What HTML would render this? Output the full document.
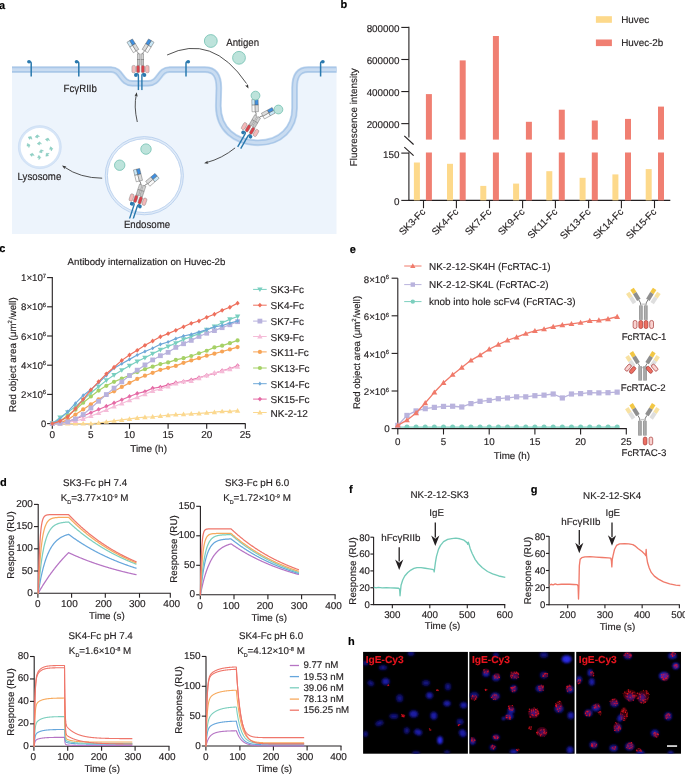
<!DOCTYPE html>
<html><head><meta charset="utf-8"><style>
html,body{margin:0;padding:0;background:#fff;}
body{width:685px;height:775px;overflow:hidden;}
svg{display:block;font-family:"Liberation Sans", sans-serif;will-change:transform;text-rendering:geometricPrecision;}
text{stroke-width:0.16px;}
</style></head><body>
<svg width="685" height="775" viewBox="0 0 685 775">
<text x="-0.90" y="8.70" font-size="11" text-anchor="start" fill="#000" stroke="#000" font-weight="bold">a</text>
<text x="340.50" y="8.30" font-size="11" text-anchor="start" fill="#000" stroke="#000" font-weight="bold">b</text>
<text x="-0.70" y="252.40" font-size="11" text-anchor="start" fill="#000" stroke="#000" font-weight="bold">c</text>
<text x="349.70" y="252.60" font-size="11" text-anchor="start" fill="#000" stroke="#000" font-weight="bold">e</text>
<text x="0.00" y="486.10" font-size="11" text-anchor="start" fill="#000" stroke="#000" font-weight="bold">d</text>
<text x="349.00" y="492.80" font-size="11" text-anchor="start" fill="#000" stroke="#000" font-weight="bold">f</text>
<text x="530.70" y="492.60" font-size="11" text-anchor="start" fill="#000" stroke="#000" font-weight="bold">g</text>
<text x="347.90" y="645.40" font-size="11" text-anchor="start" fill="#000" stroke="#000" font-weight="bold">h</text>
<path d="M12,69.6 H111 C122,69.6 120.5,83.4 132.5,83.4 H148 C160,83.4 158.5,69.6 169.5,69.6 H205 C215,69.6 218.8,76 218.8,88 L218.3,106 C218.3,129 235,142.8 258,142.8 C281,142.8 294.6,128 294.6,108 L294.6,88 C294.6,76 298.5,69.6 308,69.6 H336.5 V234.1 H12 Z" fill="#edf4fc"/>
<path d="M12,69.6 H111 C122,69.6 120.5,83.4 132.5,83.4 H148 C160,83.4 158.5,69.6 169.5,69.6 H205 C215,69.6 218.8,76 218.8,88 L218.3,106 C218.3,129 235,142.8 258,142.8 C281,142.8 294.6,128 294.6,108 L294.6,88 C294.6,76 298.5,69.6 308,69.6 H336.5" fill="none" stroke="#c9dcf1" stroke-width="6.8"/>
<path d="M12,69.6 H111 C122,69.6 120.5,83.4 132.5,83.4 H148 C160,83.4 158.5,69.6 169.5,69.6 H205 C215,69.6 218.8,76 218.8,88 L218.3,106 C218.3,129 235,142.8 258,142.8 C281,142.8 294.6,128 294.6,108 L294.6,88 C294.6,76 298.5,69.6 308,69.6 H336.5" fill="none" stroke="#a9c7e8" stroke-width="5.6"/>
<path d="M12,69.6 H111 C122,69.6 120.5,83.4 132.5,83.4 H148 C160,83.4 158.5,69.6 169.5,69.6 H205 C215,69.6 218.8,76 218.8,88 L218.3,106 C218.3,129 235,142.8 258,142.8 C281,142.8 294.6,128 294.6,108 L294.6,88 C294.6,76 298.5,69.6 308,69.6 H336.5" fill="none" stroke="#c9dcf1" stroke-width="2.9"/>
<path d="M31.2,76.5 V63.4 Q31.2,61.6 29.5,61.8" fill="none" stroke="#2a79ae" stroke-width="1.5"/>
<ellipse cx="29.0" cy="61.699999999999996" rx="1.9" ry="1.7" fill="#2a79ae"/>
<path d="M78.8,76.5 V63.4 Q78.8,61.6 77.1,61.8" fill="none" stroke="#2a79ae" stroke-width="1.5"/>
<ellipse cx="76.6" cy="61.699999999999996" rx="1.9" ry="1.7" fill="#2a79ae"/>
<path d="M186.0,76.5 V63.4 Q186.0,61.6 187.7,61.8" fill="none" stroke="#2a79ae" stroke-width="1.5"/>
<ellipse cx="188.2" cy="61.699999999999996" rx="1.9" ry="1.7" fill="#2a79ae"/>
<path d="M320.6,76.5 V63.4 Q320.6,61.6 322.3,61.8" fill="none" stroke="#2a79ae" stroke-width="1.5"/>
<ellipse cx="322.8" cy="61.699999999999996" rx="1.9" ry="1.7" fill="#2a79ae"/>
<circle cx="210.8" cy="41.0" r="6.4" fill="#bde3db" stroke="#7cc5b7" stroke-width="0.9"/>
<circle cx="239.0" cy="57.8" r="6.4" fill="#bde3db" stroke="#7cc5b7" stroke-width="0.9"/>
<defs><clipPath id="topclip"><rect x="0" y="0" width="345" height="90.2"/></clipPath><clipPath id="endoclip"><rect x="0" y="0" width="345" height="218.6"/></clipPath></defs>
<g clip-path="url(#topclip)">
<g transform="translate(140.5 65.2) rotate(0)"><g><path d="M-2.1,25 V10.4 Q-2.1,8.2 -4.2,8.6" fill="none" stroke="#2a79ae" stroke-width="1.4"/><circle cx="-4.6" cy="9.8" r="1.9" fill="#2a79ae"/><path d="M1.4,25 V10.4 Q1.4,8.2 3.5,8.6" fill="none" stroke="#2a79ae" stroke-width="1.4"/><circle cx="3.9" cy="9.8" r="1.9" fill="#2a79ae"/></g><g><path d="M-1.9,-11 Q-2.2,-13 -4.2,-14.3 M1.9,-11 Q2.2,-13 4.2,-14.3" fill="none" stroke="#333" stroke-width="0.55"/><rect x="-3.3" y="-11.3" width="2.8" height="5.6" fill="#d2d2d2" stroke="#666" stroke-width="0.4"/><rect x="-3.3" y="-5.7" width="2.8" height="5.7" fill="#c4c4c4" stroke="#666" stroke-width="0.4"/><rect x="0.5" y="-11.3" width="2.8" height="5.6" fill="#d2d2d2" stroke="#666" stroke-width="0.4"/><rect x="0.5" y="-5.7" width="2.8" height="5.7" fill="#c4c4c4" stroke="#666" stroke-width="0.4"/><g transform="translate(-7.55 -19.3) rotate(-31.5)"><rect x="-3.2" y="-6.2" width="3.2" height="5.6" fill="#cbe8f6" stroke="#555" stroke-width="0.4"/><rect x="0" y="-6.2" width="3.2" height="5.6" fill="#3f8fe0" stroke="#555" stroke-width="0.4"/><rect x="-3.2" y="-0.6" width="3.2" height="6.6" fill="#fafafa" stroke="#555" stroke-width="0.4"/><rect x="0" y="-0.6" width="3.2" height="6.6" fill="#dcdcdc" stroke="#555" stroke-width="0.4"/></g><g transform="translate(7.55 -19.3) rotate(31.5)"><rect x="0" y="-6.2" width="3.2" height="5.6" fill="#cbe8f6" stroke="#555" stroke-width="0.4"/><rect x="-3.2" y="-6.2" width="3.2" height="5.6" fill="#3f8fe0" stroke="#555" stroke-width="0.4"/><rect x="0" y="-0.6" width="3.2" height="6.6" fill="#fafafa" stroke="#555" stroke-width="0.4"/><rect x="-3.2" y="-0.6" width="3.2" height="6.6" fill="#dcdcdc" stroke="#555" stroke-width="0.4"/></g><rect x="-8.6" y="0.2" width="3.6" height="7.4" rx="1.5" fill="#f4b9b9" stroke="#777" stroke-width="0.4"/><rect x="-4.0" y="0.2" width="3.2" height="7.4" rx="1.4" fill="#d8414a" stroke="#777" stroke-width="0.4"/><rect x="0.8" y="0.2" width="3.2" height="7.4" rx="1.4" fill="#d8414a" stroke="#777" stroke-width="0.4"/><rect x="5.0" y="0.2" width="3.6" height="7.4" rx="1.5" fill="#f4b9b9" stroke="#777" stroke-width="0.4"/></g></g>
</g>
<g transform="translate(252.0 126.2) rotate(30)"><g><path d="M-2.1,25 V10.4 Q-2.1,8.2 -4.2,8.6" fill="none" stroke="#2a79ae" stroke-width="1.4"/><circle cx="-4.6" cy="9.8" r="1.9" fill="#2a79ae"/><path d="M1.4,25 V10.4 Q1.4,8.2 3.5,8.6" fill="none" stroke="#2a79ae" stroke-width="1.4"/><circle cx="3.9" cy="9.8" r="1.9" fill="#2a79ae"/></g><g><path d="M-1.9,-11 Q-2.2,-13 -4.2,-14.3 M1.9,-11 Q2.2,-13 4.2,-14.3" fill="none" stroke="#333" stroke-width="0.55"/><rect x="-3.3" y="-11.3" width="2.8" height="5.6" fill="#d2d2d2" stroke="#666" stroke-width="0.4"/><rect x="-3.3" y="-5.7" width="2.8" height="5.7" fill="#c4c4c4" stroke="#666" stroke-width="0.4"/><rect x="0.5" y="-11.3" width="2.8" height="5.6" fill="#d2d2d2" stroke="#666" stroke-width="0.4"/><rect x="0.5" y="-5.7" width="2.8" height="5.7" fill="#c4c4c4" stroke="#666" stroke-width="0.4"/><g transform="translate(-7.55 -19.3) rotate(-31.5)"><rect x="-3.2" y="-6.2" width="3.2" height="5.6" fill="#cbe8f6" stroke="#555" stroke-width="0.4"/><rect x="0" y="-6.2" width="3.2" height="5.6" fill="#3f8fe0" stroke="#555" stroke-width="0.4"/><rect x="-3.2" y="-0.6" width="3.2" height="6.6" fill="#fafafa" stroke="#555" stroke-width="0.4"/><rect x="0" y="-0.6" width="3.2" height="6.6" fill="#dcdcdc" stroke="#555" stroke-width="0.4"/></g><g transform="translate(7.55 -19.3) rotate(31.5)"><rect x="0" y="-6.2" width="3.2" height="5.6" fill="#cbe8f6" stroke="#555" stroke-width="0.4"/><rect x="-3.2" y="-6.2" width="3.2" height="5.6" fill="#3f8fe0" stroke="#555" stroke-width="0.4"/><rect x="0" y="-0.6" width="3.2" height="6.6" fill="#fafafa" stroke="#555" stroke-width="0.4"/><rect x="-3.2" y="-0.6" width="3.2" height="6.6" fill="#dcdcdc" stroke="#555" stroke-width="0.4"/></g><rect x="-8.6" y="0.2" width="3.6" height="7.4" rx="1.5" fill="#f4b9b9" stroke="#777" stroke-width="0.4"/><rect x="-4.0" y="0.2" width="3.2" height="7.4" rx="1.4" fill="#d8414a" stroke="#777" stroke-width="0.4"/><rect x="0.8" y="0.2" width="3.2" height="7.4" rx="1.4" fill="#d8414a" stroke="#777" stroke-width="0.4"/><rect x="5.0" y="0.2" width="3.6" height="7.4" rx="1.5" fill="#f4b9b9" stroke="#777" stroke-width="0.4"/></g></g>
<circle cx="255.5" cy="95.6" r="4.4" fill="#bde3db" stroke="#7cc5b7" stroke-width="0.9"/>
<circle cx="278.4" cy="109.5" r="4.4" fill="#bde3db" stroke="#7cc5b7" stroke-width="0.9"/>
<circle cx="39.8" cy="147.1" r="20.4" fill="#fff" stroke="#d6e5f7" stroke-width="2.4"/>
<circle cx="39.8" cy="147.1" r="21.5" fill="none" stroke="#c2d7f1" stroke-width="0.5"/>
<path d="M28.1,138.2 L30.4,136.3 L32.5,138.3 L30.6,138.1 L30.5,139.6Z" fill="#93d3c7" stroke="#6fbfb1" stroke-width="0.35" transform="rotate(30 30.3 137.9)"/>
<path d="M35.1,136.7 L37.4,134.8 L39.5,136.8 L37.6,136.6 L37.5,138.1Z" fill="#93d3c7" stroke="#6fbfb1" stroke-width="0.35" transform="rotate(-10 37.3 136.4)"/>
<path d="M45.4,139.9 L47.7,138.0 L49.8,140.0 L47.9,139.8 L47.8,141.3Z" fill="#93d3c7" stroke="#6fbfb1" stroke-width="0.35" transform="rotate(15 47.6 139.6)"/>
<path d="M37.2,143.7 L39.5,141.8 L41.6,143.8 L39.7,143.6 L39.6,145.1Z" fill="#93d3c7" stroke="#6fbfb1" stroke-width="0.35" transform="rotate(0 39.4 143.4)"/>
<path d="M26.3,145.7 L28.6,143.8 L30.7,145.8 L28.8,145.6 L28.7,147.1Z" fill="#93d3c7" stroke="#6fbfb1" stroke-width="0.35" transform="rotate(70 28.5 145.4)"/>
<path d="M49.0,149.1 L51.3,147.2 L53.4,149.2 L51.5,149.0 L51.4,150.5Z" fill="#93d3c7" stroke="#6fbfb1" stroke-width="0.35" transform="rotate(80 51.2 148.8)"/>
<path d="M39.1,151.5 L41.4,149.6 L43.5,151.6 L41.6,151.4 L41.5,152.9Z" fill="#93d3c7" stroke="#6fbfb1" stroke-width="0.35" transform="rotate(-20 41.3 151.2)"/>
<path d="M29.9,155.0 L32.2,153.1 L34.3,155.1 L32.4,154.9 L32.3,156.4Z" fill="#93d3c7" stroke="#6fbfb1" stroke-width="0.35" transform="rotate(10 32.1 154.7)"/>
<path d="M45.1,154.9 L47.4,153.0 L49.5,155.0 L47.6,154.8 L47.5,156.3Z" fill="#93d3c7" stroke="#6fbfb1" stroke-width="0.35" transform="rotate(-40 47.3 154.6)"/>
<path d="M37.0,157.8 L39.3,155.9 L41.4,157.9 L39.5,157.7 L39.4,159.2Z" fill="#93d3c7" stroke="#6fbfb1" stroke-width="0.35" transform="rotate(90 39.2 157.5)"/>
<circle cx="144.3" cy="175.7" r="38.0" fill="#fff" stroke="#e0ebf8" stroke-width="2.2"/>
<circle cx="144.3" cy="175.7" r="39.1" fill="none" stroke="#b3ccec" stroke-width="0.8"/>
<circle cx="144.3" cy="175.7" r="36.9" fill="none" stroke="#b3ccec" stroke-width="0.8"/>
<circle cx="146.0" cy="149.1" r="5.2" fill="#bde3db" stroke="#7cc5b7" stroke-width="0.9"/>
<circle cx="119.7" cy="165.2" r="5.2" fill="#bde3db" stroke="#7cc5b7" stroke-width="0.9"/>
<g clip-path="url(#endoclip)">
<g transform="translate(139.2 195.9) rotate(18)"><g><path d="M-2.1,25 V10.4 Q-2.1,8.2 -4.2,8.6" fill="none" stroke="#2a79ae" stroke-width="1.4"/><circle cx="-4.6" cy="9.8" r="1.9" fill="#2a79ae"/><path d="M1.4,25 V10.4 Q1.4,8.2 3.5,8.6" fill="none" stroke="#2a79ae" stroke-width="1.4"/><circle cx="3.9" cy="9.8" r="1.9" fill="#2a79ae"/></g><g><path d="M-1.9,-11 Q-2.2,-13 -4.2,-14.3 M1.9,-11 Q2.2,-13 4.2,-14.3" fill="none" stroke="#333" stroke-width="0.55"/><rect x="-3.3" y="-11.3" width="2.8" height="5.6" fill="#d2d2d2" stroke="#666" stroke-width="0.4"/><rect x="-3.3" y="-5.7" width="2.8" height="5.7" fill="#c4c4c4" stroke="#666" stroke-width="0.4"/><rect x="0.5" y="-11.3" width="2.8" height="5.6" fill="#d2d2d2" stroke="#666" stroke-width="0.4"/><rect x="0.5" y="-5.7" width="2.8" height="5.7" fill="#c4c4c4" stroke="#666" stroke-width="0.4"/><g transform="translate(-7.55 -19.3) rotate(-31.5)"><rect x="-3.2" y="-6.2" width="3.2" height="5.6" fill="#cbe8f6" stroke="#555" stroke-width="0.4"/><rect x="0" y="-6.2" width="3.2" height="5.6" fill="#3f8fe0" stroke="#555" stroke-width="0.4"/><rect x="-3.2" y="-0.6" width="3.2" height="6.6" fill="#fafafa" stroke="#555" stroke-width="0.4"/><rect x="0" y="-0.6" width="3.2" height="6.6" fill="#dcdcdc" stroke="#555" stroke-width="0.4"/></g><g transform="translate(7.55 -19.3) rotate(31.5)"><rect x="0" y="-6.2" width="3.2" height="5.6" fill="#cbe8f6" stroke="#555" stroke-width="0.4"/><rect x="-3.2" y="-6.2" width="3.2" height="5.6" fill="#3f8fe0" stroke="#555" stroke-width="0.4"/><rect x="0" y="-0.6" width="3.2" height="6.6" fill="#fafafa" stroke="#555" stroke-width="0.4"/><rect x="-3.2" y="-0.6" width="3.2" height="6.6" fill="#dcdcdc" stroke="#555" stroke-width="0.4"/></g><rect x="-8.6" y="0.2" width="3.6" height="7.4" rx="1.5" fill="#f4b9b9" stroke="#777" stroke-width="0.4"/><rect x="-4.0" y="0.2" width="3.2" height="7.4" rx="1.4" fill="#d8414a" stroke="#777" stroke-width="0.4"/><rect x="0.8" y="0.2" width="3.2" height="7.4" rx="1.4" fill="#d8414a" stroke="#777" stroke-width="0.4"/><rect x="5.0" y="0.2" width="3.6" height="7.4" rx="1.5" fill="#f4b9b9" stroke="#777" stroke-width="0.4"/></g></g>
</g>
<path d="M167.1,55 Q212,33 246.5,83.5" fill="none" stroke="#333" stroke-width="0.85"/>
<path d="M0,0 L-4.2,-1.6 L-3.3,0 L-4.2,1.6 Z" fill="#333" transform="translate(248.5 88.4) rotate(62)"/>
<path d="M137.3,122 Q133.6,106 136.4,94.3" fill="none" stroke="#333" stroke-width="0.85"/>
<path d="M0,0 L-4.2,-1.6 L-3.3,0 L-4.2,1.6 Z" fill="#333" transform="translate(136.7 92.3) rotate(-82)"/>
<path d="M235.1,147.9 Q222,158.5 206.4,162.6" fill="none" stroke="#333" stroke-width="0.85"/>
<path d="M0,0 L-4.2,-1.6 L-3.3,0 L-4.2,1.6 Z" fill="#333" transform="translate(204.1 163.3) rotate(165)"/>
<path d="M102.2,178.2 Q80,178 64.6,167.2" fill="none" stroke="#333" stroke-width="0.85"/>
<path d="M0,0 L-4.2,-1.6 L-3.3,0 L-4.2,1.6 Z" fill="#333" transform="translate(62.0 165.6) rotate(-148)"/>
<text x="0" y="0" font-size="10.5" text-anchor="start" fill="#231f20" stroke="#231f20" transform="translate(63.60 92.00) scale(0.92 1)">FcγRIIb</text>
<text x="0" y="0" font-size="10.5" text-anchor="start" fill="#231f20" stroke="#231f20" transform="translate(226.30 45.60) scale(0.92 1)">Antigen</text>
<text x="0" y="0" font-size="10.5" text-anchor="start" fill="#231f20" stroke="#231f20" transform="translate(17.60 180.20) scale(0.92 1)">Lysosome</text>
<text x="0" y="0" font-size="10.5" text-anchor="start" fill="#231f20" stroke="#231f20" transform="translate(123.90 228.20) scale(0.92 1)">Endosome</text>
<line x1="408.90" y1="26.80" x2="408.90" y2="137.50" stroke="#231f20" stroke-width="1.1"/>
<line x1="408.90" y1="152.60" x2="408.90" y2="200.80" stroke="#231f20" stroke-width="1.1"/>
<line x1="404.30" y1="135.80" x2="413.60" y2="144.50" stroke="#231f20" stroke-width="1.1"/>
<line x1="404.30" y1="147.10" x2="413.60" y2="155.70" stroke="#231f20" stroke-width="1.1"/>
<line x1="401.30" y1="27.42" x2="408.90" y2="27.42" stroke="#231f20" stroke-width="1.1"/>
<text x="399.50" y="31.82" font-size="9.85" text-anchor="end" fill="#231f20" stroke="#231f20">800000</text>
<line x1="401.30" y1="59.49" x2="408.90" y2="59.49" stroke="#231f20" stroke-width="1.1"/>
<text x="399.50" y="63.89" font-size="9.85" text-anchor="end" fill="#231f20" stroke="#231f20">600000</text>
<line x1="401.30" y1="91.56" x2="408.90" y2="91.56" stroke="#231f20" stroke-width="1.1"/>
<text x="399.50" y="95.96" font-size="9.85" text-anchor="end" fill="#231f20" stroke="#231f20">400000</text>
<line x1="401.30" y1="123.63" x2="408.90" y2="123.63" stroke="#231f20" stroke-width="1.1"/>
<text x="399.50" y="128.03" font-size="9.85" text-anchor="end" fill="#231f20" stroke="#231f20">200000</text>
<line x1="401.30" y1="153.10" x2="408.90" y2="153.10" stroke="#231f20" stroke-width="1.1"/>
<text x="399.50" y="157.50" font-size="9.85" text-anchor="end" fill="#231f20" stroke="#231f20">150</text>
<line x1="401.30" y1="200.40" x2="408.90" y2="200.40" stroke="#231f20" stroke-width="1.1"/>
<text x="399.50" y="204.80" font-size="9.85" text-anchor="end" fill="#231f20" stroke="#231f20">0</text>
<line x1="408.40" y1="200.40" x2="670.30" y2="200.40" stroke="#231f20" stroke-width="1.1"/>
<rect x="413.90" y="162.50" width="6.00" height="37.90" fill="#fdd98b"/>
<rect x="425.90" y="94.10" width="6.00" height="45.50" fill="#f07f72"/>
<rect x="425.90" y="152.50" width="6.00" height="47.90" fill="#f07f72"/>
<line x1="423.50" y1="200.40" x2="423.50" y2="208.20" stroke="#231f20" stroke-width="1.1"/>
<text x="426.10" y="212.60" font-size="9.85" text-anchor="end" fill="#231f20" stroke="#231f20" transform="rotate(-45 426.1 212.6)">SK3-Fc</text>
<rect x="447.00" y="163.80" width="6.00" height="36.60" fill="#fdd98b"/>
<rect x="459.70" y="60.40" width="6.00" height="79.20" fill="#f07f72"/>
<rect x="459.70" y="152.50" width="6.00" height="47.90" fill="#f07f72"/>
<line x1="456.40" y1="200.40" x2="456.40" y2="208.20" stroke="#231f20" stroke-width="1.1"/>
<text x="459.00" y="212.60" font-size="9.85" text-anchor="end" fill="#231f20" stroke="#231f20" transform="rotate(-45 459.0 212.6)">SK4-Fc</text>
<rect x="480.30" y="185.90" width="6.00" height="14.50" fill="#fdd98b"/>
<rect x="492.90" y="36.00" width="6.00" height="103.60" fill="#f07f72"/>
<rect x="492.90" y="152.50" width="6.00" height="47.90" fill="#f07f72"/>
<line x1="489.50" y1="200.40" x2="489.50" y2="208.20" stroke="#231f20" stroke-width="1.1"/>
<text x="492.10" y="212.60" font-size="9.85" text-anchor="end" fill="#231f20" stroke="#231f20" transform="rotate(-45 492.1 212.6)">SK7-Fc</text>
<rect x="513.10" y="183.60" width="6.00" height="16.80" fill="#fdd98b"/>
<rect x="525.90" y="121.80" width="6.00" height="17.80" fill="#f07f72"/>
<rect x="525.90" y="152.50" width="6.00" height="47.90" fill="#f07f72"/>
<line x1="522.60" y1="200.40" x2="522.60" y2="208.20" stroke="#231f20" stroke-width="1.1"/>
<text x="525.20" y="212.60" font-size="9.85" text-anchor="end" fill="#231f20" stroke="#231f20" transform="rotate(-45 525.2 212.6)">SK9-Fc</text>
<rect x="546.30" y="171.20" width="6.00" height="29.20" fill="#fdd98b"/>
<rect x="558.80" y="109.70" width="6.00" height="29.90" fill="#f07f72"/>
<rect x="558.80" y="152.50" width="6.00" height="47.90" fill="#f07f72"/>
<line x1="555.40" y1="200.40" x2="555.40" y2="208.20" stroke="#231f20" stroke-width="1.1"/>
<text x="558.00" y="212.60" font-size="9.85" text-anchor="end" fill="#231f20" stroke="#231f20" transform="rotate(-45 558.0 212.6)">SK11-Fc</text>
<rect x="579.60" y="177.80" width="6.00" height="22.60" fill="#fdd98b"/>
<rect x="591.80" y="120.50" width="6.00" height="19.10" fill="#f07f72"/>
<rect x="591.80" y="152.50" width="6.00" height="47.90" fill="#f07f72"/>
<line x1="588.60" y1="200.40" x2="588.60" y2="208.20" stroke="#231f20" stroke-width="1.1"/>
<text x="591.20" y="212.60" font-size="9.85" text-anchor="end" fill="#231f20" stroke="#231f20" transform="rotate(-45 591.2 212.6)">SK13-Fc</text>
<rect x="612.40" y="174.40" width="6.00" height="26.00" fill="#fdd98b"/>
<rect x="625.00" y="118.90" width="6.00" height="20.70" fill="#f07f72"/>
<rect x="625.00" y="152.50" width="6.00" height="47.90" fill="#f07f72"/>
<line x1="621.40" y1="200.40" x2="621.40" y2="208.20" stroke="#231f20" stroke-width="1.1"/>
<text x="624.00" y="212.60" font-size="9.85" text-anchor="end" fill="#231f20" stroke="#231f20" transform="rotate(-45 624.0 212.6)">SK14-Fc</text>
<rect x="645.70" y="169.10" width="6.00" height="31.30" fill="#fdd98b"/>
<rect x="658.00" y="106.60" width="6.00" height="33.00" fill="#f07f72"/>
<rect x="658.00" y="152.50" width="6.00" height="47.90" fill="#f07f72"/>
<line x1="654.50" y1="200.40" x2="654.50" y2="208.20" stroke="#231f20" stroke-width="1.1"/>
<text x="657.10" y="212.60" font-size="9.85" text-anchor="end" fill="#231f20" stroke="#231f20" transform="rotate(-45 657.1 212.6)">SK15-Fc</text>
<text x="357.50" y="117.20" font-size="9.85" text-anchor="middle" fill="#231f20" stroke="#231f20" transform="rotate(-90 357.5 117.2)">Fluorescence intensity</text>
<rect x="595.90" y="16.20" width="16.00" height="6.60" fill="#fdd98b"/>
<rect x="595.90" y="39.50" width="16.00" height="6.60" fill="#f07f72"/>
<text x="621.20" y="23.20" font-size="9.85" text-anchor="start" fill="#231f20" stroke="#231f20">Huvec</text>
<text x="621.20" y="46.30" font-size="9.85" text-anchor="start" fill="#231f20" stroke="#231f20">Huvec-2b</text>
<text x="146.50" y="265.00" font-size="9.7" text-anchor="middle" fill="#231f20" stroke="#231f20">Antibody internalization on Huvec-2b</text>
<line x1="52.30" y1="277.10" x2="52.30" y2="424.10" stroke="#231f20" stroke-width="1.1"/>
<line x1="51.80" y1="423.60" x2="245.50" y2="423.60" stroke="#231f20" stroke-width="1.1"/>
<line x1="47.10" y1="423.60" x2="52.30" y2="423.60" stroke="#231f20" stroke-width="1.1"/>
<text x="46.20" y="427.20" font-size="9.4" text-anchor="end" fill="#231f20" stroke="#231f20">0</text>
<line x1="47.10" y1="394.40" x2="52.30" y2="394.40" stroke="#231f20" stroke-width="1.1"/>
<text x="46.20" y="398.00" font-size="9.7" text-anchor="end" fill="#231f20" stroke="#231f20">2×10<tspan font-size="6.01" dy="-3.6">6</tspan></text>
<line x1="47.10" y1="365.20" x2="52.30" y2="365.20" stroke="#231f20" stroke-width="1.1"/>
<text x="46.20" y="368.80" font-size="9.7" text-anchor="end" fill="#231f20" stroke="#231f20">4×10<tspan font-size="6.01" dy="-3.6">6</tspan></text>
<line x1="47.10" y1="336.00" x2="52.30" y2="336.00" stroke="#231f20" stroke-width="1.1"/>
<text x="46.20" y="339.60" font-size="9.7" text-anchor="end" fill="#231f20" stroke="#231f20">6×10<tspan font-size="6.01" dy="-3.6">6</tspan></text>
<line x1="47.10" y1="306.80" x2="52.30" y2="306.80" stroke="#231f20" stroke-width="1.1"/>
<text x="46.20" y="310.40" font-size="9.7" text-anchor="end" fill="#231f20" stroke="#231f20">8×10<tspan font-size="6.01" dy="-3.6">6</tspan></text>
<line x1="47.10" y1="277.60" x2="52.30" y2="277.60" stroke="#231f20" stroke-width="1.1"/>
<text x="46.20" y="281.20" font-size="9.7" text-anchor="end" fill="#231f20" stroke="#231f20">1×10<tspan font-size="6.01" dy="-3.6">7</tspan></text>
<line x1="52.30" y1="423.60" x2="52.30" y2="428.80" stroke="#231f20" stroke-width="1.1"/>
<text x="52.30" y="438.30" font-size="10.0" text-anchor="middle" fill="#231f20" stroke="#231f20">0</text>
<line x1="90.90" y1="423.60" x2="90.90" y2="428.80" stroke="#231f20" stroke-width="1.1"/>
<text x="90.90" y="438.30" font-size="10.0" text-anchor="middle" fill="#231f20" stroke="#231f20">5</text>
<line x1="129.50" y1="423.60" x2="129.50" y2="428.80" stroke="#231f20" stroke-width="1.1"/>
<text x="129.50" y="438.30" font-size="10.0" text-anchor="middle" fill="#231f20" stroke="#231f20">10</text>
<line x1="168.10" y1="423.60" x2="168.10" y2="428.80" stroke="#231f20" stroke-width="1.1"/>
<text x="168.10" y="438.30" font-size="10.0" text-anchor="middle" fill="#231f20" stroke="#231f20">15</text>
<line x1="206.70" y1="423.60" x2="206.70" y2="428.80" stroke="#231f20" stroke-width="1.1"/>
<text x="206.70" y="438.30" font-size="10.0" text-anchor="middle" fill="#231f20" stroke="#231f20">20</text>
<line x1="245.30" y1="423.60" x2="245.30" y2="428.80" stroke="#231f20" stroke-width="1.1"/>
<text x="245.30" y="438.30" font-size="10.0" text-anchor="middle" fill="#231f20" stroke="#231f20">25</text>
<text x="148.60" y="452.30" font-size="10.0" text-anchor="middle" fill="#231f20" stroke="#231f20">Time (h)</text>
<text x="0" y="0" font-size="9.78" text-anchor="middle" fill="#231f20" stroke="#231f20" transform="translate(15.6 354.7) rotate(-90)">Red object area (μm<tspan font-size="6" dy="-3.4">2</tspan><tspan dy="3.4">/well)</tspan></text>
<polyline points="52.30,423.60 60.02,423.60 67.74,423.60 75.46,423.60 83.18,423.60 90.90,423.60 98.62,423.02 106.34,421.85 114.06,420.83 121.78,419.95 129.50,418.93 137.22,417.91 144.94,417.18 152.66,416.74 160.38,416.01 168.10,415.13 175.82,414.55 183.54,414.26 191.26,413.82 198.98,413.38 206.70,412.80 214.42,412.21 222.14,411.34 229.86,411.34 237.58,410.61" fill="none" stroke="#fbd88f" stroke-width="1.2" stroke-linejoin="round"/>
<path d="M52.30,420.90L55.00,425.62L49.60,425.62Z" fill="#fbd88f"/>
<path d="M60.02,420.90L62.72,425.62L57.32,425.62Z" fill="#fbd88f"/>
<path d="M67.74,420.90L70.44,425.62L65.04,425.62Z" fill="#fbd88f"/>
<path d="M75.46,420.90L78.16,425.62L72.76,425.62Z" fill="#fbd88f"/>
<path d="M83.18,420.90L85.88,425.62L80.48,425.62Z" fill="#fbd88f"/>
<path d="M90.90,420.90L93.60,425.62L88.20,425.62Z" fill="#fbd88f"/>
<path d="M98.62,420.32L101.32,425.04L95.92,425.04Z" fill="#fbd88f"/>
<path d="M106.34,419.15L109.04,423.87L103.64,423.87Z" fill="#fbd88f"/>
<path d="M114.06,418.13L116.76,422.85L111.36,422.85Z" fill="#fbd88f"/>
<path d="M121.78,417.25L124.48,421.98L119.08,421.98Z" fill="#fbd88f"/>
<path d="M129.50,416.23L132.20,420.95L126.80,420.95Z" fill="#fbd88f"/>
<path d="M137.22,415.21L139.92,419.93L134.52,419.93Z" fill="#fbd88f"/>
<path d="M144.94,414.48L147.64,419.20L142.24,419.20Z" fill="#fbd88f"/>
<path d="M152.66,414.04L155.36,418.76L149.96,418.76Z" fill="#fbd88f"/>
<path d="M160.38,413.31L163.08,418.03L157.68,418.03Z" fill="#fbd88f"/>
<path d="M168.10,412.43L170.80,417.16L165.40,417.16Z" fill="#fbd88f"/>
<path d="M175.82,411.85L178.52,416.57L173.12,416.57Z" fill="#fbd88f"/>
<path d="M183.54,411.56L186.24,416.28L180.84,416.28Z" fill="#fbd88f"/>
<path d="M191.26,411.12L193.96,415.84L188.56,415.84Z" fill="#fbd88f"/>
<path d="M198.98,410.68L201.68,415.40L196.28,415.40Z" fill="#fbd88f"/>
<path d="M206.70,410.10L209.40,414.82L204.00,414.82Z" fill="#fbd88f"/>
<path d="M214.42,409.51L217.12,414.24L211.72,414.24Z" fill="#fbd88f"/>
<path d="M222.14,408.64L224.84,413.36L219.44,413.36Z" fill="#fbd88f"/>
<path d="M229.86,408.64L232.56,413.36L227.16,413.36Z" fill="#fbd88f"/>
<path d="M237.58,407.91L240.28,412.63L234.88,412.63Z" fill="#fbd88f"/>
<polyline points="52.30,423.60 60.02,423.16 67.74,421.56 75.46,418.93 83.18,416.01 90.90,412.80 98.62,409.44 106.34,406.23 114.06,403.01 121.78,399.80 129.50,396.44 137.22,393.52 144.94,391.63 152.66,388.27 160.38,387.10 168.10,384.91 175.82,382.72 183.54,381.55 191.26,379.95 198.98,377.76 206.70,375.42 214.42,373.38 222.14,370.75 229.86,368.70 237.58,365.78" fill="none" stroke="#e56aa5" stroke-width="1.2" stroke-linejoin="round"/>
<path d="M52.30,421.19L54.40,423.60L52.30,426.02L50.20,423.60Z" fill="#e56aa5"/>
<path d="M60.02,420.75L62.12,423.16L60.02,425.58L57.92,423.16Z" fill="#e56aa5"/>
<path d="M67.74,419.14L69.84,421.56L67.74,423.97L65.64,421.56Z" fill="#e56aa5"/>
<path d="M75.46,416.51L77.56,418.93L75.46,421.34L73.36,418.93Z" fill="#e56aa5"/>
<path d="M83.18,413.59L85.28,416.01L83.18,418.42L81.08,416.01Z" fill="#e56aa5"/>
<path d="M90.90,410.38L93.00,412.80L90.90,415.21L88.80,412.80Z" fill="#e56aa5"/>
<path d="M98.62,407.02L100.72,409.44L98.62,411.85L96.52,409.44Z" fill="#e56aa5"/>
<path d="M106.34,403.81L108.44,406.23L106.34,408.64L104.24,406.23Z" fill="#e56aa5"/>
<path d="M114.06,400.60L116.16,403.01L114.06,405.43L111.96,403.01Z" fill="#e56aa5"/>
<path d="M121.78,397.39L123.88,399.80L121.78,402.22L119.68,399.80Z" fill="#e56aa5"/>
<path d="M129.50,394.03L131.60,396.44L129.50,398.86L127.40,396.44Z" fill="#e56aa5"/>
<path d="M137.22,391.11L139.32,393.52L137.22,395.94L135.12,393.52Z" fill="#e56aa5"/>
<path d="M144.94,389.21L147.04,391.63L144.94,394.04L142.84,391.63Z" fill="#e56aa5"/>
<path d="M152.66,385.85L154.76,388.27L152.66,390.68L150.56,388.27Z" fill="#e56aa5"/>
<path d="M160.38,384.69L162.48,387.10L160.38,389.52L158.28,387.10Z" fill="#e56aa5"/>
<path d="M168.10,382.50L170.20,384.91L168.10,387.33L166.00,384.91Z" fill="#e56aa5"/>
<path d="M175.82,380.31L177.92,382.72L175.82,385.14L173.72,382.72Z" fill="#e56aa5"/>
<path d="M183.54,379.14L185.64,381.55L183.54,383.97L181.44,381.55Z" fill="#e56aa5"/>
<path d="M191.26,377.53L193.36,379.95L191.26,382.36L189.16,379.95Z" fill="#e56aa5"/>
<path d="M198.98,375.34L201.08,377.76L198.98,380.17L196.88,377.76Z" fill="#e56aa5"/>
<path d="M206.70,373.00L208.80,375.42L206.70,377.84L204.60,375.42Z" fill="#e56aa5"/>
<path d="M214.42,370.96L216.52,373.38L214.42,375.79L212.32,373.38Z" fill="#e56aa5"/>
<path d="M222.14,368.33L224.24,370.75L222.14,373.16L220.04,370.75Z" fill="#e56aa5"/>
<path d="M229.86,366.29L231.96,368.70L229.86,371.12L227.76,368.70Z" fill="#e56aa5"/>
<path d="M237.58,363.37L239.68,365.78L237.58,368.20L235.48,365.78Z" fill="#e56aa5"/>
<polyline points="52.30,423.60 60.02,423.31 67.74,422.43 75.46,420.97 83.18,418.93 90.90,416.01 98.62,413.09 106.34,409.88 114.06,406.52 121.78,403.45 129.50,400.24 137.22,397.32 144.94,394.25 152.66,390.90 160.38,389.00 168.10,386.37 175.82,383.60 183.54,381.55 191.26,380.97 198.98,378.34 206.70,375.42 214.42,372.79 222.14,371.19 229.86,369.14 237.58,366.66" fill="none" stroke="#f5bcd8" stroke-width="1.2" stroke-linejoin="round"/>
<path d="M52.30,420.90L55.00,425.62L49.60,425.62Z" fill="#f5bcd8"/>
<path d="M60.02,420.61L62.72,425.33L57.32,425.33Z" fill="#f5bcd8"/>
<path d="M67.74,419.73L70.44,424.46L65.04,424.46Z" fill="#f5bcd8"/>
<path d="M75.46,418.27L78.16,423.00L72.76,423.00Z" fill="#f5bcd8"/>
<path d="M83.18,416.23L85.88,420.95L80.48,420.95Z" fill="#f5bcd8"/>
<path d="M90.90,413.31L93.60,418.03L88.20,418.03Z" fill="#f5bcd8"/>
<path d="M98.62,410.39L101.32,415.11L95.92,415.11Z" fill="#f5bcd8"/>
<path d="M106.34,407.18L109.04,411.90L103.64,411.90Z" fill="#f5bcd8"/>
<path d="M114.06,403.82L116.76,408.54L111.36,408.54Z" fill="#f5bcd8"/>
<path d="M121.78,400.75L124.48,405.48L119.08,405.48Z" fill="#f5bcd8"/>
<path d="M129.50,397.54L132.20,402.26L126.80,402.26Z" fill="#f5bcd8"/>
<path d="M137.22,394.62L139.92,399.35L134.52,399.35Z" fill="#f5bcd8"/>
<path d="M144.94,391.55L147.64,396.28L142.24,396.28Z" fill="#f5bcd8"/>
<path d="M152.66,388.20L155.36,392.92L149.96,392.92Z" fill="#f5bcd8"/>
<path d="M160.38,386.30L163.08,391.02L157.68,391.02Z" fill="#f5bcd8"/>
<path d="M168.10,383.67L170.80,388.39L165.40,388.39Z" fill="#f5bcd8"/>
<path d="M175.82,380.90L178.52,385.62L173.12,385.62Z" fill="#f5bcd8"/>
<path d="M183.54,378.85L186.24,383.58L180.84,383.58Z" fill="#f5bcd8"/>
<path d="M191.26,378.27L193.96,382.99L188.56,382.99Z" fill="#f5bcd8"/>
<path d="M198.98,375.64L201.68,380.37L196.28,380.37Z" fill="#f5bcd8"/>
<path d="M206.70,372.72L209.40,377.44L204.00,377.44Z" fill="#f5bcd8"/>
<path d="M214.42,370.09L217.12,374.82L211.72,374.82Z" fill="#f5bcd8"/>
<path d="M222.14,368.49L224.84,373.21L219.44,373.21Z" fill="#f5bcd8"/>
<path d="M229.86,366.44L232.56,371.17L227.16,371.17Z" fill="#f5bcd8"/>
<path d="M237.58,363.96L240.28,368.69L234.88,368.69Z" fill="#f5bcd8"/>
<polyline points="52.30,423.60 60.02,422.87 67.74,419.66 75.46,414.55 83.18,409.44 90.90,404.33 98.62,399.36 106.34,394.98 114.06,391.33 121.78,386.95 129.50,382.87 137.22,378.92 144.94,375.71 152.66,372.79 160.38,369.87 168.10,367.83 175.82,365.93 183.54,362.86 191.26,360.38 198.98,358.19 206.70,355.71 214.42,353.67 222.14,351.48 229.86,349.43 237.58,347.10" fill="none" stroke="#f7a456" stroke-width="1.2" stroke-linejoin="round"/>
<circle cx="52.30" cy="423.60" r="2.10" fill="#f7a456"/>
<circle cx="60.02" cy="422.87" r="2.10" fill="#f7a456"/>
<circle cx="67.74" cy="419.66" r="2.10" fill="#f7a456"/>
<circle cx="75.46" cy="414.55" r="2.10" fill="#f7a456"/>
<circle cx="83.18" cy="409.44" r="2.10" fill="#f7a456"/>
<circle cx="90.90" cy="404.33" r="2.10" fill="#f7a456"/>
<circle cx="98.62" cy="399.36" r="2.10" fill="#f7a456"/>
<circle cx="106.34" cy="394.98" r="2.10" fill="#f7a456"/>
<circle cx="114.06" cy="391.33" r="2.10" fill="#f7a456"/>
<circle cx="121.78" cy="386.95" r="2.10" fill="#f7a456"/>
<circle cx="129.50" cy="382.87" r="2.10" fill="#f7a456"/>
<circle cx="137.22" cy="378.92" r="2.10" fill="#f7a456"/>
<circle cx="144.94" cy="375.71" r="2.10" fill="#f7a456"/>
<circle cx="152.66" cy="372.79" r="2.10" fill="#f7a456"/>
<circle cx="160.38" cy="369.87" r="2.10" fill="#f7a456"/>
<circle cx="168.10" cy="367.83" r="2.10" fill="#f7a456"/>
<circle cx="175.82" cy="365.93" r="2.10" fill="#f7a456"/>
<circle cx="183.54" cy="362.86" r="2.10" fill="#f7a456"/>
<circle cx="191.26" cy="360.38" r="2.10" fill="#f7a456"/>
<circle cx="198.98" cy="358.19" r="2.10" fill="#f7a456"/>
<circle cx="206.70" cy="355.71" r="2.10" fill="#f7a456"/>
<circle cx="214.42" cy="353.67" r="2.10" fill="#f7a456"/>
<circle cx="222.14" cy="351.48" r="2.10" fill="#f7a456"/>
<circle cx="229.86" cy="349.43" r="2.10" fill="#f7a456"/>
<circle cx="237.58" cy="347.10" r="2.10" fill="#f7a456"/>
<polyline points="52.30,423.60 60.02,421.12 67.74,415.28 75.46,409.73 83.18,402.72 90.90,396.44 98.62,390.60 106.34,385.79 114.06,381.84 121.78,378.49 129.50,375.27 137.22,372.06 144.94,369.14 152.66,366.66 160.38,364.03 168.10,362.43 175.82,359.94 183.54,358.19 191.26,356.00 198.98,353.23 206.70,350.75 214.42,347.39 222.14,345.64 229.86,343.15 237.58,340.38" fill="none" stroke="#a6d166" stroke-width="1.2" stroke-linejoin="round"/>
<circle cx="52.30" cy="423.60" r="2.10" fill="#a6d166"/>
<circle cx="60.02" cy="421.12" r="2.10" fill="#a6d166"/>
<circle cx="67.74" cy="415.28" r="2.10" fill="#a6d166"/>
<circle cx="75.46" cy="409.73" r="2.10" fill="#a6d166"/>
<circle cx="83.18" cy="402.72" r="2.10" fill="#a6d166"/>
<circle cx="90.90" cy="396.44" r="2.10" fill="#a6d166"/>
<circle cx="98.62" cy="390.60" r="2.10" fill="#a6d166"/>
<circle cx="106.34" cy="385.79" r="2.10" fill="#a6d166"/>
<circle cx="114.06" cy="381.84" r="2.10" fill="#a6d166"/>
<circle cx="121.78" cy="378.49" r="2.10" fill="#a6d166"/>
<circle cx="129.50" cy="375.27" r="2.10" fill="#a6d166"/>
<circle cx="137.22" cy="372.06" r="2.10" fill="#a6d166"/>
<circle cx="144.94" cy="369.14" r="2.10" fill="#a6d166"/>
<circle cx="152.66" cy="366.66" r="2.10" fill="#a6d166"/>
<circle cx="160.38" cy="364.03" r="2.10" fill="#a6d166"/>
<circle cx="168.10" cy="362.43" r="2.10" fill="#a6d166"/>
<circle cx="175.82" cy="359.94" r="2.10" fill="#a6d166"/>
<circle cx="183.54" cy="358.19" r="2.10" fill="#a6d166"/>
<circle cx="191.26" cy="356.00" r="2.10" fill="#a6d166"/>
<circle cx="198.98" cy="353.23" r="2.10" fill="#a6d166"/>
<circle cx="206.70" cy="350.75" r="2.10" fill="#a6d166"/>
<circle cx="214.42" cy="347.39" r="2.10" fill="#a6d166"/>
<circle cx="222.14" cy="345.64" r="2.10" fill="#a6d166"/>
<circle cx="229.86" cy="343.15" r="2.10" fill="#a6d166"/>
<circle cx="237.58" cy="340.38" r="2.10" fill="#a6d166"/>
<polyline points="52.30,423.60 60.02,423.31 67.74,421.85 75.46,418.93 83.18,414.55 90.90,407.98 98.62,401.26 106.34,394.55 114.06,388.12 121.78,381.84 129.50,375.57 137.22,370.16 144.94,364.91 152.66,359.94 160.38,355.71 168.10,352.35 175.82,347.39 183.54,343.74 191.26,340.38 198.98,336.44 206.70,333.23 214.42,330.60 222.14,327.68 229.86,324.76 237.58,321.69" fill="none" stroke="#b8b2dd" stroke-width="1.2" stroke-linejoin="round"/>
<rect x="49.90" y="421.20" width="4.80" height="4.80" fill="#b8b2dd"/>
<rect x="57.62" y="420.91" width="4.80" height="4.80" fill="#b8b2dd"/>
<rect x="65.34" y="419.45" width="4.80" height="4.80" fill="#b8b2dd"/>
<rect x="73.06" y="416.53" width="4.80" height="4.80" fill="#b8b2dd"/>
<rect x="80.78" y="412.15" width="4.80" height="4.80" fill="#b8b2dd"/>
<rect x="88.50" y="405.58" width="4.80" height="4.80" fill="#b8b2dd"/>
<rect x="96.22" y="398.86" width="4.80" height="4.80" fill="#b8b2dd"/>
<rect x="103.94" y="392.15" width="4.80" height="4.80" fill="#b8b2dd"/>
<rect x="111.66" y="385.72" width="4.80" height="4.80" fill="#b8b2dd"/>
<rect x="119.38" y="379.44" width="4.80" height="4.80" fill="#b8b2dd"/>
<rect x="127.10" y="373.17" width="4.80" height="4.80" fill="#b8b2dd"/>
<rect x="134.82" y="367.76" width="4.80" height="4.80" fill="#b8b2dd"/>
<rect x="142.54" y="362.51" width="4.80" height="4.80" fill="#b8b2dd"/>
<rect x="150.26" y="357.54" width="4.80" height="4.80" fill="#b8b2dd"/>
<rect x="157.98" y="353.31" width="4.80" height="4.80" fill="#b8b2dd"/>
<rect x="165.70" y="349.95" width="4.80" height="4.80" fill="#b8b2dd"/>
<rect x="173.42" y="344.99" width="4.80" height="4.80" fill="#b8b2dd"/>
<rect x="181.14" y="341.34" width="4.80" height="4.80" fill="#b8b2dd"/>
<rect x="188.86" y="337.98" width="4.80" height="4.80" fill="#b8b2dd"/>
<rect x="196.58" y="334.04" width="4.80" height="4.80" fill="#b8b2dd"/>
<rect x="204.30" y="330.83" width="4.80" height="4.80" fill="#b8b2dd"/>
<rect x="212.02" y="328.20" width="4.80" height="4.80" fill="#b8b2dd"/>
<rect x="219.74" y="325.28" width="4.80" height="4.80" fill="#b8b2dd"/>
<rect x="227.46" y="322.36" width="4.80" height="4.80" fill="#b8b2dd"/>
<rect x="235.18" y="319.29" width="4.80" height="4.80" fill="#b8b2dd"/>
<polyline points="52.30,423.60 60.02,417.47 67.74,412.36 75.46,406.52 83.18,399.80 90.90,392.79 98.62,386.66 106.34,380.38 114.06,374.98 121.78,370.16 129.50,365.78 137.22,361.55 144.94,357.75 152.66,353.67 160.38,349.87 168.10,346.51 175.82,343.15 183.54,339.36 191.26,336.58 198.98,333.66 206.70,329.87 214.42,326.51 222.14,322.71 229.86,319.36 237.58,316.44" fill="none" stroke="#79cfc0" stroke-width="1.2" stroke-linejoin="round"/>
<path d="M52.30,426.30L55.00,421.58L49.60,421.58Z" fill="#79cfc0"/>
<path d="M60.02,420.17L62.72,415.44L57.32,415.44Z" fill="#79cfc0"/>
<path d="M67.74,415.06L70.44,410.33L65.04,410.33Z" fill="#79cfc0"/>
<path d="M75.46,409.22L78.16,404.49L72.76,404.49Z" fill="#79cfc0"/>
<path d="M83.18,402.50L85.88,397.78L80.48,397.78Z" fill="#79cfc0"/>
<path d="M90.90,395.49L93.60,390.77L88.20,390.77Z" fill="#79cfc0"/>
<path d="M98.62,389.36L101.32,384.64L95.92,384.64Z" fill="#79cfc0"/>
<path d="M106.34,383.08L109.04,378.36L103.64,378.36Z" fill="#79cfc0"/>
<path d="M114.06,377.68L116.76,372.96L111.36,372.96Z" fill="#79cfc0"/>
<path d="M121.78,372.86L124.48,368.14L119.08,368.14Z" fill="#79cfc0"/>
<path d="M129.50,368.48L132.20,363.76L126.80,363.76Z" fill="#79cfc0"/>
<path d="M137.22,364.25L139.92,359.53L134.52,359.53Z" fill="#79cfc0"/>
<path d="M144.94,360.45L147.64,355.73L142.24,355.73Z" fill="#79cfc0"/>
<path d="M152.66,356.37L155.36,351.64L149.96,351.64Z" fill="#79cfc0"/>
<path d="M160.38,352.57L163.08,347.85L157.68,347.85Z" fill="#79cfc0"/>
<path d="M168.10,349.21L170.80,344.49L165.40,344.49Z" fill="#79cfc0"/>
<path d="M175.82,345.85L178.52,341.13L173.12,341.13Z" fill="#79cfc0"/>
<path d="M183.54,342.06L186.24,337.33L180.84,337.33Z" fill="#79cfc0"/>
<path d="M191.26,339.28L193.96,334.56L188.56,334.56Z" fill="#79cfc0"/>
<path d="M198.98,336.36L201.68,331.64L196.28,331.64Z" fill="#79cfc0"/>
<path d="M206.70,332.57L209.40,327.84L204.00,327.84Z" fill="#79cfc0"/>
<path d="M214.42,329.21L217.12,324.49L211.72,324.49Z" fill="#79cfc0"/>
<path d="M222.14,325.41L224.84,320.69L219.44,320.69Z" fill="#79cfc0"/>
<path d="M229.86,322.06L232.56,317.33L227.16,317.33Z" fill="#79cfc0"/>
<path d="M237.58,319.14L240.28,314.41L234.88,314.41Z" fill="#79cfc0"/>
<polyline points="52.30,423.60 60.02,418.93 67.74,411.63 75.46,403.31 83.18,395.42 90.90,389.58 98.62,382.72 106.34,375.42 114.06,368.12 121.78,363.74 129.50,359.36 137.22,354.98 144.94,351.48 152.66,348.26 160.38,344.32 168.10,341.99 175.82,338.63 183.54,336.00 191.26,334.39 198.98,332.06 206.70,329.58 214.42,326.95 222.14,325.49 229.86,323.15 237.58,320.96" fill="none" stroke="#6ea8d8" stroke-width="1.2" stroke-linejoin="round"/>
<path d="M52.30,421.50L53.98,423.60L52.30,425.70L50.62,423.60Z" fill="#6ea8d8"/>
<path d="M60.02,416.83L61.70,418.93L60.02,421.03L58.34,418.93Z" fill="#6ea8d8"/>
<path d="M67.74,409.53L69.42,411.63L67.74,413.73L66.06,411.63Z" fill="#6ea8d8"/>
<path d="M75.46,401.21L77.14,403.31L75.46,405.41L73.78,403.31Z" fill="#6ea8d8"/>
<path d="M83.18,393.32L84.86,395.42L83.18,397.52L81.50,395.42Z" fill="#6ea8d8"/>
<path d="M90.90,387.48L92.58,389.58L90.90,391.68L89.22,389.58Z" fill="#6ea8d8"/>
<path d="M98.62,380.62L100.30,382.72L98.62,384.82L96.94,382.72Z" fill="#6ea8d8"/>
<path d="M106.34,373.32L108.02,375.42L106.34,377.52L104.66,375.42Z" fill="#6ea8d8"/>
<path d="M114.06,366.02L115.74,368.12L114.06,370.22L112.38,368.12Z" fill="#6ea8d8"/>
<path d="M121.78,361.64L123.46,363.74L121.78,365.84L120.10,363.74Z" fill="#6ea8d8"/>
<path d="M129.50,357.26L131.18,359.36L129.50,361.46L127.82,359.36Z" fill="#6ea8d8"/>
<path d="M137.22,352.88L138.90,354.98L137.22,357.08L135.54,354.98Z" fill="#6ea8d8"/>
<path d="M144.94,349.38L146.62,351.48L144.94,353.58L143.26,351.48Z" fill="#6ea8d8"/>
<path d="M152.66,346.16L154.34,348.26L152.66,350.36L150.98,348.26Z" fill="#6ea8d8"/>
<path d="M160.38,342.22L162.06,344.32L160.38,346.42L158.70,344.32Z" fill="#6ea8d8"/>
<path d="M168.10,339.89L169.78,341.99L168.10,344.09L166.42,341.99Z" fill="#6ea8d8"/>
<path d="M175.82,336.53L177.50,338.63L175.82,340.73L174.14,338.63Z" fill="#6ea8d8"/>
<path d="M183.54,333.90L185.22,336.00L183.54,338.10L181.86,336.00Z" fill="#6ea8d8"/>
<path d="M191.26,332.29L192.94,334.39L191.26,336.49L189.58,334.39Z" fill="#6ea8d8"/>
<path d="M198.98,329.96L200.66,332.06L198.98,334.16L197.30,332.06Z" fill="#6ea8d8"/>
<path d="M206.70,327.48L208.38,329.58L206.70,331.68L205.02,329.58Z" fill="#6ea8d8"/>
<path d="M214.42,324.85L216.10,326.95L214.42,329.05L212.74,326.95Z" fill="#6ea8d8"/>
<path d="M222.14,323.39L223.82,325.49L222.14,327.59L220.46,325.49Z" fill="#6ea8d8"/>
<path d="M229.86,321.05L231.54,323.15L229.86,325.25L228.18,323.15Z" fill="#6ea8d8"/>
<path d="M237.58,318.86L239.26,320.96L237.58,323.06L235.90,320.96Z" fill="#6ea8d8"/>
<polyline points="52.30,423.60 60.02,421.12 67.74,416.74 75.46,408.71 83.18,399.36 90.90,389.87 98.62,381.55 106.34,373.81 114.06,367.24 121.78,360.38 129.50,354.98 137.22,350.31 144.94,345.34 152.66,340.96 160.38,336.73 168.10,333.66 175.82,330.31 183.54,326.80 191.26,323.30 198.98,320.96 206.70,317.31 214.42,314.25 222.14,310.30 229.86,307.24 237.58,303.15" fill="none" stroke="#ee6f5c" stroke-width="1.2" stroke-linejoin="round"/>
<path d="M52.30,421.19L54.40,423.60L52.30,426.02L50.20,423.60Z" fill="#ee6f5c"/>
<path d="M60.02,418.70L62.12,421.12L60.02,423.53L57.92,421.12Z" fill="#ee6f5c"/>
<path d="M67.74,414.32L69.84,416.74L67.74,419.15L65.64,416.74Z" fill="#ee6f5c"/>
<path d="M75.46,406.29L77.56,408.71L75.46,411.12L73.36,408.71Z" fill="#ee6f5c"/>
<path d="M83.18,396.95L85.28,399.36L83.18,401.78L81.08,399.36Z" fill="#ee6f5c"/>
<path d="M90.90,387.46L93.00,389.87L90.90,392.29L88.80,389.87Z" fill="#ee6f5c"/>
<path d="M98.62,379.14L100.72,381.55L98.62,383.97L96.52,381.55Z" fill="#ee6f5c"/>
<path d="M106.34,371.40L108.44,373.81L106.34,376.23L104.24,373.81Z" fill="#ee6f5c"/>
<path d="M114.06,364.83L116.16,367.24L114.06,369.66L111.96,367.24Z" fill="#ee6f5c"/>
<path d="M121.78,357.97L123.88,360.38L121.78,362.80L119.68,360.38Z" fill="#ee6f5c"/>
<path d="M129.50,352.56L131.60,354.98L129.50,357.40L127.40,354.98Z" fill="#ee6f5c"/>
<path d="M137.22,347.89L139.32,350.31L137.22,352.72L135.12,350.31Z" fill="#ee6f5c"/>
<path d="M144.94,342.93L147.04,345.34L144.94,347.76L142.84,345.34Z" fill="#ee6f5c"/>
<path d="M152.66,338.55L154.76,340.96L152.66,343.38L150.56,340.96Z" fill="#ee6f5c"/>
<path d="M160.38,334.31L162.48,336.73L160.38,339.15L158.28,336.73Z" fill="#ee6f5c"/>
<path d="M168.10,331.25L170.20,333.66L168.10,336.08L166.00,333.66Z" fill="#ee6f5c"/>
<path d="M175.82,327.89L177.92,330.31L175.82,332.72L173.72,330.31Z" fill="#ee6f5c"/>
<path d="M183.54,324.39L185.64,326.80L183.54,329.22L181.44,326.80Z" fill="#ee6f5c"/>
<path d="M191.26,320.88L193.36,323.30L191.26,325.71L189.16,323.30Z" fill="#ee6f5c"/>
<path d="M198.98,318.55L201.08,320.96L198.98,323.38L196.88,320.96Z" fill="#ee6f5c"/>
<path d="M206.70,314.90L208.80,317.31L206.70,319.73L204.60,317.31Z" fill="#ee6f5c"/>
<path d="M214.42,311.83L216.52,314.25L214.42,316.66L212.32,314.25Z" fill="#ee6f5c"/>
<path d="M222.14,307.89L224.24,310.30L222.14,312.72L220.04,310.30Z" fill="#ee6f5c"/>
<path d="M229.86,304.82L231.96,307.24L229.86,309.65L227.76,307.24Z" fill="#ee6f5c"/>
<path d="M237.58,300.74L239.68,303.15L237.58,305.57L235.48,303.15Z" fill="#ee6f5c"/>
<line x1="253.10" y1="289.40" x2="266.70" y2="289.40" stroke="#79cfc0" stroke-width="1.0"/>
<path d="M259.90,292.10L262.60,287.38L257.20,287.38Z" fill="#79cfc0"/>
<text x="270.60" y="293.40" font-size="10.0" text-anchor="start" fill="#231f20" stroke="#231f20">SK3-Fc</text>
<line x1="253.10" y1="305.20" x2="266.70" y2="305.20" stroke="#ee6f5c" stroke-width="1.0"/>
<path d="M259.90,302.78L262.00,305.20L259.90,307.62L257.80,305.20Z" fill="#ee6f5c"/>
<text x="270.60" y="309.20" font-size="10.0" text-anchor="start" fill="#231f20" stroke="#231f20">SK4-Fc</text>
<line x1="253.10" y1="321.10" x2="266.70" y2="321.10" stroke="#b8b2dd" stroke-width="1.0"/>
<rect x="257.50" y="318.70" width="4.80" height="4.80" fill="#b8b2dd"/>
<text x="270.60" y="325.10" font-size="10.0" text-anchor="start" fill="#231f20" stroke="#231f20">SK7-Fc</text>
<line x1="253.10" y1="336.50" x2="266.70" y2="336.50" stroke="#f5bcd8" stroke-width="1.0"/>
<path d="M259.90,333.80L262.60,338.52L257.20,338.52Z" fill="#f5bcd8"/>
<text x="270.60" y="340.50" font-size="10.0" text-anchor="start" fill="#231f20" stroke="#231f20">SK9-Fc</text>
<line x1="253.10" y1="351.90" x2="266.70" y2="351.90" stroke="#f7a456" stroke-width="1.0"/>
<circle cx="259.90" cy="351.90" r="2.10" fill="#f7a456"/>
<text x="270.60" y="355.90" font-size="10.0" text-anchor="start" fill="#231f20" stroke="#231f20">SK11-Fc</text>
<line x1="253.10" y1="368.00" x2="266.70" y2="368.00" stroke="#a6d166" stroke-width="1.0"/>
<circle cx="259.90" cy="368.00" r="2.10" fill="#a6d166"/>
<text x="270.60" y="372.00" font-size="10.0" text-anchor="start" fill="#231f20" stroke="#231f20">SK13-Fc</text>
<line x1="253.10" y1="383.70" x2="266.70" y2="383.70" stroke="#6ea8d8" stroke-width="1.0"/>
<path d="M259.90,381.60L261.58,383.70L259.90,385.80L258.22,383.70Z" fill="#6ea8d8"/>
<text x="270.60" y="387.70" font-size="10.0" text-anchor="start" fill="#231f20" stroke="#231f20">SK14-Fc</text>
<line x1="253.10" y1="399.10" x2="266.70" y2="399.10" stroke="#e56aa5" stroke-width="1.0"/>
<path d="M259.90,396.69L262.00,399.10L259.90,401.52L257.80,399.10Z" fill="#e56aa5"/>
<text x="270.60" y="403.10" font-size="10.0" text-anchor="start" fill="#231f20" stroke="#231f20">SK15-Fc</text>
<line x1="253.10" y1="412.50" x2="266.70" y2="412.50" stroke="#fbd88f" stroke-width="1.0"/>
<path d="M259.90,409.80L262.60,414.52L257.20,414.52Z" fill="#fbd88f"/>
<text x="270.60" y="416.50" font-size="10.0" text-anchor="start" fill="#231f20" stroke="#231f20">NK-2-12</text>
<line x1="397.80" y1="278.20" x2="397.80" y2="429.10" stroke="#231f20" stroke-width="1.1"/>
<line x1="397.30" y1="428.60" x2="626.80" y2="428.60" stroke="#231f20" stroke-width="1.1"/>
<line x1="391.60" y1="428.60" x2="397.80" y2="428.60" stroke="#231f20" stroke-width="1.1"/>
<text x="389.80" y="432.00" font-size="9.8" text-anchor="end" fill="#231f20" stroke="#231f20">0</text>
<line x1="391.60" y1="391.00" x2="397.80" y2="391.00" stroke="#231f20" stroke-width="1.1"/>
<text x="389.00" y="395.40" font-size="9.7" text-anchor="end" fill="#231f20" stroke="#231f20">2×10<tspan font-size="6.01" dy="-3.6">6</tspan></text>
<line x1="391.60" y1="353.40" x2="397.80" y2="353.40" stroke="#231f20" stroke-width="1.1"/>
<text x="389.00" y="357.80" font-size="9.7" text-anchor="end" fill="#231f20" stroke="#231f20">4×10<tspan font-size="6.01" dy="-3.6">6</tspan></text>
<line x1="391.60" y1="315.80" x2="397.80" y2="315.80" stroke="#231f20" stroke-width="1.1"/>
<text x="389.00" y="320.20" font-size="9.7" text-anchor="end" fill="#231f20" stroke="#231f20">6×10<tspan font-size="6.01" dy="-3.6">6</tspan></text>
<line x1="391.60" y1="278.20" x2="397.80" y2="278.20" stroke="#231f20" stroke-width="1.1"/>
<text x="389.00" y="282.60" font-size="9.7" text-anchor="end" fill="#231f20" stroke="#231f20">8×10<tspan font-size="6.01" dy="-3.6">6</tspan></text>
<line x1="397.80" y1="428.60" x2="397.80" y2="434.50" stroke="#231f20" stroke-width="1.1"/>
<text x="397.80" y="444.90" font-size="9.8" text-anchor="middle" fill="#231f20" stroke="#231f20">0</text>
<line x1="443.50" y1="428.60" x2="443.50" y2="434.50" stroke="#231f20" stroke-width="1.1"/>
<text x="443.50" y="444.90" font-size="9.8" text-anchor="middle" fill="#231f20" stroke="#231f20">5</text>
<line x1="489.20" y1="428.60" x2="489.20" y2="434.50" stroke="#231f20" stroke-width="1.1"/>
<text x="489.20" y="444.90" font-size="9.8" text-anchor="middle" fill="#231f20" stroke="#231f20">10</text>
<line x1="534.90" y1="428.60" x2="534.90" y2="434.50" stroke="#231f20" stroke-width="1.1"/>
<text x="534.90" y="444.90" font-size="9.8" text-anchor="middle" fill="#231f20" stroke="#231f20">15</text>
<line x1="580.60" y1="428.60" x2="580.60" y2="434.50" stroke="#231f20" stroke-width="1.1"/>
<text x="580.60" y="444.90" font-size="9.8" text-anchor="middle" fill="#231f20" stroke="#231f20">20</text>
<line x1="626.30" y1="428.60" x2="626.30" y2="434.50" stroke="#231f20" stroke-width="1.1"/>
<text x="626.30" y="444.90" font-size="9.8" text-anchor="middle" fill="#231f20" stroke="#231f20">25</text>
<text x="511.90" y="458.60" font-size="9.8" text-anchor="middle" fill="#231f20" stroke="#231f20">Time (h)</text>
<text x="0" y="0" font-size="9.65" text-anchor="middle" fill="#231f20" stroke="#231f20" transform="translate(359.8 352.5) rotate(-90)">Red object area (μm<tspan font-size="6" dy="-3.4">2</tspan><tspan dy="3.4">/well)</tspan></text>
<defs><clipPath id="eclip"><rect x="390" y="250" width="250" height="178.1"/></clipPath></defs>
<g clip-path="url(#eclip)">
<polyline points="397.80,427.10 406.94,427.10 416.08,427.10 425.22,427.10 434.36,427.10 443.50,427.10 452.64,427.10 461.78,427.10 470.92,427.10 480.06,427.10 489.20,427.10 498.34,427.10 507.48,427.10 516.62,427.10 525.76,427.10 534.90,427.10 544.04,427.10 553.18,427.10 562.32,427.10 571.46,427.10 580.60,427.10 589.74,427.10 598.88,427.10 608.02,427.10 617.16,427.10" fill="none" stroke="#7ccfbe" stroke-width="1.3" stroke-linejoin="round"/>
<circle cx="397.80" cy="427.10" r="2.5" fill="#7ccfbe"/>
<circle cx="406.94" cy="427.10" r="2.5" fill="#7ccfbe"/>
<circle cx="416.08" cy="427.10" r="2.5" fill="#7ccfbe"/>
<circle cx="425.22" cy="427.10" r="2.5" fill="#7ccfbe"/>
<circle cx="434.36" cy="427.10" r="2.5" fill="#7ccfbe"/>
<circle cx="443.50" cy="427.10" r="2.5" fill="#7ccfbe"/>
<circle cx="452.64" cy="427.10" r="2.5" fill="#7ccfbe"/>
<circle cx="461.78" cy="427.10" r="2.5" fill="#7ccfbe"/>
<circle cx="470.92" cy="427.10" r="2.5" fill="#7ccfbe"/>
<circle cx="480.06" cy="427.10" r="2.5" fill="#7ccfbe"/>
<circle cx="489.20" cy="427.10" r="2.5" fill="#7ccfbe"/>
<circle cx="498.34" cy="427.10" r="2.5" fill="#7ccfbe"/>
<circle cx="507.48" cy="427.10" r="2.5" fill="#7ccfbe"/>
<circle cx="516.62" cy="427.10" r="2.5" fill="#7ccfbe"/>
<circle cx="525.76" cy="427.10" r="2.5" fill="#7ccfbe"/>
<circle cx="534.90" cy="427.10" r="2.5" fill="#7ccfbe"/>
<circle cx="544.04" cy="427.10" r="2.5" fill="#7ccfbe"/>
<circle cx="553.18" cy="427.10" r="2.5" fill="#7ccfbe"/>
<circle cx="562.32" cy="427.10" r="2.5" fill="#7ccfbe"/>
<circle cx="571.46" cy="427.10" r="2.5" fill="#7ccfbe"/>
<circle cx="580.60" cy="427.10" r="2.5" fill="#7ccfbe"/>
<circle cx="589.74" cy="427.10" r="2.5" fill="#7ccfbe"/>
<circle cx="598.88" cy="427.10" r="2.5" fill="#7ccfbe"/>
<circle cx="608.02" cy="427.10" r="2.5" fill="#7ccfbe"/>
<circle cx="617.16" cy="427.10" r="2.5" fill="#7ccfbe"/>
</g>
<polyline points="397.80,425.40 406.94,415.44 416.08,410.93 425.22,408.67 434.36,407.36 443.50,406.42 452.64,406.23 461.78,406.98 470.92,403.60 480.06,401.34 489.20,400.40 498.34,398.71 507.48,397.96 516.62,396.83 525.76,396.83 534.90,395.70 544.04,395.14 553.18,394.01 562.32,397.96 571.46,394.01 580.60,393.63 589.74,392.69 598.88,392.88 608.02,392.69 617.16,392.13" fill="none" stroke="#b9b3dd" stroke-width="1.3" stroke-linejoin="round"/>
<rect x="395.20" y="422.80" width="5.20" height="5.20" fill="#b9b3dd"/>
<rect x="404.34" y="412.84" width="5.20" height="5.20" fill="#b9b3dd"/>
<rect x="413.48" y="408.33" width="5.20" height="5.20" fill="#b9b3dd"/>
<rect x="422.62" y="406.07" width="5.20" height="5.20" fill="#b9b3dd"/>
<rect x="431.76" y="404.76" width="5.20" height="5.20" fill="#b9b3dd"/>
<rect x="440.90" y="403.82" width="5.20" height="5.20" fill="#b9b3dd"/>
<rect x="450.04" y="403.63" width="5.20" height="5.20" fill="#b9b3dd"/>
<rect x="459.18" y="404.38" width="5.20" height="5.20" fill="#b9b3dd"/>
<rect x="468.32" y="401.00" width="5.20" height="5.20" fill="#b9b3dd"/>
<rect x="477.46" y="398.74" width="5.20" height="5.20" fill="#b9b3dd"/>
<rect x="486.60" y="397.80" width="5.20" height="5.20" fill="#b9b3dd"/>
<rect x="495.74" y="396.11" width="5.20" height="5.20" fill="#b9b3dd"/>
<rect x="504.88" y="395.36" width="5.20" height="5.20" fill="#b9b3dd"/>
<rect x="514.02" y="394.23" width="5.20" height="5.20" fill="#b9b3dd"/>
<rect x="523.16" y="394.23" width="5.20" height="5.20" fill="#b9b3dd"/>
<rect x="532.30" y="393.10" width="5.20" height="5.20" fill="#b9b3dd"/>
<rect x="541.44" y="392.54" width="5.20" height="5.20" fill="#b9b3dd"/>
<rect x="550.58" y="391.41" width="5.20" height="5.20" fill="#b9b3dd"/>
<rect x="559.72" y="395.36" width="5.20" height="5.20" fill="#b9b3dd"/>
<rect x="568.86" y="391.41" width="5.20" height="5.20" fill="#b9b3dd"/>
<rect x="578.00" y="391.03" width="5.20" height="5.20" fill="#b9b3dd"/>
<rect x="587.14" y="390.09" width="5.20" height="5.20" fill="#b9b3dd"/>
<rect x="596.28" y="390.28" width="5.20" height="5.20" fill="#b9b3dd"/>
<rect x="605.42" y="390.09" width="5.20" height="5.20" fill="#b9b3dd"/>
<rect x="614.56" y="389.53" width="5.20" height="5.20" fill="#b9b3dd"/>
<polyline points="397.80,425.40 406.94,420.14 416.08,413.00 425.22,403.03 434.36,392.32 443.50,382.73 452.64,374.64 461.78,367.50 470.92,360.36 480.06,355.09 489.20,349.26 498.34,344.56 507.48,340.24 516.62,337.23 525.76,333.66 534.90,330.84 544.04,329.15 553.18,326.70 562.32,325.01 571.46,323.88 580.60,322.57 589.74,320.69 598.88,320.31 608.02,319.00 617.16,316.74" fill="none" stroke="#f07a6a" stroke-width="1.3" stroke-linejoin="round"/>
<path d="M397.80,422.46L400.74,427.61L394.86,427.61Z" fill="#f07a6a"/>
<path d="M406.94,417.20L409.88,422.35L404.00,422.35Z" fill="#f07a6a"/>
<path d="M416.08,410.06L419.02,415.20L413.14,415.20Z" fill="#f07a6a"/>
<path d="M425.22,400.09L428.16,405.24L422.28,405.24Z" fill="#f07a6a"/>
<path d="M434.36,389.38L437.30,394.52L431.42,394.52Z" fill="#f07a6a"/>
<path d="M443.50,379.79L446.44,384.93L440.56,384.93Z" fill="#f07a6a"/>
<path d="M452.64,371.70L455.58,376.85L449.70,376.85Z" fill="#f07a6a"/>
<path d="M461.78,364.56L464.72,369.70L458.84,369.70Z" fill="#f07a6a"/>
<path d="M470.92,357.42L473.86,362.56L467.98,362.56Z" fill="#f07a6a"/>
<path d="M480.06,352.15L483.00,357.30L477.12,357.30Z" fill="#f07a6a"/>
<path d="M489.20,346.32L492.14,351.47L486.26,351.47Z" fill="#f07a6a"/>
<path d="M498.34,341.62L501.28,346.77L495.40,346.77Z" fill="#f07a6a"/>
<path d="M507.48,337.30L510.42,342.44L504.54,342.44Z" fill="#f07a6a"/>
<path d="M516.62,334.29L519.56,339.44L513.68,339.44Z" fill="#f07a6a"/>
<path d="M525.76,330.72L528.70,335.87L522.82,335.87Z" fill="#f07a6a"/>
<path d="M534.90,327.90L537.84,333.05L531.96,333.05Z" fill="#f07a6a"/>
<path d="M544.04,326.21L546.98,331.35L541.10,331.35Z" fill="#f07a6a"/>
<path d="M553.18,323.76L556.12,328.91L550.24,328.91Z" fill="#f07a6a"/>
<path d="M562.32,322.07L565.26,327.22L559.38,327.22Z" fill="#f07a6a"/>
<path d="M571.46,320.94L574.40,326.09L568.52,326.09Z" fill="#f07a6a"/>
<path d="M580.60,319.63L583.54,324.77L577.66,324.77Z" fill="#f07a6a"/>
<path d="M589.74,317.75L592.68,322.89L586.80,322.89Z" fill="#f07a6a"/>
<path d="M598.88,317.37L601.82,322.52L595.94,322.52Z" fill="#f07a6a"/>
<path d="M608.02,316.06L610.96,321.20L605.08,321.20Z" fill="#f07a6a"/>
<path d="M617.16,313.80L620.10,318.94L614.22,318.94Z" fill="#f07a6a"/>
<line x1="404.20" y1="266.00" x2="421.50" y2="266.00" stroke="#f07a6a" stroke-width="1.0"/>
<path d="M412.80,263.36L415.44,267.98L410.16,267.98Z" fill="#f07a6a"/>
<text x="429.00" y="269.60" font-size="9.95" text-anchor="start" fill="#231f20" stroke="#231f20">NK-2-12-SK4H (FcRTAC-1)</text>
<line x1="404.20" y1="284.60" x2="421.50" y2="284.60" stroke="#b9b3dd" stroke-width="1.0"/>
<rect x="410.60" y="282.40" width="4.40" height="4.40" fill="#b9b3dd"/>
<text x="429.00" y="288.20" font-size="9.95" text-anchor="start" fill="#231f20" stroke="#231f20">NK-2-12-SK4L (FcRTAC-2)</text>
<line x1="404.20" y1="301.60" x2="421.50" y2="301.60" stroke="#7ccfbe" stroke-width="1.0"/>
<circle cx="412.80" cy="301.60" r="2.20" fill="#7ccfbe"/>
<text x="429.00" y="305.20" font-size="9.95" text-anchor="start" fill="#231f20" stroke="#231f20">knob into hole scFv4 (FcRTAC-3)</text>
<path d="M626.04,293.93L629.10,298.56L632.52,296.31L629.46,291.67Z" fill="#f8e2a2"/>
<path d="M629.10,298.56L632.84,304.23L636.26,301.97L632.52,296.31Z" fill="#dedede"/>
<path d="M630.31,289.88L633.03,294.28L636.51,292.12L633.79,287.72Z" fill="#f2c744"/>
<path d="M633.03,294.28L637.11,300.88L640.59,298.72L636.51,292.12Z" fill="#8f8f8f"/>
<path d="M638.85,300.00Q641.05,302.90 640.95,305.70" fill="none" stroke="#222" stroke-width="0.6"/>
<path d="M657.24,291.67L654.18,296.31L657.60,298.56L660.66,293.93Z" fill="#f8e2a2"/>
<path d="M654.18,296.31L650.44,301.97L653.86,304.23L657.60,298.56Z" fill="#dedede"/>
<path d="M652.91,287.72L650.19,292.12L653.67,294.28L656.39,289.88Z" fill="#f2c744"/>
<path d="M650.19,292.12L646.11,298.72L649.59,300.88L653.67,294.28Z" fill="#8f8f8f"/>
<path d="M647.85,300.00Q645.65,302.90 645.75,305.70" fill="none" stroke="#222" stroke-width="0.6"/>
<rect x="641.35" y="303.50" width="4.00" height="1.30" fill="#c9c9c9"/>
<rect x="639.00" y="305.40" width="3.80" height="14.50" fill="#9d9d9d"/>
<rect x="643.90" y="305.40" width="3.80" height="14.50" fill="#9d9d9d"/>
<rect x="640.35" y="305.40" width="1.00" height="14.50" fill="#b5b5b5"/>
<rect x="645.25" y="305.40" width="1.00" height="14.50" fill="#b5b5b5"/>
<rect x="633.15" y="320.50" width="3.80" height="8.00" rx="1.71" fill="#f9d3d1" stroke="#a53533" stroke-width="0.7" transform="rotate(0 635.05 324.50)"/>
<rect x="638.85" y="320.50" width="3.80" height="8.00" rx="1.71" fill="#ec6f62" stroke="#a53533" stroke-width="0.7" transform="rotate(0 640.75 324.50)"/>
<rect x="644.10" y="320.50" width="3.80" height="8.00" rx="1.71" fill="#ec6f62" stroke="#a53533" stroke-width="0.7" transform="rotate(0 646.00 324.50)"/>
<rect x="649.70" y="320.50" width="3.80" height="8.00" rx="1.71" fill="#f9d3d1" stroke="#a53533" stroke-width="0.7" transform="rotate(0 651.60 324.50)"/>
<path d="M625.29,357.33L628.35,361.96L631.77,359.71L628.71,355.07Z" fill="#f8e2a2"/>
<path d="M628.35,361.96L632.09,367.63L635.51,365.37L631.77,359.71Z" fill="#dedede"/>
<path d="M629.56,353.28L632.28,357.68L635.76,355.52L633.04,351.12Z" fill="#f2c744"/>
<path d="M632.28,357.68L636.36,364.28L639.84,362.12L635.76,355.52Z" fill="#8f8f8f"/>
<path d="M638.10,363.40Q640.30,366.30 640.20,369.10" fill="none" stroke="#222" stroke-width="0.6"/>
<path d="M656.49,355.07L653.43,359.71L656.85,361.96L659.91,357.33Z" fill="#f8e2a2"/>
<path d="M653.43,359.71L649.69,365.37L653.11,367.63L656.85,361.96Z" fill="#dedede"/>
<path d="M652.16,351.12L649.44,355.52L652.92,357.68L655.64,353.28Z" fill="#f2c744"/>
<path d="M649.44,355.52L645.36,362.12L648.84,364.28L652.92,357.68Z" fill="#8f8f8f"/>
<path d="M647.10,363.40Q644.90,366.30 645.00,369.10" fill="none" stroke="#222" stroke-width="0.6"/>
<rect x="640.60" y="366.90" width="4.00" height="1.30" fill="#c9c9c9"/>
<rect x="638.25" y="366.20" width="3.80" height="14.40" fill="#9d9d9d"/>
<rect x="643.15" y="366.20" width="3.80" height="14.40" fill="#9d9d9d"/>
<rect x="639.60" y="366.20" width="1.00" height="14.40" fill="#b5b5b5"/>
<rect x="644.50" y="366.20" width="1.00" height="14.40" fill="#b5b5b5"/>
<rect x="626.30" y="363.90" width="3.60" height="7.60" rx="1.62" fill="#f9d3d1" stroke="#a53533" stroke-width="0.7" transform="rotate(40 628.10 367.70)"/>
<rect x="630.80" y="366.30" width="3.60" height="7.60" rx="1.62" fill="#ec6f62" stroke="#a53533" stroke-width="0.7" transform="rotate(40 632.60 370.10)"/>
<rect x="647.60" y="366.00" width="3.60" height="7.60" rx="1.62" fill="#ec6f62" stroke="#a53533" stroke-width="0.7" transform="rotate(-40 649.40 369.80)"/>
<rect x="652.90" y="363.90" width="3.60" height="7.60" rx="1.62" fill="#f9d3d1" stroke="#a53533" stroke-width="0.7" transform="rotate(-40 654.70 367.70)"/>
<path d="M625.09,409.33L628.15,413.96L631.57,411.71L628.51,407.07Z" fill="#f8e2a2"/>
<path d="M628.15,413.96L631.89,419.63L635.31,417.37L631.57,411.71Z" fill="#dedede"/>
<path d="M629.36,405.28L632.08,409.68L635.56,407.52L632.84,403.12Z" fill="#f2c744"/>
<path d="M632.08,409.68L636.16,416.28L639.64,414.12L635.56,407.52Z" fill="#8f8f8f"/>
<path d="M637.90,415.40Q640.10,418.30 640.00,421.10" fill="none" stroke="#222" stroke-width="0.6"/>
<path d="M656.29,407.07L653.23,411.71L656.65,413.96L659.71,409.33Z" fill="#f8e2a2"/>
<path d="M653.23,411.71L649.49,417.37L652.91,419.63L656.65,413.96Z" fill="#dedede"/>
<path d="M651.96,403.12L649.24,407.52L652.72,409.68L655.44,405.28Z" fill="#f2c744"/>
<path d="M649.24,407.52L645.16,414.12L648.64,416.28L652.72,409.68Z" fill="#8f8f8f"/>
<path d="M646.90,415.40Q644.70,418.30 644.80,421.10" fill="none" stroke="#222" stroke-width="0.6"/>
<rect x="640.40" y="418.90" width="4.00" height="1.30" fill="#c9c9c9"/>
<rect x="638.05" y="420.80" width="3.80" height="14.80" fill="#9d9d9d"/>
<rect x="642.95" y="420.80" width="3.80" height="14.80" fill="#9d9d9d"/>
<rect x="639.40" y="420.80" width="1.00" height="14.80" fill="#b5b5b5"/>
<rect x="644.30" y="420.80" width="1.00" height="14.80" fill="#b5b5b5"/>
<rect x="643.30" y="437.10" width="3.60" height="7.80" rx="1.62" fill="#ec6f62" stroke="#a53533" stroke-width="0.7" transform="rotate(0 645.10 441.00)"/>
<rect x="649.10" y="437.10" width="3.60" height="7.80" rx="1.62" fill="#f9d3d1" stroke="#a53533" stroke-width="0.7" transform="rotate(0 650.90 441.00)"/>
<text x="644.10" y="339.80" font-size="9.7" text-anchor="middle" fill="#231f20" stroke="#231f20">FcRTAC-1</text>
<text x="643.20" y="391.20" font-size="9.7" text-anchor="middle" fill="#231f20" stroke="#231f20">FcRTAC-2</text>
<text x="644.00" y="456.20" font-size="9.7" text-anchor="middle" fill="#231f20" stroke="#231f20">FcRTAC-3</text>
<line x1="38.20" y1="504.10" x2="38.20" y2="593.70" stroke="#231f20" stroke-width="1.1"/>
<line x1="37.70" y1="593.20" x2="170.80" y2="593.20" stroke="#231f20" stroke-width="1.1"/>
<line x1="34.00" y1="593.20" x2="38.20" y2="593.20" stroke="#231f20" stroke-width="1.1"/>
<text x="32.90" y="595.70" font-size="10.0" text-anchor="end" fill="#231f20" stroke="#231f20">0</text>
<line x1="34.00" y1="571.00" x2="38.20" y2="571.00" stroke="#231f20" stroke-width="1.1"/>
<text x="32.90" y="573.50" font-size="10.0" text-anchor="end" fill="#231f20" stroke="#231f20">50</text>
<line x1="34.00" y1="548.80" x2="38.20" y2="548.80" stroke="#231f20" stroke-width="1.1"/>
<text x="32.90" y="551.30" font-size="10.0" text-anchor="end" fill="#231f20" stroke="#231f20">100</text>
<line x1="34.00" y1="526.60" x2="38.20" y2="526.60" stroke="#231f20" stroke-width="1.1"/>
<text x="32.90" y="529.10" font-size="10.0" text-anchor="end" fill="#231f20" stroke="#231f20">150</text>
<line x1="34.00" y1="504.40" x2="38.20" y2="504.40" stroke="#231f20" stroke-width="1.1"/>
<text x="32.90" y="506.90" font-size="10.0" text-anchor="end" fill="#231f20" stroke="#231f20">200</text>
<line x1="37.90" y1="593.20" x2="37.90" y2="597.70" stroke="#231f20" stroke-width="1.1"/>
<text x="37.70" y="607.40" font-size="10.0" text-anchor="middle" fill="#231f20" stroke="#231f20">0</text>
<line x1="71.60" y1="593.20" x2="71.60" y2="597.70" stroke="#231f20" stroke-width="1.1"/>
<text x="69.40" y="607.40" font-size="10.0" text-anchor="middle" fill="#231f20" stroke="#231f20">100</text>
<line x1="105.30" y1="593.20" x2="105.30" y2="597.70" stroke="#231f20" stroke-width="1.1"/>
<text x="103.60" y="607.40" font-size="10.0" text-anchor="middle" fill="#231f20" stroke="#231f20">200</text>
<line x1="139.50" y1="593.20" x2="139.50" y2="597.70" stroke="#231f20" stroke-width="1.1"/>
<text x="137.30" y="607.40" font-size="10.0" text-anchor="middle" fill="#231f20" stroke="#231f20">300</text>
<line x1="170.30" y1="593.20" x2="170.30" y2="597.70" stroke="#231f20" stroke-width="1.1"/>
<text x="171.70" y="607.40" font-size="10.0" text-anchor="middle" fill="#231f20" stroke="#231f20">400</text>
<text x="106.90" y="619.00" font-size="9.8" text-anchor="middle" fill="#231f20" stroke="#231f20">Time (s)</text>
<text x="14.40" y="545.10" font-size="9.8" text-anchor="middle" fill="#231f20" stroke="#231f20" transform="rotate(-90 14.4 545.1)">Response (RU)</text>
<text x="95.00" y="486.20" font-size="9.8" text-anchor="middle" fill="#231f20" stroke="#231f20">SK3-Fc pH 7.4</text>
<text x="94.60" y="501.40" font-size="9.8" text-anchor="middle" fill="#231f20" stroke="#231f20">K<tspan font-size="5.4" dy="3.0">D</tspan><tspan dy="-3.0">=</tspan>3.77×10<tspan font-size="5.6" dy="-3.6">-9</tspan><tspan dy="3.6"> M</tspan></text>
<polyline points="38.20,593.20 38.53,592.62 38.86,592.05 39.19,591.48 39.52,590.92 39.85,590.35 40.18,589.80 40.51,589.24 40.84,588.69 41.17,588.14 41.51,587.59 41.84,587.05 42.17,586.51 42.50,585.98 42.83,585.45 43.16,584.92 43.49,584.39 43.82,583.87 44.15,583.35 44.48,582.84 44.81,582.33 45.14,581.82 45.47,581.31 45.80,580.81 46.13,580.31 46.46,579.81 46.79,579.32 47.12,578.83 47.45,578.34 47.78,577.86 48.12,577.37 48.45,576.90 48.78,576.42 49.11,575.95 49.44,575.48 49.77,575.01 50.10,574.55 50.43,574.09 50.76,573.63 51.09,573.17 51.42,572.72 51.75,572.27 52.08,571.82 52.41,571.38 52.74,570.94 53.07,570.50 53.40,570.06 53.73,569.63 54.06,569.20 54.39,568.77 54.73,568.35 55.06,567.92 55.39,567.50 55.72,567.09 56.05,566.67 56.38,566.26 56.71,565.85 57.04,565.44 57.37,565.04 57.70,564.64 58.03,564.24 58.36,563.84 58.69,563.44 59.02,563.05 59.35,562.66 59.68,562.27 60.01,561.89 60.34,561.51 60.67,561.13 61.00,560.75 61.34,560.37 61.67,560.00 62.00,559.63 62.33,559.26 62.66,558.89 62.99,558.53 63.32,558.17 63.65,557.81 63.98,557.45 64.31,557.09 64.64,556.74 64.97,556.39 65.30,556.04 65.63,555.69 65.96,555.35 66.29,555.01 66.62,554.67 66.95,554.33 67.28,553.99 67.61,553.66 67.95,553.33 68.28,553.00 68.61,552.67 68.94,552.82 69.27,552.98 69.60,553.13 69.93,553.28 70.26,553.44 70.59,553.59 70.92,553.74 71.25,553.89 71.58,554.04 71.91,554.19 72.24,554.34 72.57,554.49 72.90,554.64 73.23,554.78 73.56,554.93 73.89,555.08 74.22,555.22 74.56,555.37 74.89,555.51 75.22,555.66 75.55,555.80 75.88,555.94 76.21,556.09 76.54,556.23 76.87,556.37 77.20,556.51 77.53,556.65 77.86,556.79 78.19,556.93 78.52,557.07 78.85,557.21 79.18,557.34 79.51,557.48 79.84,557.62 80.17,557.75 80.50,557.89 80.83,558.02 81.17,558.16 81.50,558.29 81.83,558.43 82.16,558.56 82.49,558.69 82.82,558.82 83.15,558.95 83.48,559.09 83.81,559.22 84.14,559.35 84.47,559.48 84.80,559.60 85.13,559.73 85.46,559.86 85.79,559.99 86.12,560.11 86.45,560.24 86.78,560.37 87.11,560.49 87.44,560.62 87.78,560.74 88.11,560.87 88.44,560.99 88.77,561.11 89.10,561.24 89.43,561.36 89.76,561.48 90.09,561.60 90.42,561.72 90.75,561.84 91.08,561.96 91.41,562.08 91.74,562.20 92.07,562.32 92.40,562.44 92.73,562.55 93.06,562.67 93.39,562.79 93.72,562.90 94.05,563.02 94.39,563.14 94.72,563.25 95.05,563.37 95.38,563.48 95.71,563.59 96.04,563.71 96.37,563.82 96.70,563.93 97.03,564.04 97.36,564.15 97.69,564.27 98.02,564.38 98.35,564.49 98.68,564.60 99.01,564.71 99.34,564.81 99.67,564.92 100.00,565.03 100.33,565.14 100.66,565.25 101.00,565.35 101.33,565.46 101.66,565.57 101.99,565.67 102.32,565.78 102.65,565.88 102.98,565.99 103.31,566.09 103.64,566.19 103.97,566.30 104.30,566.40 104.63,566.50 104.96,566.60 105.29,566.71 105.62,566.81 105.95,566.91 106.28,567.01 106.61,567.11 106.94,567.21 107.27,567.31 107.61,567.41 107.94,567.50 108.27,567.60 108.60,567.70 108.93,567.80 109.26,567.90 109.59,567.99 109.92,568.09 110.25,568.18 110.58,568.28 110.91,568.38 111.24,568.47 111.57,568.56 111.90,568.66 112.23,568.75 112.56,568.85 112.89,568.94 113.22,569.03 113.55,569.12 113.88,569.22 114.22,569.31 114.55,569.40 114.88,569.49 115.21,569.58 115.54,569.67 115.87,569.76 116.20,569.85 116.53,569.94 116.86,570.03 117.19,570.12 117.52,570.21 117.85,570.29 118.18,570.38 118.51,570.47 118.84,570.56 119.17,570.64 119.50,570.73 119.83,570.81 120.16,570.90 120.49,570.98 120.83,571.07 121.16,571.15 121.49,571.24 121.82,571.32 122.15,571.41 122.48,571.49 122.81,571.57 123.14,571.66 123.47,571.74 123.80,571.82 124.13,571.90 124.46,571.98 124.79,572.06 125.12,572.14 125.45,572.23 125.78,572.31 126.11,572.39 126.44,572.46 126.77,572.54 127.10,572.62 127.44,572.70 127.77,572.78 128.10,572.86 128.43,572.94 128.76,573.01 129.09,573.09 129.42,573.17 129.75,573.24 130.08,573.32 130.41,573.40 130.74,573.47 131.07,573.55 131.40,573.62 131.73,573.70 132.06,573.77 132.39,573.85 132.72,573.92 133.05,573.99 133.38,574.07 133.71,574.14 134.05,574.21 134.38,574.29 134.71,574.36 135.04,574.43 135.37,574.50 135.70,574.57 136.03,574.64" fill="none" stroke="#b674c4" stroke-width="1.25" stroke-linejoin="round" stroke-linecap="round"/>
<polyline points="38.20,593.20 38.53,591.09 38.86,589.06 39.19,587.09 39.52,585.20 39.85,583.36 40.18,581.59 40.51,579.89 40.84,578.24 41.17,576.64 41.51,575.11 41.84,573.62 42.17,572.19 42.50,570.80 42.83,569.46 43.16,568.17 43.49,566.93 43.82,565.72 44.15,564.56 44.48,563.44 44.81,562.35 45.14,561.31 45.47,560.30 45.80,559.32 46.13,558.38 46.46,557.47 46.79,556.59 47.12,555.74 47.45,554.92 47.78,554.13 48.12,553.37 48.45,552.63 48.78,551.92 49.11,551.23 49.44,550.57 49.77,549.93 50.10,549.31 50.43,548.71 50.76,548.13 51.09,547.58 51.42,547.04 51.75,546.52 52.08,546.02 52.41,545.53 52.74,545.06 53.07,544.61 53.40,544.18 53.73,543.75 54.06,543.35 54.39,542.95 54.73,542.58 55.06,542.21 55.39,541.86 55.72,541.51 56.05,541.18 56.38,540.87 56.71,540.56 57.04,540.26 57.37,539.98 57.70,539.70 58.03,539.43 58.36,539.17 58.69,538.92 59.02,538.68 59.35,538.45 59.68,538.23 60.01,538.01 60.34,537.80 60.67,537.60 61.00,537.40 61.34,537.22 61.67,537.03 62.00,536.86 62.33,536.69 62.66,536.52 62.99,536.37 63.32,536.21 63.65,536.07 63.98,535.92 64.31,535.79 64.64,535.65 64.97,535.53 65.30,535.40 65.63,535.28 65.96,535.17 66.29,535.06 66.62,534.95 66.95,534.84 67.28,534.74 67.61,534.65 67.95,534.55 68.28,534.46 68.61,534.38 68.94,534.62 69.27,534.87 69.60,535.11 69.93,535.35 70.26,535.60 70.59,535.84 70.92,536.08 71.25,536.32 71.58,536.55 71.91,536.79 72.24,537.03 72.57,537.26 72.90,537.49 73.23,537.73 73.56,537.96 73.89,538.19 74.22,538.42 74.56,538.65 74.89,538.88 75.22,539.10 75.55,539.33 75.88,539.56 76.21,539.78 76.54,540.00 76.87,540.23 77.20,540.45 77.53,540.67 77.86,540.89 78.19,541.11 78.52,541.32 78.85,541.54 79.18,541.76 79.51,541.97 79.84,542.19 80.17,542.40 80.50,542.61 80.83,542.82 81.17,543.03 81.50,543.24 81.83,543.45 82.16,543.66 82.49,543.87 82.82,544.07 83.15,544.28 83.48,544.48 83.81,544.69 84.14,544.89 84.47,545.09 84.80,545.29 85.13,545.49 85.46,545.69 85.79,545.89 86.12,546.09 86.45,546.29 86.78,546.48 87.11,546.68 87.44,546.87 87.78,547.07 88.11,547.26 88.44,547.45 88.77,547.64 89.10,547.83 89.43,548.02 89.76,548.21 90.09,548.40 90.42,548.59 90.75,548.77 91.08,548.96 91.41,549.15 91.74,549.33 92.07,549.51 92.40,549.70 92.73,549.88 93.06,550.06 93.39,550.24 93.72,550.42 94.05,550.60 94.39,550.78 94.72,550.95 95.05,551.13 95.38,551.31 95.71,551.48 96.04,551.65 96.37,551.83 96.70,552.00 97.03,552.17 97.36,552.35 97.69,552.52 98.02,552.69 98.35,552.86 98.68,553.02 99.01,553.19 99.34,553.36 99.67,553.53 100.00,553.69 100.33,553.86 100.66,554.02 101.00,554.19 101.33,554.35 101.66,554.51 101.99,554.67 102.32,554.83 102.65,554.99 102.98,555.15 103.31,555.31 103.64,555.47 103.97,555.63 104.30,555.79 104.63,555.94 104.96,556.10 105.29,556.25 105.62,556.41 105.95,556.56 106.28,556.72 106.61,556.87 106.94,557.02 107.27,557.17 107.61,557.32 107.94,557.47 108.27,557.62 108.60,557.77 108.93,557.92 109.26,558.07 109.59,558.21 109.92,558.36 110.25,558.50 110.58,558.65 110.91,558.79 111.24,558.94 111.57,559.08 111.90,559.22 112.23,559.37 112.56,559.51 112.89,559.65 113.22,559.79 113.55,559.93 113.88,560.07 114.22,560.21 114.55,560.34 114.88,560.48 115.21,560.62 115.54,560.75 115.87,560.89 116.20,561.03 116.53,561.16 116.86,561.29 117.19,561.43 117.52,561.56 117.85,561.69 118.18,561.82 118.51,561.96 118.84,562.09 119.17,562.22 119.50,562.35 119.83,562.47 120.16,562.60 120.49,562.73 120.83,562.86 121.16,562.99 121.49,563.11 121.82,563.24 122.15,563.36 122.48,563.49 122.81,563.61 123.14,563.74 123.47,563.86 123.80,563.98 124.13,564.10 124.46,564.22 124.79,564.35 125.12,564.47 125.45,564.59 125.78,564.71 126.11,564.83 126.44,564.94 126.77,565.06 127.10,565.18 127.44,565.30 127.77,565.41 128.10,565.53 128.43,565.65 128.76,565.76 129.09,565.88 129.42,565.99 129.75,566.10 130.08,566.22 130.41,566.33 130.74,566.44 131.07,566.55 131.40,566.67 131.73,566.78 132.06,566.89 132.39,567.00 132.72,567.11 133.05,567.22 133.38,567.32 133.71,567.43 134.05,567.54 134.38,567.65 134.71,567.75 135.04,567.86 135.37,567.97 135.70,568.07 136.03,568.18" fill="none" stroke="#66a6dc" stroke-width="1.25" stroke-linejoin="round" stroke-linecap="round"/>
<polyline points="38.20,593.20 38.53,589.04 38.86,585.12 39.19,581.42 39.52,577.95 39.85,574.67 40.18,571.59 40.51,568.68 40.84,565.95 41.17,563.37 41.51,560.95 41.84,558.66 42.17,556.51 42.50,554.48 42.83,552.58 43.16,550.78 43.49,549.09 43.82,547.49 44.15,545.99 44.48,544.58 44.81,543.25 45.14,541.99 45.47,540.81 45.80,539.70 46.13,538.65 46.46,537.67 46.79,536.74 47.12,535.86 47.45,535.04 47.78,534.26 48.12,533.53 48.45,532.84 48.78,532.20 49.11,531.59 49.44,531.01 49.77,530.47 50.10,529.96 50.43,529.48 50.76,529.03 51.09,528.60 51.42,528.20 51.75,527.82 52.08,527.47 52.41,527.13 52.74,526.82 53.07,526.52 53.40,526.24 53.73,525.98 54.06,525.73 54.39,525.50 54.73,525.27 55.06,525.07 55.39,524.87 55.72,524.69 56.05,524.52 56.38,524.35 56.71,524.20 57.04,524.05 57.37,523.92 57.70,523.79 58.03,523.67 58.36,523.56 58.69,523.45 59.02,523.35 59.35,523.25 59.68,523.16 60.01,523.08 60.34,523.00 60.67,522.92 61.00,522.85 61.34,522.79 61.67,522.73 62.00,522.67 62.33,522.61 62.66,522.56 62.99,522.51 63.32,522.46 63.65,522.42 63.98,522.38 64.31,522.34 64.64,522.30 64.97,522.27 65.30,522.24 65.63,522.21 65.96,522.18 66.29,522.15 66.62,522.13 66.95,522.10 67.28,522.08 67.61,522.06 67.95,522.04 68.28,522.02 68.61,522.00 68.94,522.31 69.27,522.62 69.60,522.93 69.93,523.24 70.26,523.54 70.59,523.85 70.92,524.15 71.25,524.45 71.58,524.75 71.91,525.05 72.24,525.35 72.57,525.65 72.90,525.94 73.23,526.24 73.56,526.53 73.89,526.82 74.22,527.11 74.56,527.40 74.89,527.69 75.22,527.97 75.55,528.26 75.88,528.54 76.21,528.83 76.54,529.11 76.87,529.39 77.20,529.67 77.53,529.94 77.86,530.22 78.19,530.50 78.52,530.77 78.85,531.04 79.18,531.31 79.51,531.58 79.84,531.85 80.17,532.12 80.50,532.39 80.83,532.65 81.17,532.92 81.50,533.18 81.83,533.44 82.16,533.71 82.49,533.97 82.82,534.22 83.15,534.48 83.48,534.74 83.81,534.99 84.14,535.25 84.47,535.50 84.80,535.75 85.13,536.01 85.46,536.26 85.79,536.50 86.12,536.75 86.45,537.00 86.78,537.24 87.11,537.49 87.44,537.73 87.78,537.97 88.11,538.22 88.44,538.46 88.77,538.70 89.10,538.93 89.43,539.17 89.76,539.41 90.09,539.64 90.42,539.88 90.75,540.11 91.08,540.34 91.41,540.57 91.74,540.80 92.07,541.03 92.40,541.26 92.73,541.49 93.06,541.71 93.39,541.94 93.72,542.16 94.05,542.38 94.39,542.61 94.72,542.83 95.05,543.05 95.38,543.27 95.71,543.49 96.04,543.70 96.37,543.92 96.70,544.13 97.03,544.35 97.36,544.56 97.69,544.77 98.02,544.99 98.35,545.20 98.68,545.41 99.01,545.62 99.34,545.82 99.67,546.03 100.00,546.24 100.33,546.44 100.66,546.65 101.00,546.85 101.33,547.05 101.66,547.25 101.99,547.46 102.32,547.66 102.65,547.85 102.98,548.05 103.31,548.25 103.64,548.45 103.97,548.64 104.30,548.84 104.63,549.03 104.96,549.22 105.29,549.42 105.62,549.61 105.95,549.80 106.28,549.99 106.61,550.18 106.94,550.36 107.27,550.55 107.61,550.74 107.94,550.92 108.27,551.11 108.60,551.29 108.93,551.48 109.26,551.66 109.59,551.84 109.92,552.02 110.25,552.20 110.58,552.38 110.91,552.56 111.24,552.73 111.57,552.91 111.90,553.09 112.23,553.26 112.56,553.44 112.89,553.61 113.22,553.78 113.55,553.96 113.88,554.13 114.22,554.30 114.55,554.47 114.88,554.64 115.21,554.81 115.54,554.97 115.87,555.14 116.20,555.31 116.53,555.47 116.86,555.64 117.19,555.80 117.52,555.97 117.85,556.13 118.18,556.29 118.51,556.45 118.84,556.61 119.17,556.77 119.50,556.93 119.83,557.09 120.16,557.25 120.49,557.41 120.83,557.56 121.16,557.72 121.49,557.87 121.82,558.03 122.15,558.18 122.48,558.33 122.81,558.49 123.14,558.64 123.47,558.79 123.80,558.94 124.13,559.09 124.46,559.24 124.79,559.39 125.12,559.53 125.45,559.68 125.78,559.83 126.11,559.97 126.44,560.12 126.77,560.26 127.10,560.41 127.44,560.55 127.77,560.69 128.10,560.84 128.43,560.98 128.76,561.12 129.09,561.26 129.42,561.40 129.75,561.54 130.08,561.68 130.41,561.81 130.74,561.95 131.07,562.09 131.40,562.22 131.73,562.36 132.06,562.49 132.39,562.63 132.72,562.76 133.05,562.89 133.38,563.03 133.71,563.16 134.05,563.29 134.38,563.42 134.71,563.55 135.04,563.68 135.37,563.81 135.70,563.94 136.03,564.07" fill="none" stroke="#7ccfbe" stroke-width="1.25" stroke-linejoin="round" stroke-linecap="round"/>
<polyline points="38.20,593.20 38.53,585.97 38.86,579.44 39.19,573.52 39.52,568.17 39.85,563.33 40.18,558.94 40.51,554.98 40.84,551.39 41.17,548.14 41.51,545.21 41.84,542.55 42.17,540.14 42.50,537.97 42.83,536.00 43.16,534.22 43.49,532.60 43.82,531.15 44.15,529.83 44.48,528.63 44.81,527.55 45.14,526.57 45.47,525.69 45.80,524.89 46.13,524.16 46.46,523.51 46.79,522.92 47.12,522.38 47.45,521.89 47.78,521.45 48.12,521.06 48.45,520.70 48.78,520.37 49.11,520.08 49.44,519.81 49.77,519.57 50.10,519.35 50.43,519.15 50.76,518.97 51.09,518.81 51.42,518.67 51.75,518.53 52.08,518.41 52.41,518.31 52.74,518.21 53.07,518.12 53.40,518.04 53.73,517.97 54.06,517.90 54.39,517.84 54.73,517.79 55.06,517.74 55.39,517.69 55.72,517.65 56.05,517.62 56.38,517.59 56.71,517.56 57.04,517.53 57.37,517.51 57.70,517.48 58.03,517.46 58.36,517.45 58.69,517.43 59.02,517.42 59.35,517.40 59.68,517.39 60.01,517.38 60.34,517.37 60.67,517.36 61.00,517.35 61.34,517.35 61.67,517.34 62.00,517.33 62.33,517.33 62.66,517.32 62.99,517.32 63.32,517.31 63.65,517.31 63.98,517.31 64.31,517.30 64.64,517.30 64.97,517.30 65.30,517.30 65.63,517.29 65.96,517.29 66.29,517.29 66.62,517.29 66.95,517.29 67.28,517.29 67.61,517.29 67.95,517.29 68.28,517.28 68.61,517.28 68.94,517.62 69.27,517.96 69.60,518.30 69.93,518.63 70.26,518.97 70.59,519.30 70.92,519.63 71.25,519.96 71.58,520.29 71.91,520.62 72.24,520.94 72.57,521.27 72.90,521.59 73.23,521.91 73.56,522.23 73.89,522.55 74.22,522.86 74.56,523.18 74.89,523.49 75.22,523.80 75.55,524.11 75.88,524.42 76.21,524.73 76.54,525.04 76.87,525.34 77.20,525.65 77.53,525.95 77.86,526.25 78.19,526.55 78.52,526.85 78.85,527.15 79.18,527.44 79.51,527.74 79.84,528.03 80.17,528.32 80.50,528.61 80.83,528.90 81.17,529.19 81.50,529.48 81.83,529.76 82.16,530.05 82.49,530.33 82.82,530.61 83.15,530.89 83.48,531.17 83.81,531.45 84.14,531.73 84.47,532.00 84.80,532.28 85.13,532.55 85.46,532.82 85.79,533.09 86.12,533.36 86.45,533.63 86.78,533.90 87.11,534.16 87.44,534.43 87.78,534.69 88.11,534.95 88.44,535.21 88.77,535.47 89.10,535.73 89.43,535.99 89.76,536.24 90.09,536.50 90.42,536.75 90.75,537.01 91.08,537.26 91.41,537.51 91.74,537.76 92.07,538.01 92.40,538.25 92.73,538.50 93.06,538.75 93.39,538.99 93.72,539.23 94.05,539.47 94.39,539.71 94.72,539.95 95.05,540.19 95.38,540.43 95.71,540.67 96.04,540.90 96.37,541.14 96.70,541.37 97.03,541.60 97.36,541.83 97.69,542.06 98.02,542.29 98.35,542.52 98.68,542.75 99.01,542.97 99.34,543.20 99.67,543.42 100.00,543.65 100.33,543.87 100.66,544.09 101.00,544.31 101.33,544.53 101.66,544.75 101.99,544.96 102.32,545.18 102.65,545.39 102.98,545.61 103.31,545.82 103.64,546.03 103.97,546.24 104.30,546.45 104.63,546.66 104.96,546.87 105.29,547.08 105.62,547.29 105.95,547.49 106.28,547.70 106.61,547.90 106.94,548.10 107.27,548.31 107.61,548.51 107.94,548.71 108.27,548.91 108.60,549.11 108.93,549.30 109.26,549.50 109.59,549.70 109.92,549.89 110.25,550.08 110.58,550.28 110.91,550.47 111.24,550.66 111.57,550.85 111.90,551.04 112.23,551.23 112.56,551.42 112.89,551.61 113.22,551.79 113.55,551.98 113.88,552.16 114.22,552.35 114.55,552.53 114.88,552.71 115.21,552.89 115.54,553.07 115.87,553.25 116.20,553.43 116.53,553.61 116.86,553.79 117.19,553.96 117.52,554.14 117.85,554.31 118.18,554.49 118.51,554.66 118.84,554.83 119.17,555.01 119.50,555.18 119.83,555.35 120.16,555.52 120.49,555.69 120.83,555.85 121.16,556.02 121.49,556.19 121.82,556.35 122.15,556.52 122.48,556.68 122.81,556.85 123.14,557.01 123.47,557.17 123.80,557.33 124.13,557.49 124.46,557.65 124.79,557.81 125.12,557.97 125.45,558.13 125.78,558.29 126.11,558.44 126.44,558.60 126.77,558.75 127.10,558.91 127.44,559.06 127.77,559.21 128.10,559.37 128.43,559.52 128.76,559.67 129.09,559.82 129.42,559.97 129.75,560.12 130.08,560.27 130.41,560.41 130.74,560.56 131.07,560.71 131.40,560.85 131.73,561.00 132.06,561.14 132.39,561.29 132.72,561.43 133.05,561.57 133.38,561.71 133.71,561.85 134.05,561.99 134.38,562.13 134.71,562.27 135.04,562.41 135.37,562.55 135.70,562.69 136.03,562.82" fill="none" stroke="#f7aa5e" stroke-width="1.25" stroke-linejoin="round" stroke-linecap="round"/>
<polyline points="38.20,593.20 38.53,578.95 38.86,567.29 39.19,557.74 39.52,549.92 39.85,543.52 40.18,538.28 40.51,533.99 40.84,530.48 41.17,527.60 41.51,525.25 41.84,523.32 42.17,521.74 42.50,520.45 42.83,519.39 43.16,518.52 43.49,517.82 43.82,517.23 44.15,516.76 44.48,516.37 44.81,516.05 45.14,515.79 45.47,515.58 45.80,515.40 46.13,515.26 46.46,515.14 46.79,515.05 47.12,514.97 47.45,514.90 47.78,514.85 48.12,514.81 48.45,514.77 48.78,514.74 49.11,514.72 49.44,514.70 49.77,514.68 50.10,514.67 50.43,514.66 50.76,514.65 51.09,514.64 51.42,514.64 51.75,514.63 52.08,514.63 52.41,514.63 52.74,514.62 53.07,514.62 53.40,514.62 53.73,514.62 54.06,514.62 54.39,514.62 54.73,514.62 55.06,514.61 55.39,514.61 55.72,514.61 56.05,514.61 56.38,514.61 56.71,514.61 57.04,514.61 57.37,514.61 57.70,514.61 58.03,514.61 58.36,514.61 58.69,514.61 59.02,514.61 59.35,514.61 59.68,514.61 60.01,514.61 60.34,514.61 60.67,514.61 61.00,514.61 61.34,514.61 61.67,514.61 62.00,514.61 62.33,514.61 62.66,514.61 62.99,514.61 63.32,514.61 63.65,514.61 63.98,514.61 64.31,514.61 64.64,514.61 64.97,514.61 65.30,514.61 65.63,514.61 65.96,514.61 66.29,514.61 66.62,514.61 66.95,514.61 67.28,514.61 67.61,514.61 67.95,514.61 68.28,514.61 68.61,514.61 68.94,514.96 69.27,515.31 69.60,515.66 69.93,516.01 70.26,516.35 70.59,516.70 70.92,517.04 71.25,517.38 71.58,517.72 71.91,518.06 72.24,518.39 72.57,518.73 72.90,519.06 73.23,519.39 73.56,519.72 73.89,520.05 74.22,520.38 74.56,520.70 74.89,521.02 75.22,521.35 75.55,521.67 75.88,521.99 76.21,522.31 76.54,522.62 76.87,522.94 77.20,523.25 77.53,523.57 77.86,523.88 78.19,524.19 78.52,524.50 78.85,524.80 79.18,525.11 79.51,525.41 79.84,525.72 80.17,526.02 80.50,526.32 80.83,526.62 81.17,526.91 81.50,527.21 81.83,527.51 82.16,527.80 82.49,528.09 82.82,528.38 83.15,528.67 83.48,528.96 83.81,529.25 84.14,529.53 84.47,529.82 84.80,530.10 85.13,530.38 85.46,530.66 85.79,530.94 86.12,531.22 86.45,531.50 86.78,531.77 87.11,532.05 87.44,532.32 87.78,532.59 88.11,532.87 88.44,533.14 88.77,533.40 89.10,533.67 89.43,533.94 89.76,534.20 90.09,534.47 90.42,534.73 90.75,534.99 91.08,535.25 91.41,535.51 91.74,535.77 92.07,536.02 92.40,536.28 92.73,536.53 93.06,536.79 93.39,537.04 93.72,537.29 94.05,537.54 94.39,537.79 94.72,538.04 95.05,538.28 95.38,538.53 95.71,538.77 96.04,539.02 96.37,539.26 96.70,539.50 97.03,539.74 97.36,539.98 97.69,540.22 98.02,540.45 98.35,540.69 98.68,540.92 99.01,541.16 99.34,541.39 99.67,541.62 100.00,541.85 100.33,542.08 100.66,542.31 101.00,542.54 101.33,542.76 101.66,542.99 101.99,543.21 102.32,543.44 102.65,543.66 102.98,543.88 103.31,544.10 103.64,544.32 103.97,544.54 104.30,544.76 104.63,544.97 104.96,545.19 105.29,545.40 105.62,545.62 105.95,545.83 106.28,546.04 106.61,546.25 106.94,546.46 107.27,546.67 107.61,546.88 107.94,547.09 108.27,547.29 108.60,547.50 108.93,547.70 109.26,547.91 109.59,548.11 109.92,548.31 110.25,548.51 110.58,548.71 110.91,548.91 111.24,549.11 111.57,549.30 111.90,549.50 112.23,549.70 112.56,549.89 112.89,550.08 113.22,550.28 113.55,550.47 113.88,550.66 114.22,550.85 114.55,551.04 114.88,551.23 115.21,551.41 115.54,551.60 115.87,551.79 116.20,551.97 116.53,552.16 116.86,552.34 117.19,552.52 117.52,552.70 117.85,552.89 118.18,553.07 118.51,553.25 118.84,553.42 119.17,553.60 119.50,553.78 119.83,553.96 120.16,554.13 120.49,554.31 120.83,554.48 121.16,554.65 121.49,554.82 121.82,555.00 122.15,555.17 122.48,555.34 122.81,555.51 123.14,555.67 123.47,555.84 123.80,556.01 124.13,556.18 124.46,556.34 124.79,556.51 125.12,556.67 125.45,556.83 125.78,557.00 126.11,557.16 126.44,557.32 126.77,557.48 127.10,557.64 127.44,557.80 127.77,557.96 128.10,558.11 128.43,558.27 128.76,558.43 129.09,558.58 129.42,558.74 129.75,558.89 130.08,559.04 130.41,559.20 130.74,559.35 131.07,559.50 131.40,559.65 131.73,559.80 132.06,559.95 132.39,560.10 132.72,560.25 133.05,560.39 133.38,560.54 133.71,560.69 134.05,560.83 134.38,560.98 134.71,561.12 135.04,561.26 135.37,561.41 135.70,561.55 136.03,561.69" fill="none" stroke="#ef766b" stroke-width="1.25" stroke-linejoin="round" stroke-linecap="round"/>
<line x1="200.40" y1="506.00" x2="200.40" y2="595.30" stroke="#231f20" stroke-width="1.1"/>
<line x1="199.90" y1="594.80" x2="335.60" y2="594.80" stroke="#231f20" stroke-width="1.1"/>
<line x1="196.20" y1="594.80" x2="200.40" y2="594.80" stroke="#231f20" stroke-width="1.1"/>
<text x="195.10" y="597.30" font-size="10.0" text-anchor="end" fill="#231f20" stroke="#231f20">0</text>
<line x1="196.20" y1="565.30" x2="200.40" y2="565.30" stroke="#231f20" stroke-width="1.1"/>
<text x="195.10" y="567.80" font-size="10.0" text-anchor="end" fill="#231f20" stroke="#231f20">50</text>
<line x1="196.20" y1="535.80" x2="200.40" y2="535.80" stroke="#231f20" stroke-width="1.1"/>
<text x="195.10" y="538.30" font-size="10.0" text-anchor="end" fill="#231f20" stroke="#231f20">100</text>
<line x1="196.20" y1="506.30" x2="200.40" y2="506.30" stroke="#231f20" stroke-width="1.1"/>
<text x="195.10" y="508.80" font-size="10.0" text-anchor="end" fill="#231f20" stroke="#231f20">150</text>
<line x1="200.30" y1="594.80" x2="200.30" y2="599.30" stroke="#231f20" stroke-width="1.1"/>
<text x="200.00" y="609.40" font-size="10.0" text-anchor="middle" fill="#231f20" stroke="#231f20">0</text>
<line x1="234.00" y1="594.80" x2="234.00" y2="599.30" stroke="#231f20" stroke-width="1.1"/>
<text x="231.20" y="609.40" font-size="10.0" text-anchor="middle" fill="#231f20" stroke="#231f20">100</text>
<line x1="267.90" y1="594.80" x2="267.90" y2="599.30" stroke="#231f20" stroke-width="1.1"/>
<text x="265.00" y="609.40" font-size="10.0" text-anchor="middle" fill="#231f20" stroke="#231f20">200</text>
<line x1="301.60" y1="594.80" x2="301.60" y2="599.30" stroke="#231f20" stroke-width="1.1"/>
<text x="299.20" y="609.40" font-size="10.0" text-anchor="middle" fill="#231f20" stroke="#231f20">300</text>
<line x1="335.10" y1="594.80" x2="335.10" y2="599.30" stroke="#231f20" stroke-width="1.1"/>
<text x="333.60" y="609.40" font-size="10.0" text-anchor="middle" fill="#231f20" stroke="#231f20">400</text>
<text x="269.20" y="621.00" font-size="9.8" text-anchor="middle" fill="#231f20" stroke="#231f20">Time (s)</text>
<text x="176.80" y="549.00" font-size="9.8" text-anchor="middle" fill="#231f20" stroke="#231f20" transform="rotate(-90 176.8 549.0)">Response (RU)</text>
<text x="257.00" y="486.20" font-size="9.8" text-anchor="middle" fill="#231f20" stroke="#231f20">SK3-Fc pH 6.0</text>
<text x="257.00" y="501.40" font-size="9.8" text-anchor="middle" fill="#231f20" stroke="#231f20">K<tspan font-size="5.4" dy="3.0">D</tspan><tspan dy="-3.0">=</tspan>1.72×10<tspan font-size="5.6" dy="-3.6">-9</tspan><tspan dy="3.6"> M</tspan></text>
<polyline points="200.40,594.80 200.74,593.08 201.07,591.42 201.41,589.81 201.75,588.25 202.09,586.74 202.42,585.28 202.76,583.86 203.10,582.49 203.43,581.17 203.77,579.89 204.11,578.64 204.44,577.44 204.78,576.28 205.12,575.15 205.46,574.06 205.79,573.01 206.13,571.98 206.47,570.99 206.80,570.04 207.14,569.11 207.48,568.21 207.81,567.34 208.15,566.50 208.49,565.69 208.83,564.90 209.16,564.14 209.50,563.40 209.84,562.69 210.17,561.99 210.51,561.32 210.85,560.68 211.18,560.05 211.52,559.44 211.86,558.85 212.19,558.28 212.53,557.73 212.87,557.20 213.21,556.68 213.54,556.18 213.88,555.70 214.22,555.23 214.55,554.78 214.89,554.34 215.23,553.91 215.56,553.50 215.90,553.10 216.24,552.72 216.58,552.35 216.91,551.98 217.25,551.63 217.59,551.30 217.92,550.97 218.26,550.65 218.60,550.34 218.94,550.05 219.27,549.76 219.61,549.48 219.95,549.21 220.28,548.95 220.62,548.70 220.96,548.45 221.29,548.22 221.63,547.99 221.97,547.77 222.31,547.55 222.64,547.34 222.98,547.14 223.32,546.95 223.65,546.76 223.99,546.58 224.33,546.40 224.66,546.23 225.00,546.06 225.34,545.90 225.68,545.75 226.01,545.60 226.35,545.45 226.69,545.31 227.02,545.18 227.36,545.04 227.70,544.92 228.03,544.79 228.37,544.67 228.71,544.56 229.05,544.44 229.38,544.34 229.72,544.23 230.06,544.13 230.39,544.03 230.73,543.94 231.07,543.84 231.40,544.08 231.74,544.31 232.08,544.54 232.42,544.77 232.75,545.00 233.09,545.23 233.43,545.45 233.76,545.68 234.10,545.91 234.44,546.13 234.77,546.35 235.11,546.57 235.45,546.79 235.79,547.01 236.12,547.23 236.46,547.45 236.80,547.67 237.13,547.88 237.47,548.10 237.81,548.31 238.14,548.53 238.48,548.74 238.82,548.95 239.16,549.16 239.49,549.37 239.83,549.58 240.17,549.78 240.50,549.99 240.84,550.19 241.18,550.40 241.51,550.60 241.85,550.80 242.19,551.01 242.53,551.21 242.86,551.41 243.20,551.60 243.54,551.80 243.87,552.00 244.21,552.20 244.55,552.39 244.88,552.58 245.22,552.78 245.56,552.97 245.90,553.16 246.23,553.35 246.57,553.54 246.91,553.73 247.24,553.92 247.58,554.11 247.92,554.29 248.25,554.48 248.59,554.66 248.93,554.85 249.27,555.03 249.60,555.21 249.94,555.39 250.28,555.57 250.61,555.75 250.95,555.93 251.29,556.11 251.62,556.29 251.96,556.46 252.30,556.64 252.64,556.81 252.97,556.99 253.31,557.16 253.65,557.33 253.98,557.51 254.32,557.68 254.66,557.85 254.99,558.02 255.33,558.18 255.67,558.35 256.00,558.52 256.34,558.68 256.68,558.85 257.02,559.01 257.35,559.18 257.69,559.34 258.03,559.50 258.36,559.67 258.70,559.83 259.04,559.99 259.38,560.15 259.71,560.30 260.05,560.46 260.39,560.62 260.72,560.78 261.06,560.93 261.40,561.09 261.73,561.24 262.07,561.40 262.41,561.55 262.75,561.70 263.08,561.85 263.42,562.00 263.76,562.15 264.09,562.30 264.43,562.45 264.77,562.60 265.10,562.75 265.44,562.89 265.78,563.04 266.12,563.19 266.45,563.33 266.79,563.47 267.13,563.62 267.46,563.76 267.80,563.90 268.14,564.04 268.47,564.19 268.81,564.33 269.15,564.46 269.49,564.60 269.82,564.74 270.16,564.88 270.50,565.02 270.83,565.15 271.17,565.29 271.51,565.42 271.84,565.56 272.18,565.69 272.52,565.83 272.86,565.96 273.19,566.09 273.53,566.22 273.87,566.35 274.20,566.48 274.54,566.61 274.88,566.74 275.21,566.87 275.55,567.00 275.89,567.13 276.23,567.25 276.56,567.38 276.90,567.50 277.24,567.63 277.57,567.75 277.91,567.88 278.25,568.00 278.58,568.12 278.92,568.25 279.26,568.37 279.60,568.49 279.93,568.61 280.27,568.73 280.61,568.85 280.94,568.97 281.28,569.09 281.62,569.20 281.95,569.32 282.29,569.44 282.63,569.55 282.97,569.67 283.30,569.78 283.64,569.90 283.98,570.01 284.31,570.13 284.65,570.24 284.99,570.35 285.32,570.46 285.66,570.57 286.00,570.69 286.34,570.80 286.67,570.91 287.01,571.02 287.35,571.12 287.68,571.23 288.02,571.34 288.36,571.45 288.69,571.56 289.03,571.66 289.37,571.77 289.71,571.87 290.04,571.98 290.38,572.08 290.72,572.19 291.05,572.29 291.39,572.39 291.73,572.50 292.06,572.60 292.40,572.70 292.74,572.80 293.08,572.90 293.41,573.00 293.75,573.10 294.09,573.20 294.42,573.30 294.76,573.40 295.10,573.50 295.43,573.59 295.77,573.69 296.11,573.79 296.44,573.88 296.78,573.98 297.12,574.08 297.46,574.17 297.79,574.26 298.13,574.36 298.47,574.45" fill="none" stroke="#b674c4" stroke-width="1.25" stroke-linejoin="round" stroke-linecap="round"/>
<polyline points="200.40,594.80 200.74,591.33 201.07,588.07 201.41,585.01 201.75,582.14 202.09,579.45 202.42,576.93 202.76,574.56 203.10,572.34 203.43,570.26 203.77,568.30 204.11,566.47 204.44,564.75 204.78,563.14 205.12,561.63 205.46,560.21 205.79,558.88 206.13,557.63 206.47,556.46 206.80,555.36 207.14,554.33 207.48,553.37 207.81,552.46 208.15,551.61 208.49,550.81 208.83,550.07 209.16,549.36 209.50,548.71 209.84,548.09 210.17,547.51 210.51,546.97 210.85,546.46 211.18,545.98 211.52,545.53 211.86,545.11 212.19,544.72 212.53,544.35 212.87,544.00 213.21,543.67 213.54,543.37 213.88,543.08 214.22,542.81 214.55,542.56 214.89,542.33 215.23,542.10 215.56,541.90 215.90,541.70 216.24,541.52 216.58,541.35 216.91,541.19 217.25,541.03 217.59,540.89 217.92,540.76 218.26,540.64 218.60,540.52 218.94,540.41 219.27,540.31 219.61,540.21 219.95,540.12 220.28,540.03 220.62,539.95 220.96,539.88 221.29,539.81 221.63,539.74 221.97,539.68 222.31,539.62 222.64,539.57 222.98,539.52 223.32,539.47 223.65,539.43 223.99,539.39 224.33,539.35 224.66,539.31 225.00,539.27 225.34,539.24 225.68,539.21 226.01,539.18 226.35,539.16 226.69,539.13 227.02,539.11 227.36,539.08 227.70,539.06 228.03,539.04 228.37,539.03 228.71,539.01 229.05,538.99 229.38,538.98 229.72,538.96 230.06,538.95 230.39,538.94 230.73,538.93 231.07,538.92 231.40,539.18 231.74,539.45 232.08,539.71 232.42,539.98 232.75,540.24 233.09,540.50 233.43,540.76 233.76,541.02 234.10,541.28 234.44,541.53 234.77,541.79 235.11,542.04 235.45,542.30 235.79,542.55 236.12,542.80 236.46,543.05 236.80,543.29 237.13,543.54 237.47,543.79 237.81,544.03 238.14,544.27 238.48,544.52 238.82,544.76 239.16,545.00 239.49,545.24 239.83,545.47 240.17,545.71 240.50,545.94 240.84,546.18 241.18,546.41 241.51,546.64 241.85,546.87 242.19,547.10 242.53,547.33 242.86,547.56 243.20,547.78 243.54,548.01 243.87,548.23 244.21,548.46 244.55,548.68 244.88,548.90 245.22,549.12 245.56,549.34 245.90,549.56 246.23,549.77 246.57,549.99 246.91,550.20 247.24,550.42 247.58,550.63 247.92,550.84 248.25,551.05 248.59,551.26 248.93,551.47 249.27,551.68 249.60,551.88 249.94,552.09 250.28,552.29 250.61,552.50 250.95,552.70 251.29,552.90 251.62,553.10 251.96,553.30 252.30,553.50 252.64,553.70 252.97,553.89 253.31,554.09 253.65,554.28 253.98,554.48 254.32,554.67 254.66,554.86 254.99,555.06 255.33,555.25 255.67,555.43 256.00,555.62 256.34,555.81 256.68,556.00 257.02,556.18 257.35,556.37 257.69,556.55 258.03,556.74 258.36,556.92 258.70,557.10 259.04,557.28 259.38,557.46 259.71,557.64 260.05,557.82 260.39,557.99 260.72,558.17 261.06,558.34 261.40,558.52 261.73,558.69 262.07,558.87 262.41,559.04 262.75,559.21 263.08,559.38 263.42,559.55 263.76,559.72 264.09,559.89 264.43,560.05 264.77,560.22 265.10,560.39 265.44,560.55 265.78,560.71 266.12,560.88 266.45,561.04 266.79,561.20 267.13,561.36 267.46,561.52 267.80,561.68 268.14,561.84 268.47,562.00 268.81,562.16 269.15,562.31 269.49,562.47 269.82,562.62 270.16,562.78 270.50,562.93 270.83,563.08 271.17,563.23 271.51,563.39 271.84,563.54 272.18,563.69 272.52,563.83 272.86,563.98 273.19,564.13 273.53,564.28 273.87,564.42 274.20,564.57 274.54,564.71 274.88,564.86 275.21,565.00 275.55,565.14 275.89,565.29 276.23,565.43 276.56,565.57 276.90,565.71 277.24,565.85 277.57,565.99 277.91,566.12 278.25,566.26 278.58,566.40 278.92,566.53 279.26,566.67 279.60,566.80 279.93,566.94 280.27,567.07 280.61,567.20 280.94,567.34 281.28,567.47 281.62,567.60 281.95,567.73 282.29,567.86 282.63,567.99 282.97,568.12 283.30,568.24 283.64,568.37 283.98,568.50 284.31,568.62 284.65,568.75 284.99,568.87 285.32,569.00 285.66,569.12 286.00,569.24 286.34,569.37 286.67,569.49 287.01,569.61 287.35,569.73 287.68,569.85 288.02,569.97 288.36,570.09 288.69,570.21 289.03,570.32 289.37,570.44 289.71,570.56 290.04,570.67 290.38,570.79 290.72,570.90 291.05,571.02 291.39,571.13 291.73,571.25 292.06,571.36 292.40,571.47 292.74,571.58 293.08,571.69 293.41,571.80 293.75,571.91 294.09,572.02 294.42,572.13 294.76,572.24 295.10,572.35 295.43,572.46 295.77,572.56 296.11,572.67 296.44,572.78 296.78,572.88 297.12,572.99 297.46,573.09 297.79,573.20 298.13,573.30 298.47,573.40" fill="none" stroke="#66a6dc" stroke-width="1.25" stroke-linejoin="round" stroke-linecap="round"/>
<polyline points="200.40,594.80 200.74,590.17 201.07,585.90 201.41,581.96 201.75,578.32 202.09,574.96 202.42,571.86 202.76,569.00 203.10,566.35 203.43,563.91 203.77,561.66 204.11,559.58 204.44,557.66 204.78,555.89 205.12,554.26 205.46,552.75 205.79,551.35 206.13,550.07 206.47,548.88 206.80,547.78 207.14,546.77 207.48,545.84 207.81,544.97 208.15,544.18 208.49,543.44 208.83,542.76 209.16,542.14 209.50,541.56 209.84,541.03 210.17,540.53 210.51,540.08 210.85,539.66 211.18,539.27 211.52,538.91 211.86,538.58 212.19,538.28 212.53,538.00 212.87,537.74 213.21,537.50 213.54,537.28 213.88,537.07 214.22,536.88 214.55,536.71 214.89,536.55 215.23,536.40 215.56,536.26 215.90,536.14 216.24,536.02 216.58,535.91 216.91,535.81 217.25,535.72 217.59,535.64 217.92,535.56 218.26,535.49 218.60,535.42 218.94,535.36 219.27,535.30 219.61,535.25 219.95,535.20 220.28,535.16 220.62,535.12 220.96,535.08 221.29,535.04 221.63,535.01 221.97,534.98 222.31,534.95 222.64,534.93 222.98,534.90 223.32,534.88 223.65,534.86 223.99,534.84 224.33,534.83 224.66,534.81 225.00,534.80 225.34,534.78 225.68,534.77 226.01,534.76 226.35,534.75 226.69,534.74 227.02,534.73 227.36,534.72 227.70,534.71 228.03,534.71 228.37,534.70 228.71,534.69 229.05,534.69 229.38,534.68 229.72,534.68 230.06,534.67 230.39,534.67 230.73,534.66 231.07,534.66 231.40,534.96 231.74,535.25 232.08,535.55 232.42,535.84 232.75,536.13 233.09,536.42 233.43,536.71 233.76,536.99 234.10,537.28 234.44,537.56 234.77,537.84 235.11,538.12 235.45,538.40 235.79,538.68 236.12,538.96 236.46,539.23 236.80,539.51 237.13,539.78 237.47,540.05 237.81,540.32 238.14,540.59 238.48,540.85 238.82,541.12 239.16,541.39 239.49,541.65 239.83,541.91 240.17,542.17 240.50,542.43 240.84,542.69 241.18,542.95 241.51,543.20 241.85,543.45 242.19,543.71 242.53,543.96 242.86,544.21 243.20,544.46 243.54,544.71 243.87,544.95 244.21,545.20 244.55,545.44 244.88,545.69 245.22,545.93 245.56,546.17 245.90,546.41 246.23,546.65 246.57,546.89 246.91,547.12 247.24,547.36 247.58,547.59 247.92,547.82 248.25,548.05 248.59,548.29 248.93,548.51 249.27,548.74 249.60,548.97 249.94,549.20 250.28,549.42 250.61,549.64 250.95,549.87 251.29,550.09 251.62,550.31 251.96,550.53 252.30,550.75 252.64,550.96 252.97,551.18 253.31,551.39 253.65,551.61 253.98,551.82 254.32,552.03 254.66,552.24 254.99,552.45 255.33,552.66 255.67,552.87 256.00,553.08 256.34,553.28 256.68,553.49 257.02,553.69 257.35,553.89 257.69,554.09 258.03,554.29 258.36,554.49 258.70,554.69 259.04,554.89 259.38,555.09 259.71,555.28 260.05,555.48 260.39,555.67 260.72,555.86 261.06,556.06 261.40,556.25 261.73,556.44 262.07,556.63 262.41,556.81 262.75,557.00 263.08,557.19 263.42,557.37 263.76,557.56 264.09,557.74 264.43,557.92 264.77,558.10 265.10,558.29 265.44,558.47 265.78,558.64 266.12,558.82 266.45,559.00 266.79,559.18 267.13,559.35 267.46,559.53 267.80,559.70 268.14,559.87 268.47,560.05 268.81,560.22 269.15,560.39 269.49,560.56 269.82,560.73 270.16,560.89 270.50,561.06 270.83,561.23 271.17,561.39 271.51,561.56 271.84,561.72 272.18,561.88 272.52,562.05 272.86,562.21 273.19,562.37 273.53,562.53 273.87,562.69 274.20,562.84 274.54,563.00 274.88,563.16 275.21,563.32 275.55,563.47 275.89,563.62 276.23,563.78 276.56,563.93 276.90,564.08 277.24,564.23 277.57,564.39 277.91,564.54 278.25,564.68 278.58,564.83 278.92,564.98 279.26,565.13 279.60,565.27 279.93,565.42 280.27,565.56 280.61,565.71 280.94,565.85 281.28,565.99 281.62,566.14 281.95,566.28 282.29,566.42 282.63,566.56 282.97,566.70 283.30,566.84 283.64,566.97 283.98,567.11 284.31,567.25 284.65,567.38 284.99,567.52 285.32,567.65 285.66,567.79 286.00,567.92 286.34,568.05 286.67,568.18 287.01,568.31 287.35,568.44 287.68,568.57 288.02,568.70 288.36,568.83 288.69,568.96 289.03,569.09 289.37,569.21 289.71,569.34 290.04,569.47 290.38,569.59 290.72,569.71 291.05,569.84 291.39,569.96 291.73,570.08 292.06,570.21 292.40,570.33 292.74,570.45 293.08,570.57 293.41,570.69 293.75,570.81 294.09,570.92 294.42,571.04 294.76,571.16 295.10,571.28 295.43,571.39 295.77,571.51 296.11,571.62 296.44,571.74 296.78,571.85 297.12,571.96 297.46,572.07 297.79,572.19 298.13,572.30 298.47,572.41" fill="none" stroke="#7ccfbe" stroke-width="1.25" stroke-linejoin="round" stroke-linecap="round"/>
<polyline points="200.40,594.80 200.74,586.25 201.07,578.90 201.41,572.56 201.75,567.12 202.09,562.42 202.42,558.39 202.76,554.91 203.10,551.92 203.43,549.35 203.77,547.13 204.11,545.22 204.44,543.58 204.78,542.17 205.12,540.95 205.46,539.91 205.79,539.01 206.13,538.23 206.47,537.56 206.80,536.99 207.14,536.49 207.48,536.07 207.81,535.70 208.15,535.39 208.49,535.12 208.83,534.88 209.16,534.68 209.50,534.51 209.84,534.36 210.17,534.23 210.51,534.12 210.85,534.03 211.18,533.94 211.52,533.87 211.86,533.81 212.19,533.76 212.53,533.72 212.87,533.68 213.21,533.65 213.54,533.62 213.88,533.59 214.22,533.57 214.55,533.55 214.89,533.54 215.23,533.52 215.56,533.51 215.90,533.50 216.24,533.49 216.58,533.49 216.91,533.48 217.25,533.47 217.59,533.47 217.92,533.47 218.26,533.46 218.60,533.46 218.94,533.46 219.27,533.45 219.61,533.45 219.95,533.45 220.28,533.45 220.62,533.45 220.96,533.45 221.29,533.45 221.63,533.44 221.97,533.44 222.31,533.44 222.64,533.44 222.98,533.44 223.32,533.44 223.65,533.44 223.99,533.44 224.33,533.44 224.66,533.44 225.00,533.44 225.34,533.44 225.68,533.44 226.01,533.44 226.35,533.44 226.69,533.44 227.02,533.44 227.36,533.44 227.70,533.44 228.03,533.44 228.37,533.44 228.71,533.44 229.05,533.44 229.38,533.44 229.72,533.44 230.06,533.44 230.39,533.44 230.73,533.44 231.07,533.44 231.40,533.73 231.74,534.02 232.08,534.31 232.42,534.60 232.75,534.89 233.09,535.17 233.43,535.46 233.76,535.74 234.10,536.02 234.44,536.30 234.77,536.58 235.11,536.86 235.45,537.14 235.79,537.41 236.12,537.69 236.46,537.96 236.80,538.23 237.13,538.50 237.47,538.77 237.81,539.03 238.14,539.30 238.48,539.56 238.82,539.83 239.16,540.09 239.49,540.35 239.83,540.61 240.17,540.87 240.50,541.13 240.84,541.38 241.18,541.64 241.51,541.89 241.85,542.14 242.19,542.39 242.53,542.64 242.86,542.89 243.20,543.14 243.54,543.39 243.87,543.63 244.21,543.88 244.55,544.12 244.88,544.36 245.22,544.60 245.56,544.84 245.90,545.08 246.23,545.32 246.57,545.55 246.91,545.79 247.24,546.02 247.58,546.25 247.92,546.48 248.25,546.71 248.59,546.94 248.93,547.17 249.27,547.40 249.60,547.63 249.94,547.85 250.28,548.07 250.61,548.30 250.95,548.52 251.29,548.74 251.62,548.96 251.96,549.18 252.30,549.40 252.64,549.61 252.97,549.83 253.31,550.04 253.65,550.26 253.98,550.47 254.32,550.68 254.66,550.89 254.99,551.10 255.33,551.31 255.67,551.51 256.00,551.72 256.34,551.93 256.68,552.13 257.02,552.33 257.35,552.54 257.69,552.74 258.03,552.94 258.36,553.14 258.70,553.34 259.04,553.53 259.38,553.73 259.71,553.93 260.05,554.12 260.39,554.32 260.72,554.51 261.06,554.70 261.40,554.89 261.73,555.08 262.07,555.27 262.41,555.46 262.75,555.65 263.08,555.84 263.42,556.02 263.76,556.21 264.09,556.39 264.43,556.57 264.77,556.76 265.10,556.94 265.44,557.12 265.78,557.30 266.12,557.48 266.45,557.65 266.79,557.83 267.13,558.01 267.46,558.18 267.80,558.36 268.14,558.53 268.47,558.70 268.81,558.88 269.15,559.05 269.49,559.22 269.82,559.39 270.16,559.56 270.50,559.72 270.83,559.89 271.17,560.06 271.51,560.22 271.84,560.39 272.18,560.55 272.52,560.72 272.86,560.88 273.19,561.04 273.53,561.20 273.87,561.36 274.20,561.52 274.54,561.68 274.88,561.84 275.21,562.00 275.55,562.15 275.89,562.31 276.23,562.46 276.56,562.62 276.90,562.77 277.24,562.92 277.57,563.07 277.91,563.23 278.25,563.38 278.58,563.53 278.92,563.68 279.26,563.82 279.60,563.97 279.93,564.12 280.27,564.26 280.61,564.41 280.94,564.56 281.28,564.70 281.62,564.84 281.95,564.99 282.29,565.13 282.63,565.27 282.97,565.41 283.30,565.55 283.64,565.69 283.98,565.83 284.31,565.97 284.65,566.10 284.99,566.24 285.32,566.38 285.66,566.51 286.00,566.65 286.34,566.78 286.67,566.92 287.01,567.05 287.35,567.18 287.68,567.31 288.02,567.44 288.36,567.57 288.69,567.70 289.03,567.83 289.37,567.96 289.71,568.09 290.04,568.22 290.38,568.34 290.72,568.47 291.05,568.60 291.39,568.72 291.73,568.85 292.06,568.97 292.40,569.09 292.74,569.21 293.08,569.34 293.41,569.46 293.75,569.58 294.09,569.70 294.42,569.82 294.76,569.94 295.10,570.06 295.43,570.17 295.77,570.29 296.11,570.41 296.44,570.53 296.78,570.64 297.12,570.76 297.46,570.87 297.79,570.98 298.13,571.10 298.47,571.21" fill="none" stroke="#f7aa5e" stroke-width="1.25" stroke-linejoin="round" stroke-linecap="round"/>
<polyline points="200.40,594.80 200.74,577.72 201.07,565.07 201.41,555.69 201.75,548.75 202.09,543.60 202.42,539.79 202.76,536.97 203.10,534.88 203.43,533.33 203.77,532.18 204.11,531.33 204.44,530.70 204.78,530.23 205.12,529.89 205.46,529.63 205.79,529.44 206.13,529.30 206.47,529.19 206.80,529.12 207.14,529.06 207.48,529.02 207.81,528.99 208.15,528.96 208.49,528.95 208.83,528.93 209.16,528.92 209.50,528.92 209.84,528.91 210.17,528.91 210.51,528.91 210.85,528.90 211.18,528.90 211.52,528.90 211.86,528.90 212.19,528.90 212.53,528.90 212.87,528.90 213.21,528.90 213.54,528.90 213.88,528.90 214.22,528.90 214.55,528.90 214.89,528.90 215.23,528.90 215.56,528.90 215.90,528.90 216.24,528.90 216.58,528.90 216.91,528.90 217.25,528.90 217.59,528.90 217.92,528.90 218.26,528.90 218.60,528.90 218.94,528.90 219.27,528.90 219.61,528.90 219.95,528.90 220.28,528.90 220.62,528.90 220.96,528.90 221.29,528.90 221.63,528.90 221.97,528.90 222.31,528.90 222.64,528.90 222.98,528.90 223.32,528.90 223.65,528.90 223.99,528.90 224.33,528.90 224.66,528.90 225.00,528.90 225.34,528.90 225.68,528.90 226.01,528.90 226.35,528.90 226.69,528.90 227.02,528.90 227.36,528.90 227.70,528.90 228.03,528.90 228.37,528.90 228.71,528.90 229.05,528.90 229.38,528.90 229.72,528.90 230.06,528.90 230.39,528.90 230.73,528.90 231.07,528.90 231.40,529.21 231.74,529.53 232.08,529.84 232.42,530.15 232.75,530.46 233.09,530.77 233.43,531.08 233.76,531.38 234.10,531.69 234.44,531.99 234.77,532.29 235.11,532.59 235.45,532.89 235.79,533.19 236.12,533.48 236.46,533.78 236.80,534.07 237.13,534.36 237.47,534.65 237.81,534.94 238.14,535.23 238.48,535.51 238.82,535.80 239.16,536.08 239.49,536.36 239.83,536.64 240.17,536.92 240.50,537.20 240.84,537.48 241.18,537.75 241.51,538.03 241.85,538.30 242.19,538.57 242.53,538.84 242.86,539.11 243.20,539.38 243.54,539.64 243.87,539.91 244.21,540.17 244.55,540.43 244.88,540.69 245.22,540.95 245.56,541.21 245.90,541.47 246.23,541.72 246.57,541.98 246.91,542.23 247.24,542.48 247.58,542.73 247.92,542.98 248.25,543.23 248.59,543.48 248.93,543.73 249.27,543.97 249.60,544.22 249.94,544.46 250.28,544.70 250.61,544.94 250.95,545.18 251.29,545.42 251.62,545.66 251.96,545.89 252.30,546.13 252.64,546.36 252.97,546.59 253.31,546.82 253.65,547.05 253.98,547.28 254.32,547.51 254.66,547.74 254.99,547.96 255.33,548.19 255.67,548.41 256.00,548.63 256.34,548.86 256.68,549.08 257.02,549.30 257.35,549.51 257.69,549.73 258.03,549.95 258.36,550.16 258.70,550.38 259.04,550.59 259.38,550.80 259.71,551.01 260.05,551.22 260.39,551.43 260.72,551.64 261.06,551.85 261.40,552.05 261.73,552.26 262.07,552.46 262.41,552.67 262.75,552.87 263.08,553.07 263.42,553.27 263.76,553.47 264.09,553.67 264.43,553.86 264.77,554.06 265.10,554.26 265.44,554.45 265.78,554.64 266.12,554.84 266.45,555.03 266.79,555.22 267.13,555.41 267.46,555.60 267.80,555.79 268.14,555.97 268.47,556.16 268.81,556.35 269.15,556.53 269.49,556.71 269.82,556.90 270.16,557.08 270.50,557.26 270.83,557.44 271.17,557.62 271.51,557.80 271.84,557.98 272.18,558.15 272.52,558.33 272.86,558.50 273.19,558.68 273.53,558.85 273.87,559.02 274.20,559.19 274.54,559.37 274.88,559.54 275.21,559.70 275.55,559.87 275.89,560.04 276.23,560.21 276.56,560.37 276.90,560.54 277.24,560.70 277.57,560.87 277.91,561.03 278.25,561.19 278.58,561.35 278.92,561.51 279.26,561.67 279.60,561.83 279.93,561.99 280.27,562.15 280.61,562.30 280.94,562.46 281.28,562.62 281.62,562.77 281.95,562.92 282.29,563.08 282.63,563.23 282.97,563.38 283.30,563.53 283.64,563.68 283.98,563.83 284.31,563.98 284.65,564.13 284.99,564.27 285.32,564.42 285.66,564.57 286.00,564.71 286.34,564.86 286.67,565.00 287.01,565.14 287.35,565.28 287.68,565.43 288.02,565.57 288.36,565.71 288.69,565.85 289.03,565.99 289.37,566.12 289.71,566.26 290.04,566.40 290.38,566.54 290.72,566.67 291.05,566.81 291.39,566.94 291.73,567.07 292.06,567.21 292.40,567.34 292.74,567.47 293.08,567.60 293.41,567.73 293.75,567.86 294.09,567.99 294.42,568.12 294.76,568.25 295.10,568.38 295.43,568.50 295.77,568.63 296.11,568.75 296.44,568.88 296.78,569.00 297.12,569.13 297.46,569.25 297.79,569.37 298.13,569.50 298.47,569.62" fill="none" stroke="#ef766b" stroke-width="1.25" stroke-linejoin="round" stroke-linecap="round"/>
<line x1="34.20" y1="656.20" x2="34.20" y2="746.80" stroke="#231f20" stroke-width="1.1"/>
<line x1="33.70" y1="746.30" x2="169.50" y2="746.30" stroke="#231f20" stroke-width="1.1"/>
<line x1="30.00" y1="746.30" x2="34.20" y2="746.30" stroke="#231f20" stroke-width="1.1"/>
<text x="28.90" y="748.80" font-size="10.0" text-anchor="end" fill="#231f20" stroke="#231f20">0</text>
<line x1="30.00" y1="723.85" x2="34.20" y2="723.85" stroke="#231f20" stroke-width="1.1"/>
<text x="28.90" y="726.35" font-size="10.0" text-anchor="end" fill="#231f20" stroke="#231f20">20</text>
<line x1="30.00" y1="701.40" x2="34.20" y2="701.40" stroke="#231f20" stroke-width="1.1"/>
<text x="28.90" y="703.90" font-size="10.0" text-anchor="end" fill="#231f20" stroke="#231f20">40</text>
<line x1="30.00" y1="678.95" x2="34.20" y2="678.95" stroke="#231f20" stroke-width="1.1"/>
<text x="28.90" y="681.45" font-size="10.0" text-anchor="end" fill="#231f20" stroke="#231f20">60</text>
<line x1="30.00" y1="656.50" x2="34.20" y2="656.50" stroke="#231f20" stroke-width="1.1"/>
<text x="28.90" y="659.00" font-size="10.0" text-anchor="end" fill="#231f20" stroke="#231f20">80</text>
<line x1="33.90" y1="746.30" x2="33.90" y2="750.80" stroke="#231f20" stroke-width="1.1"/>
<text x="33.30" y="760.00" font-size="10.0" text-anchor="middle" fill="#231f20" stroke="#231f20">0</text>
<line x1="67.70" y1="746.30" x2="67.70" y2="750.80" stroke="#231f20" stroke-width="1.1"/>
<text x="65.60" y="760.00" font-size="10.0" text-anchor="middle" fill="#231f20" stroke="#231f20">100</text>
<line x1="101.60" y1="746.30" x2="101.60" y2="750.80" stroke="#231f20" stroke-width="1.1"/>
<text x="99.00" y="760.00" font-size="10.0" text-anchor="middle" fill="#231f20" stroke="#231f20">200</text>
<line x1="135.10" y1="746.30" x2="135.10" y2="750.80" stroke="#231f20" stroke-width="1.1"/>
<text x="132.90" y="760.00" font-size="10.0" text-anchor="middle" fill="#231f20" stroke="#231f20">300</text>
<line x1="169.00" y1="746.30" x2="169.00" y2="750.80" stroke="#231f20" stroke-width="1.1"/>
<text x="167.20" y="760.00" font-size="10.0" text-anchor="middle" fill="#231f20" stroke="#231f20">400</text>
<text x="102.20" y="772.30" font-size="9.8" text-anchor="middle" fill="#231f20" stroke="#231f20">Time (s)</text>
<text x="14.40" y="702.00" font-size="9.8" text-anchor="middle" fill="#231f20" stroke="#231f20" transform="rotate(-90 14.4 702.0)">Response (RU)</text>
<text x="100.70" y="639.00" font-size="9.8" text-anchor="middle" fill="#231f20" stroke="#231f20">SK4-Fc pH 7.4</text>
<text x="100.00" y="654.20" font-size="9.8" text-anchor="middle" fill="#231f20" stroke="#231f20">K<tspan font-size="5.4" dy="3.0">D</tspan><tspan dy="-3.0">=</tspan>1.6×10<tspan font-size="5.6" dy="-3.6">-8</tspan><tspan dy="3.6"> M</tspan></text>
<polyline points="34.20,746.30 34.37,744.96 34.54,743.90 34.71,743.05 34.87,742.37 35.04,741.83 35.21,741.39 35.38,741.02 35.55,740.73 35.72,740.48 35.89,740.28 36.05,740.10 36.22,739.95 36.39,739.82 36.56,739.70 36.73,739.60 36.90,739.51 37.06,739.42 37.23,739.34 37.40,739.27 37.57,739.21 37.74,739.14 37.91,739.08 38.08,739.03 38.24,738.97 38.41,738.92 38.58,738.87 38.75,738.82 38.92,738.78 39.09,738.73 39.26,738.69 39.42,738.65 39.59,738.61 39.76,738.57 39.93,738.54 40.10,738.50 40.27,738.46 40.43,738.43 40.60,738.40 40.77,738.37 40.94,738.33 41.11,738.30 41.28,738.28 41.45,738.25 41.61,738.22 41.78,738.19 41.95,738.17 42.12,738.14 42.29,738.12 42.46,738.09 42.62,738.07 42.79,738.05 42.96,738.03 43.13,738.01 43.30,737.99 43.47,737.97 43.64,737.95 43.80,737.93 43.97,737.91 44.14,737.89 44.31,737.88 44.48,737.86 44.65,737.84 44.82,737.83 44.98,737.81 45.15,737.80 45.32,737.78 45.49,737.77 45.66,737.76 45.83,737.74 46.00,737.73 46.16,737.72 46.33,737.71 46.50,737.70 46.67,737.69 46.84,737.67 47.01,737.66 47.17,737.65 47.34,737.64 47.51,737.63 47.68,737.63 47.85,737.62 48.02,737.61 48.19,737.60 48.35,737.59 48.52,737.58 48.69,737.58 48.86,737.57 49.03,737.56 49.20,737.55 49.37,737.55 49.53,737.54 49.70,737.53 49.87,737.53 50.04,737.52 50.21,737.51 50.38,737.51 50.54,737.50 50.71,737.50 50.88,737.49 51.05,737.49 51.22,737.48 51.39,737.48 51.56,737.47 51.72,737.47 51.89,737.46 52.06,737.46 52.23,737.46 52.40,737.45 52.57,737.45 52.73,737.44 52.90,737.44 53.07,737.44 53.24,737.43 53.41,737.43 53.58,737.43 53.75,737.42 53.91,737.42 54.08,737.42 54.25,737.41 54.42,737.41 54.59,737.41 54.76,737.41 54.93,737.40 55.09,737.40 55.26,737.40 55.43,737.40 55.60,737.39 55.77,737.39 55.94,737.39 56.11,737.39 56.27,737.39 56.44,737.38 56.61,737.38 56.78,737.38 56.95,737.38 57.12,737.38 57.28,737.38 57.45,737.37 57.62,737.37 57.79,737.37 57.96,737.37 58.13,737.37 58.30,737.37 58.46,737.36 58.63,737.36 58.80,737.36 58.97,737.36 59.14,737.36 59.31,737.36 59.48,737.36 59.64,737.36 59.81,737.36 59.98,737.35 60.15,737.35 60.32,737.35 60.49,737.35 60.65,737.35 60.82,737.35 60.99,737.35 61.16,737.35 61.33,737.35 61.50,737.35 61.67,737.35 61.83,737.34 62.00,737.34 62.17,737.34 62.34,737.34 62.51,737.34 62.68,737.34 62.85,737.34 63.01,737.34 63.18,737.34 63.35,737.34 63.52,737.34 63.69,737.34 63.86,737.34 64.02,737.34 64.19,737.34 64.36,737.34 64.53,737.34 64.70,739.69 64.87,741.30 65.04,742.41 65.20,743.17 65.37,743.69 65.54,744.05 65.71,744.31 65.88,744.49 66.05,744.62 66.22,744.72 66.38,744.79 66.55,744.84 66.72,744.88 66.89,744.92 67.06,744.95 67.23,744.97 67.39,744.99 67.56,745.01 67.73,745.03 67.90,745.05 68.07,745.07 68.24,745.08 68.41,745.10 68.57,745.11 68.74,745.12 68.91,745.14 69.08,745.15 69.25,745.16 69.42,745.17 69.59,745.18 69.75,745.19 69.92,745.21 70.09,745.22 70.26,745.23 70.43,745.23 70.60,745.24 70.76,745.25 70.93,745.26 71.10,745.27 71.27,745.28 71.44,745.29 71.61,745.29 71.78,745.30 71.94,745.31 72.11,745.31 72.28,745.32 72.45,745.33 72.62,745.33 72.79,745.34 72.96,745.34 73.12,745.35 73.29,745.36 73.46,745.36 73.63,745.37 73.80,745.37 73.97,745.38 74.13,745.38 74.30,745.38 74.47,745.39 74.64,745.39 74.81,745.40 74.98,745.40 75.15,745.40 75.31,745.41 75.48,745.41 75.65,745.41 75.82,745.42 75.99,745.42 76.16,745.42 76.33,745.43 76.49,745.43 76.66,745.43 76.83,745.44 77.00,745.44 77.17,745.44 77.34,745.44 77.50,745.45 77.67,745.45 77.84,745.45 78.01,745.45 78.18,745.45 78.35,745.46 78.52,745.46 78.68,745.46 78.85,745.46 79.02,745.46 79.19,745.46 79.36,745.47 79.53,745.47 79.70,745.47 79.86,745.47 80.03,745.47 80.20,745.47 80.37,745.48 80.54,745.48 80.71,745.48 80.87,745.48 81.04,745.48 81.21,745.48 81.38,745.48 81.55,745.48 81.72,745.48 81.89,745.49 82.05,745.49 82.22,745.49 82.39,745.49 82.56,745.49 82.73,745.49 82.90,745.49 83.06,745.49 83.23,745.49 83.40,745.49 83.57,745.49 83.74,745.49 83.91,745.49 84.08,745.50 84.24,745.50 84.41,745.50 84.58,745.50 84.75,745.50 84.92,745.50 85.09,745.50 85.26,745.50 85.42,745.50 85.59,745.50 85.76,745.50 85.93,745.50 86.10,745.50 86.27,745.50 86.44,745.50 86.60,745.50 86.77,745.50 86.94,745.50 87.11,745.50 87.28,745.50 87.45,745.50 87.61,745.50 87.78,745.51 87.95,745.51 88.12,745.51 88.29,745.51 88.46,745.51 88.63,745.51 88.79,745.51 88.96,745.51 89.13,745.51 89.30,745.51 89.47,745.51 89.64,745.51 89.81,745.51 89.97,745.51 90.14,745.51 90.31,745.51 90.48,745.51 90.65,745.51 90.82,745.51 90.98,745.51 91.15,745.51 91.32,745.51 91.49,745.51 91.66,745.51 91.83,745.51 92.00,745.51 92.16,745.51 92.33,745.51 92.50,745.51 92.67,745.51 92.84,745.51 93.01,745.51 93.18,745.51 93.34,745.51 93.51,745.51 93.68,745.51 93.85,745.51 94.02,745.51 94.19,745.51 94.35,745.51 94.52,745.51 94.69,745.51 94.86,745.51 95.03,745.51 95.20,745.51 95.37,745.51 95.53,745.51 95.70,745.51 95.87,745.51 96.04,745.51 96.21,745.51 96.38,745.51 96.55,745.51 96.71,745.51 96.88,745.51 97.05,745.51 97.22,745.51 97.39,745.51 97.56,745.51 97.72,745.51 97.89,745.51 98.06,745.51 98.23,745.51 98.40,745.51 98.57,745.51 98.74,745.51 98.90,745.51 99.07,745.51 99.24,745.51 99.41,745.51 99.58,745.51 99.75,745.51 99.92,745.51 100.08,745.51 100.25,745.51 100.42,745.51 100.59,745.51 100.76,745.51 100.93,745.51 101.09,745.51 101.26,745.51 101.43,745.51 101.60,745.51 101.77,745.51 101.94,745.51 102.11,745.51 102.27,745.51 102.44,745.51 102.61,745.51 102.78,745.51 102.95,745.51 103.12,745.51 103.29,745.51 103.45,745.51 103.62,745.51 103.79,745.51 103.96,745.51 104.13,745.51 104.30,745.51 104.46,745.51 104.63,745.51 104.80,745.51 104.97,745.51 105.14,745.51 105.31,745.51 105.48,745.51 105.64,745.51 105.81,745.51 105.98,745.51 106.15,745.51 106.32,745.51 106.49,745.51 106.66,745.51 106.82,745.51 106.99,745.51 107.16,745.51 107.33,745.51 107.50,745.51 107.67,745.51 107.83,745.51 108.00,745.51 108.17,745.51 108.34,745.51 108.51,745.51 108.68,745.51 108.85,745.51 109.01,745.51 109.18,745.51 109.35,745.51 109.52,745.51 109.69,745.51 109.86,745.51 110.03,745.51 110.19,745.51 110.36,745.51 110.53,745.51 110.70,745.51 110.87,745.51 111.04,745.51 111.20,745.51 111.37,745.51 111.54,745.51 111.71,745.51 111.88,745.51 112.05,745.51 112.22,745.51 112.38,745.51 112.55,745.51 112.72,745.51 112.89,745.51 113.06,745.51 113.23,745.51 113.40,745.51 113.56,745.51 113.73,745.51 113.90,745.51 114.07,745.51 114.24,745.51 114.41,745.51 114.57,745.51 114.74,745.51 114.91,745.51 115.08,745.51 115.25,745.51 115.42,745.51 115.59,745.51 115.75,745.51 115.92,745.51 116.09,745.51 116.26,745.51 116.43,745.51 116.60,745.51 116.77,745.51 116.93,745.51 117.10,745.51 117.27,745.51 117.44,745.51 117.61,745.51 117.78,745.51 117.94,745.51 118.11,745.51 118.28,745.51 118.45,745.51 118.62,745.51 118.79,745.51 118.96,745.51 119.12,745.51 119.29,745.51 119.46,745.51 119.63,745.51 119.80,745.51 119.97,745.51 120.14,745.51 120.30,745.51 120.47,745.51 120.64,745.51 120.81,745.51 120.98,745.51 121.15,745.51 121.31,745.51 121.48,745.51 121.65,745.51 121.82,745.51 121.99,745.51 122.16,745.51 122.33,745.51 122.49,745.51 122.66,745.51 122.83,745.51 123.00,745.51 123.17,745.51 123.34,745.51 123.51,745.51 123.67,745.51 123.84,745.51 124.01,745.51 124.18,745.51 124.35,745.51 124.52,745.51 124.68,745.51 124.85,745.51 125.02,745.51 125.19,745.51 125.36,745.51 125.53,745.51 125.70,745.51 125.86,745.51 126.03,745.51 126.20,745.51 126.37,745.51 126.54,745.51 126.71,745.51 126.88,745.51 127.04,745.51 127.21,745.51 127.38,745.51 127.55,745.51 127.72,745.51 127.89,745.51 128.05,745.51 128.22,745.51 128.39,745.51 128.56,745.51 128.73,745.51 128.90,745.51 129.07,745.51 129.23,745.51 129.40,745.51 129.57,745.51 129.74,745.51 129.91,745.51 130.08,745.51 130.25,745.51 130.41,745.51 130.58,745.51 130.75,745.51 130.92,745.51 131.09,745.51 131.26,745.51 131.42,745.51 131.59,745.51 131.76,745.51 131.93,745.51" fill="none" stroke="#b674c4" stroke-width="1.1" stroke-linejoin="round" stroke-linecap="round"/>
<polyline points="34.20,746.30 34.37,743.65 34.54,741.56 34.71,739.89 34.87,738.57 35.04,737.51 35.21,736.66 35.38,735.96 35.55,735.40 35.72,734.93 35.89,734.54 36.05,734.22 36.22,733.94 36.39,733.70 36.56,733.49 36.73,733.31 36.90,733.14 37.06,732.99 37.23,732.86 37.40,732.73 37.57,732.62 37.74,732.51 37.91,732.41 38.08,732.31 38.24,732.22 38.41,732.14 38.58,732.05 38.75,731.97 38.92,731.90 39.09,731.82 39.26,731.75 39.42,731.68 39.59,731.62 39.76,731.55 39.93,731.49 40.10,731.43 40.27,731.37 40.43,731.31 40.60,731.26 40.77,731.21 40.94,731.15 41.11,731.10 41.28,731.05 41.45,731.01 41.61,730.96 41.78,730.92 41.95,730.87 42.12,730.83 42.29,730.79 42.46,730.75 42.62,730.71 42.79,730.68 42.96,730.64 43.13,730.61 43.30,730.57 43.47,730.54 43.64,730.51 43.80,730.48 43.97,730.45 44.14,730.42 44.31,730.39 44.48,730.36 44.65,730.34 44.82,730.31 44.98,730.29 45.15,730.26 45.32,730.24 45.49,730.21 45.66,730.19 45.83,730.17 46.00,730.15 46.16,730.13 46.33,730.11 46.50,730.09 46.67,730.07 46.84,730.05 47.01,730.04 47.17,730.02 47.34,730.00 47.51,729.99 47.68,729.97 47.85,729.96 48.02,729.94 48.19,729.93 48.35,729.91 48.52,729.90 48.69,729.89 48.86,729.88 49.03,729.86 49.20,729.85 49.37,729.84 49.53,729.83 49.70,729.82 49.87,729.81 50.04,729.80 50.21,729.79 50.38,729.78 50.54,729.77 50.71,729.76 50.88,729.75 51.05,729.74 51.22,729.73 51.39,729.73 51.56,729.72 51.72,729.71 51.89,729.70 52.06,729.70 52.23,729.69 52.40,729.68 52.57,729.68 52.73,729.67 52.90,729.66 53.07,729.66 53.24,729.65 53.41,729.65 53.58,729.64 53.75,729.64 53.91,729.63 54.08,729.63 54.25,729.62 54.42,729.62 54.59,729.61 54.76,729.61 54.93,729.60 55.09,729.60 55.26,729.59 55.43,729.59 55.60,729.59 55.77,729.58 55.94,729.58 56.11,729.58 56.27,729.57 56.44,729.57 56.61,729.57 56.78,729.56 56.95,729.56 57.12,729.56 57.28,729.55 57.45,729.55 57.62,729.55 57.79,729.55 57.96,729.54 58.13,729.54 58.30,729.54 58.46,729.54 58.63,729.53 58.80,729.53 58.97,729.53 59.14,729.53 59.31,729.53 59.48,729.52 59.64,729.52 59.81,729.52 59.98,729.52 60.15,729.52 60.32,729.52 60.49,729.51 60.65,729.51 60.82,729.51 60.99,729.51 61.16,729.51 61.33,729.51 61.50,729.51 61.67,729.50 61.83,729.50 62.00,729.50 62.17,729.50 62.34,729.50 62.51,729.50 62.68,729.50 62.85,729.50 63.01,729.50 63.18,729.49 63.35,729.49 63.52,729.49 63.69,729.49 63.86,729.49 64.02,729.49 64.19,729.49 64.36,729.49 64.53,729.49 64.70,733.51 64.87,736.27 65.04,738.16 65.20,739.47 65.37,740.37 65.54,741.00 65.71,741.44 65.88,741.76 66.05,741.98 66.22,742.15 66.38,742.28 66.55,742.38 66.72,742.46 66.89,742.53 67.06,742.59 67.23,742.64 67.39,742.68 67.56,742.72 67.73,742.76 67.90,742.80 68.07,742.84 68.24,742.87 68.41,742.90 68.57,742.93 68.74,742.96 68.91,742.99 69.08,743.02 69.25,743.05 69.42,743.08 69.59,743.11 69.75,743.13 69.92,743.16 70.09,743.18 70.26,743.21 70.43,743.23 70.60,743.25 70.76,743.28 70.93,743.30 71.10,743.32 71.27,743.34 71.44,743.36 71.61,743.38 71.78,743.40 71.94,743.42 72.11,743.44 72.28,743.46 72.45,743.47 72.62,743.49 72.79,743.51 72.96,743.52 73.12,743.54 73.29,743.56 73.46,743.57 73.63,743.59 73.80,743.60 73.97,743.61 74.13,743.63 74.30,743.64 74.47,743.65 74.64,743.67 74.81,743.68 74.98,743.69 75.15,743.70 75.31,743.71 75.48,743.73 75.65,743.74 75.82,743.75 75.99,743.76 76.16,743.77 76.33,743.78 76.49,743.79 76.66,743.80 76.83,743.81 77.00,743.81 77.17,743.82 77.34,743.83 77.50,743.84 77.67,743.85 77.84,743.86 78.01,743.86 78.18,743.87 78.35,743.88 78.52,743.89 78.68,743.89 78.85,743.90 79.02,743.91 79.19,743.91 79.36,743.92 79.53,743.92 79.70,743.93 79.86,743.94 80.03,743.94 80.20,743.95 80.37,743.95 80.54,743.96 80.71,743.96 80.87,743.97 81.04,743.97 81.21,743.98 81.38,743.98 81.55,743.99 81.72,743.99 81.89,744.00 82.05,744.00 82.22,744.00 82.39,744.01 82.56,744.01 82.73,744.02 82.90,744.02 83.06,744.02 83.23,744.03 83.40,744.03 83.57,744.03 83.74,744.04 83.91,744.04 84.08,744.04 84.24,744.05 84.41,744.05 84.58,744.05 84.75,744.06 84.92,744.06 85.09,744.06 85.26,744.06 85.42,744.07 85.59,744.07 85.76,744.07 85.93,744.07 86.10,744.08 86.27,744.08 86.44,744.08 86.60,744.08 86.77,744.08 86.94,744.09 87.11,744.09 87.28,744.09 87.45,744.09 87.61,744.09 87.78,744.10 87.95,744.10 88.12,744.10 88.29,744.10 88.46,744.10 88.63,744.10 88.79,744.11 88.96,744.11 89.13,744.11 89.30,744.11 89.47,744.11 89.64,744.11 89.81,744.11 89.97,744.12 90.14,744.12 90.31,744.12 90.48,744.12 90.65,744.12 90.82,744.12 90.98,744.12 91.15,744.12 91.32,744.13 91.49,744.13 91.66,744.13 91.83,744.13 92.00,744.13 92.16,744.13 92.33,744.13 92.50,744.13 92.67,744.13 92.84,744.13 93.01,744.13 93.18,744.14 93.34,744.14 93.51,744.14 93.68,744.14 93.85,744.14 94.02,744.14 94.19,744.14 94.35,744.14 94.52,744.14 94.69,744.14 94.86,744.14 95.03,744.14 95.20,744.14 95.37,744.14 95.53,744.14 95.70,744.15 95.87,744.15 96.04,744.15 96.21,744.15 96.38,744.15 96.55,744.15 96.71,744.15 96.88,744.15 97.05,744.15 97.22,744.15 97.39,744.15 97.56,744.15 97.72,744.15 97.89,744.15 98.06,744.15 98.23,744.15 98.40,744.15 98.57,744.15 98.74,744.15 98.90,744.15 99.07,744.15 99.24,744.15 99.41,744.15 99.58,744.15 99.75,744.16 99.92,744.16 100.08,744.16 100.25,744.16 100.42,744.16 100.59,744.16 100.76,744.16 100.93,744.16 101.09,744.16 101.26,744.16 101.43,744.16 101.60,744.16 101.77,744.16 101.94,744.16 102.11,744.16 102.27,744.16 102.44,744.16 102.61,744.16 102.78,744.16 102.95,744.16 103.12,744.16 103.29,744.16 103.45,744.16 103.62,744.16 103.79,744.16 103.96,744.16 104.13,744.16 104.30,744.16 104.46,744.16 104.63,744.16 104.80,744.16 104.97,744.16 105.14,744.16 105.31,744.16 105.48,744.16 105.64,744.16 105.81,744.16 105.98,744.16 106.15,744.16 106.32,744.16 106.49,744.16 106.66,744.16 106.82,744.16 106.99,744.16 107.16,744.16 107.33,744.16 107.50,744.16 107.67,744.16 107.83,744.16 108.00,744.16 108.17,744.16 108.34,744.16 108.51,744.16 108.68,744.16 108.85,744.16 109.01,744.16 109.18,744.16 109.35,744.16 109.52,744.16 109.69,744.16 109.86,744.16 110.03,744.16 110.19,744.16 110.36,744.16 110.53,744.16 110.70,744.16 110.87,744.16 111.04,744.16 111.20,744.17 111.37,744.17 111.54,744.17 111.71,744.17 111.88,744.17 112.05,744.17 112.22,744.17 112.38,744.17 112.55,744.17 112.72,744.17 112.89,744.17 113.06,744.17 113.23,744.17 113.40,744.17 113.56,744.17 113.73,744.17 113.90,744.17 114.07,744.17 114.24,744.17 114.41,744.17 114.57,744.17 114.74,744.17 114.91,744.17 115.08,744.17 115.25,744.17 115.42,744.17 115.59,744.17 115.75,744.17 115.92,744.17 116.09,744.17 116.26,744.17 116.43,744.17 116.60,744.17 116.77,744.17 116.93,744.17 117.10,744.17 117.27,744.17 117.44,744.17 117.61,744.17 117.78,744.17 117.94,744.17 118.11,744.17 118.28,744.17 118.45,744.17 118.62,744.17 118.79,744.17 118.96,744.17 119.12,744.17 119.29,744.17 119.46,744.17 119.63,744.17 119.80,744.17 119.97,744.17 120.14,744.17 120.30,744.17 120.47,744.17 120.64,744.17 120.81,744.17 120.98,744.17 121.15,744.17 121.31,744.17 121.48,744.17 121.65,744.17 121.82,744.17 121.99,744.17 122.16,744.17 122.33,744.17 122.49,744.17 122.66,744.17 122.83,744.17 123.00,744.17 123.17,744.17 123.34,744.17 123.51,744.17 123.67,744.17 123.84,744.17 124.01,744.17 124.18,744.17 124.35,744.17 124.52,744.17 124.68,744.17 124.85,744.17 125.02,744.17 125.19,744.17 125.36,744.17 125.53,744.17 125.70,744.17 125.86,744.17 126.03,744.17 126.20,744.17 126.37,744.17 126.54,744.17 126.71,744.17 126.88,744.17 127.04,744.17 127.21,744.17 127.38,744.17 127.55,744.17 127.72,744.17 127.89,744.17 128.05,744.17 128.22,744.17 128.39,744.17 128.56,744.17 128.73,744.17 128.90,744.17 129.07,744.17 129.23,744.17 129.40,744.17 129.57,744.17 129.74,744.17 129.91,744.17 130.08,744.17 130.25,744.17 130.41,744.17 130.58,744.17 130.75,744.17 130.92,744.17 131.09,744.17 131.26,744.17 131.42,744.17 131.59,744.17 131.76,744.17 131.93,744.17" fill="none" stroke="#66a6dc" stroke-width="1.1" stroke-linejoin="round" stroke-linecap="round"/>
<polyline points="34.20,746.30 34.37,741.33 34.54,737.42 34.71,734.32 34.87,731.87 35.04,729.91 35.21,728.34 35.38,727.08 35.55,726.06 35.72,725.23 35.89,724.54 36.05,723.97 36.22,723.49 36.39,723.08 36.56,722.73 36.73,722.42 36.90,722.15 37.06,721.91 37.23,721.70 37.40,721.50 37.57,721.32 37.74,721.15 37.91,720.99 38.08,720.84 38.24,720.70 38.41,720.57 38.58,720.45 38.75,720.32 38.92,720.21 39.09,720.10 39.26,719.99 39.42,719.88 39.59,719.78 39.76,719.69 39.93,719.59 40.10,719.50 40.27,719.42 40.43,719.33 40.60,719.25 40.77,719.17 40.94,719.09 41.11,719.02 41.28,718.94 41.45,718.87 41.61,718.80 41.78,718.74 41.95,718.67 42.12,718.61 42.29,718.55 42.46,718.49 42.62,718.43 42.79,718.38 42.96,718.32 43.13,718.27 43.30,718.22 43.47,718.17 43.64,718.12 43.80,718.08 43.97,718.03 44.14,717.99 44.31,717.95 44.48,717.90 44.65,717.86 44.82,717.83 44.98,717.79 45.15,717.75 45.32,717.72 45.49,717.68 45.66,717.65 45.83,717.62 46.00,717.58 46.16,717.55 46.33,717.52 46.50,717.50 46.67,717.47 46.84,717.44 47.01,717.41 47.17,717.39 47.34,717.36 47.51,717.34 47.68,717.32 47.85,717.29 48.02,717.27 48.19,717.25 48.35,717.23 48.52,717.21 48.69,717.19 48.86,717.17 49.03,717.15 49.20,717.14 49.37,717.12 49.53,717.10 49.70,717.09 49.87,717.07 50.04,717.06 50.21,717.04 50.38,717.03 50.54,717.01 50.71,717.00 50.88,716.99 51.05,716.97 51.22,716.96 51.39,716.95 51.56,716.94 51.72,716.93 51.89,716.91 52.06,716.90 52.23,716.89 52.40,716.88 52.57,716.87 52.73,716.86 52.90,716.86 53.07,716.85 53.24,716.84 53.41,716.83 53.58,716.82 53.75,716.81 53.91,716.81 54.08,716.80 54.25,716.79 54.42,716.78 54.59,716.78 54.76,716.77 54.93,716.76 55.09,716.76 55.26,716.75 55.43,716.75 55.60,716.74 55.77,716.73 55.94,716.73 56.11,716.72 56.27,716.72 56.44,716.71 56.61,716.71 56.78,716.70 56.95,716.70 57.12,716.70 57.28,716.69 57.45,716.69 57.62,716.68 57.79,716.68 57.96,716.68 58.13,716.67 58.30,716.67 58.46,716.67 58.63,716.66 58.80,716.66 58.97,716.66 59.14,716.65 59.31,716.65 59.48,716.65 59.64,716.64 59.81,716.64 59.98,716.64 60.15,716.64 60.32,716.63 60.49,716.63 60.65,716.63 60.82,716.63 60.99,716.63 61.16,716.62 61.33,716.62 61.50,716.62 61.67,716.62 61.83,716.62 62.00,716.61 62.17,716.61 62.34,716.61 62.51,716.61 62.68,716.61 62.85,716.61 63.01,716.60 63.18,716.60 63.35,716.60 63.52,716.60 63.69,716.60 63.86,716.60 64.02,716.60 64.19,716.59 64.36,716.59 64.53,716.59 64.70,724.15 64.87,729.33 65.04,732.87 65.20,735.31 65.37,736.99 65.54,738.15 65.71,738.97 65.88,739.54 66.05,739.96 66.22,740.26 66.38,740.48 66.55,740.65 66.72,740.79 66.89,740.90 67.06,740.99 67.23,741.07 67.39,741.15 67.56,741.21 67.73,741.27 67.90,741.33 68.07,741.38 68.24,741.43 68.41,741.48 68.57,741.53 68.74,741.58 68.91,741.62 69.08,741.67 69.25,741.71 69.42,741.75 69.59,741.79 69.75,741.83 69.92,741.87 70.09,741.91 70.26,741.94 70.43,741.98 70.60,742.01 70.76,742.05 70.93,742.08 71.10,742.11 71.27,742.14 71.44,742.17 71.61,742.20 71.78,742.23 71.94,742.26 72.11,742.29 72.28,742.32 72.45,742.34 72.62,742.37 72.79,742.39 72.96,742.42 73.12,742.44 73.29,742.46 73.46,742.49 73.63,742.51 73.80,742.53 73.97,742.55 74.13,742.57 74.30,742.59 74.47,742.61 74.64,742.63 74.81,742.65 74.98,742.67 75.15,742.68 75.31,742.70 75.48,742.72 75.65,742.73 75.82,742.75 75.99,742.77 76.16,742.78 76.33,742.80 76.49,742.81 76.66,742.82 76.83,742.84 77.00,742.85 77.17,742.87 77.34,742.88 77.50,742.89 77.67,742.90 77.84,742.91 78.01,742.93 78.18,742.94 78.35,742.95 78.52,742.96 78.68,742.97 78.85,742.98 79.02,742.99 79.19,743.00 79.36,743.01 79.53,743.02 79.70,743.03 79.86,743.04 80.03,743.04 80.20,743.05 80.37,743.06 80.54,743.07 80.71,743.08 80.87,743.08 81.04,743.09 81.21,743.10 81.38,743.11 81.55,743.11 81.72,743.12 81.89,743.13 82.05,743.13 82.22,743.14 82.39,743.14 82.56,743.15 82.73,743.16 82.90,743.16 83.06,743.17 83.23,743.17 83.40,743.18 83.57,743.18 83.74,743.19 83.91,743.19 84.08,743.20 84.24,743.20 84.41,743.21 84.58,743.21 84.75,743.21 84.92,743.22 85.09,743.22 85.26,743.23 85.42,743.23 85.59,743.23 85.76,743.24 85.93,743.24 86.10,743.24 86.27,743.25 86.44,743.25 86.60,743.25 86.77,743.26 86.94,743.26 87.11,743.26 87.28,743.27 87.45,743.27 87.61,743.27 87.78,743.27 87.95,743.28 88.12,743.28 88.29,743.28 88.46,743.28 88.63,743.29 88.79,743.29 88.96,743.29 89.13,743.29 89.30,743.30 89.47,743.30 89.64,743.30 89.81,743.30 89.97,743.30 90.14,743.31 90.31,743.31 90.48,743.31 90.65,743.31 90.82,743.31 90.98,743.32 91.15,743.32 91.32,743.32 91.49,743.32 91.66,743.32 91.83,743.32 92.00,743.32 92.16,743.33 92.33,743.33 92.50,743.33 92.67,743.33 92.84,743.33 93.01,743.33 93.18,743.33 93.34,743.33 93.51,743.34 93.68,743.34 93.85,743.34 94.02,743.34 94.19,743.34 94.35,743.34 94.52,743.34 94.69,743.34 94.86,743.34 95.03,743.35 95.20,743.35 95.37,743.35 95.53,743.35 95.70,743.35 95.87,743.35 96.04,743.35 96.21,743.35 96.38,743.35 96.55,743.35 96.71,743.35 96.88,743.35 97.05,743.35 97.22,743.36 97.39,743.36 97.56,743.36 97.72,743.36 97.89,743.36 98.06,743.36 98.23,743.36 98.40,743.36 98.57,743.36 98.74,743.36 98.90,743.36 99.07,743.36 99.24,743.36 99.41,743.36 99.58,743.36 99.75,743.36 99.92,743.36 100.08,743.36 100.25,743.36 100.42,743.37 100.59,743.37 100.76,743.37 100.93,743.37 101.09,743.37 101.26,743.37 101.43,743.37 101.60,743.37 101.77,743.37 101.94,743.37 102.11,743.37 102.27,743.37 102.44,743.37 102.61,743.37 102.78,743.37 102.95,743.37 103.12,743.37 103.29,743.37 103.45,743.37 103.62,743.37 103.79,743.37 103.96,743.37 104.13,743.37 104.30,743.37 104.46,743.37 104.63,743.37 104.80,743.37 104.97,743.37 105.14,743.37 105.31,743.37 105.48,743.37 105.64,743.37 105.81,743.37 105.98,743.37 106.15,743.37 106.32,743.37 106.49,743.37 106.66,743.37 106.82,743.38 106.99,743.38 107.16,743.38 107.33,743.38 107.50,743.38 107.67,743.38 107.83,743.38 108.00,743.38 108.17,743.38 108.34,743.38 108.51,743.38 108.68,743.38 108.85,743.38 109.01,743.38 109.18,743.38 109.35,743.38 109.52,743.38 109.69,743.38 109.86,743.38 110.03,743.38 110.19,743.38 110.36,743.38 110.53,743.38 110.70,743.38 110.87,743.38 111.04,743.38 111.20,743.38 111.37,743.38 111.54,743.38 111.71,743.38 111.88,743.38 112.05,743.38 112.22,743.38 112.38,743.38 112.55,743.38 112.72,743.38 112.89,743.38 113.06,743.38 113.23,743.38 113.40,743.38 113.56,743.38 113.73,743.38 113.90,743.38 114.07,743.38 114.24,743.38 114.41,743.38 114.57,743.38 114.74,743.38 114.91,743.38 115.08,743.38 115.25,743.38 115.42,743.38 115.59,743.38 115.75,743.38 115.92,743.38 116.09,743.38 116.26,743.38 116.43,743.38 116.60,743.38 116.77,743.38 116.93,743.38 117.10,743.38 117.27,743.38 117.44,743.38 117.61,743.38 117.78,743.38 117.94,743.38 118.11,743.38 118.28,743.38 118.45,743.38 118.62,743.38 118.79,743.38 118.96,743.38 119.12,743.38 119.29,743.38 119.46,743.38 119.63,743.38 119.80,743.38 119.97,743.38 120.14,743.38 120.30,743.38 120.47,743.38 120.64,743.38 120.81,743.38 120.98,743.38 121.15,743.38 121.31,743.38 121.48,743.38 121.65,743.38 121.82,743.38 121.99,743.38 122.16,743.38 122.33,743.38 122.49,743.38 122.66,743.38 122.83,743.38 123.00,743.38 123.17,743.38 123.34,743.38 123.51,743.38 123.67,743.38 123.84,743.38 124.01,743.38 124.18,743.38 124.35,743.38 124.52,743.38 124.68,743.38 124.85,743.38 125.02,743.38 125.19,743.38 125.36,743.38 125.53,743.38 125.70,743.38 125.86,743.38 126.03,743.38 126.20,743.38 126.37,743.38 126.54,743.38 126.71,743.38 126.88,743.38 127.04,743.38 127.21,743.38 127.38,743.38 127.55,743.38 127.72,743.38 127.89,743.38 128.05,743.38 128.22,743.38 128.39,743.38 128.56,743.38 128.73,743.38 128.90,743.38 129.07,743.38 129.23,743.38 129.40,743.38 129.57,743.38 129.74,743.38 129.91,743.38 130.08,743.38 130.25,743.38 130.41,743.38 130.58,743.38 130.75,743.38 130.92,743.38 131.09,743.38 131.26,743.38 131.42,743.38 131.59,743.38 131.76,743.38 131.93,743.38" fill="none" stroke="#7ccfbe" stroke-width="1.1" stroke-linejoin="round" stroke-linecap="round"/>
<polyline points="34.20,746.30 34.37,737.13 34.54,729.94 34.71,724.30 34.87,719.87 35.04,716.37 35.21,713.61 35.38,711.42 35.55,709.68 35.72,708.29 35.89,707.17 36.05,706.26 36.22,705.53 36.39,704.92 36.56,704.42 36.73,703.99 36.90,703.63 37.06,703.33 37.23,703.06 37.40,702.83 37.57,702.62 37.74,702.43 37.91,702.26 38.08,702.10 38.24,701.96 38.41,701.82 38.58,701.70 38.75,701.58 38.92,701.46 39.09,701.35 39.26,701.25 39.42,701.15 39.59,701.05 39.76,700.96 39.93,700.87 40.10,700.79 40.27,700.71 40.43,700.63 40.60,700.55 40.77,700.47 40.94,700.40 41.11,700.33 41.28,700.26 41.45,700.20 41.61,700.13 41.78,700.07 41.95,700.01 42.12,699.95 42.29,699.89 42.46,699.84 42.62,699.79 42.79,699.73 42.96,699.68 43.13,699.63 43.30,699.59 43.47,699.54 43.64,699.50 43.80,699.45 43.97,699.41 44.14,699.37 44.31,699.33 44.48,699.29 44.65,699.26 44.82,699.22 44.98,699.18 45.15,699.15 45.32,699.12 45.49,699.09 45.66,699.05 45.83,699.02 46.00,698.99 46.16,698.97 46.33,698.94 46.50,698.91 46.67,698.89 46.84,698.86 47.01,698.84 47.17,698.81 47.34,698.79 47.51,698.77 47.68,698.75 47.85,698.72 48.02,698.70 48.19,698.68 48.35,698.66 48.52,698.65 48.69,698.63 48.86,698.61 49.03,698.59 49.20,698.58 49.37,698.56 49.53,698.54 49.70,698.53 49.87,698.52 50.04,698.50 50.21,698.49 50.38,698.47 50.54,698.46 50.71,698.45 50.88,698.44 51.05,698.42 51.22,698.41 51.39,698.40 51.56,698.39 51.72,698.38 51.89,698.37 52.06,698.36 52.23,698.35 52.40,698.34 52.57,698.33 52.73,698.32 52.90,698.31 53.07,698.31 53.24,698.30 53.41,698.29 53.58,698.28 53.75,698.27 53.91,698.27 54.08,698.26 54.25,698.25 54.42,698.25 54.59,698.24 54.76,698.23 54.93,698.23 55.09,698.22 55.26,698.22 55.43,698.21 55.60,698.21 55.77,698.20 55.94,698.20 56.11,698.19 56.27,698.19 56.44,698.18 56.61,698.18 56.78,698.17 56.95,698.17 57.12,698.17 57.28,698.16 57.45,698.16 57.62,698.15 57.79,698.15 57.96,698.15 58.13,698.14 58.30,698.14 58.46,698.14 58.63,698.13 58.80,698.13 58.97,698.13 59.14,698.13 59.31,698.12 59.48,698.12 59.64,698.12 59.81,698.11 59.98,698.11 60.15,698.11 60.32,698.11 60.49,698.11 60.65,698.10 60.82,698.10 60.99,698.10 61.16,698.10 61.33,698.10 61.50,698.09 61.67,698.09 61.83,698.09 62.00,698.09 62.17,698.09 62.34,698.08 62.51,698.08 62.68,698.08 62.85,698.08 63.01,698.08 63.18,698.08 63.35,698.08 63.52,698.07 63.69,698.07 63.86,698.07 64.02,698.07 64.19,698.07 64.36,698.07 64.53,698.07 64.70,710.95 64.87,719.75 65.04,725.76 65.20,729.88 65.37,732.72 65.54,734.67 65.71,736.02 65.88,736.97 66.05,737.64 66.22,738.12 66.38,738.47 66.55,738.73 66.72,738.93 66.89,739.08 67.06,739.21 67.23,739.32 67.39,739.41 67.56,739.49 67.73,739.56 67.90,739.63 68.07,739.70 68.24,739.76 68.41,739.82 68.57,739.87 68.74,739.93 68.91,739.98 69.08,740.03 69.25,740.08 69.42,740.13 69.59,740.18 69.75,740.22 69.92,740.27 70.09,740.31 70.26,740.36 70.43,740.40 70.60,740.44 70.76,740.48 70.93,740.52 71.10,740.55 71.27,740.59 71.44,740.62 71.61,740.66 71.78,740.69 71.94,740.73 72.11,740.76 72.28,740.79 72.45,740.82 72.62,740.85 72.79,740.88 72.96,740.91 73.12,740.94 73.29,740.96 73.46,740.99 73.63,741.02 73.80,741.04 73.97,741.07 74.13,741.09 74.30,741.11 74.47,741.14 74.64,741.16 74.81,741.18 74.98,741.20 75.15,741.22 75.31,741.24 75.48,741.26 75.65,741.28 75.82,741.30 75.99,741.32 76.16,741.33 76.33,741.35 76.49,741.37 76.66,741.39 76.83,741.40 77.00,741.42 77.17,741.43 77.34,741.45 77.50,741.46 77.67,741.48 77.84,741.49 78.01,741.50 78.18,741.52 78.35,741.53 78.52,741.54 78.68,741.55 78.85,741.57 79.02,741.58 79.19,741.59 79.36,741.60 79.53,741.61 79.70,741.62 79.86,741.63 80.03,741.64 80.20,741.65 80.37,741.66 80.54,741.67 80.71,741.68 80.87,741.69 81.04,741.70 81.21,741.70 81.38,741.71 81.55,741.72 81.72,741.73 81.89,741.74 82.05,741.74 82.22,741.75 82.39,741.76 82.56,741.76 82.73,741.77 82.90,741.78 83.06,741.78 83.23,741.79 83.40,741.80 83.57,741.80 83.74,741.81 83.91,741.81 84.08,741.82 84.24,741.82 84.41,741.83 84.58,741.83 84.75,741.84 84.92,741.84 85.09,741.85 85.26,741.85 85.42,741.86 85.59,741.86 85.76,741.87 85.93,741.87 86.10,741.87 86.27,741.88 86.44,741.88 86.60,741.89 86.77,741.89 86.94,741.89 87.11,741.90 87.28,741.90 87.45,741.90 87.61,741.91 87.78,741.91 87.95,741.91 88.12,741.92 88.29,741.92 88.46,741.92 88.63,741.92 88.79,741.93 88.96,741.93 89.13,741.93 89.30,741.93 89.47,741.94 89.64,741.94 89.81,741.94 89.97,741.94 90.14,741.95 90.31,741.95 90.48,741.95 90.65,741.95 90.82,741.95 90.98,741.96 91.15,741.96 91.32,741.96 91.49,741.96 91.66,741.96 91.83,741.97 92.00,741.97 92.16,741.97 92.33,741.97 92.50,741.97 92.67,741.97 92.84,741.98 93.01,741.98 93.18,741.98 93.34,741.98 93.51,741.98 93.68,741.98 93.85,741.98 94.02,741.99 94.19,741.99 94.35,741.99 94.52,741.99 94.69,741.99 94.86,741.99 95.03,741.99 95.20,741.99 95.37,741.99 95.53,742.00 95.70,742.00 95.87,742.00 96.04,742.00 96.21,742.00 96.38,742.00 96.55,742.00 96.71,742.00 96.88,742.00 97.05,742.00 97.22,742.00 97.39,742.00 97.56,742.01 97.72,742.01 97.89,742.01 98.06,742.01 98.23,742.01 98.40,742.01 98.57,742.01 98.74,742.01 98.90,742.01 99.07,742.01 99.24,742.01 99.41,742.01 99.58,742.01 99.75,742.01 99.92,742.01 100.08,742.01 100.25,742.01 100.42,742.02 100.59,742.02 100.76,742.02 100.93,742.02 101.09,742.02 101.26,742.02 101.43,742.02 101.60,742.02 101.77,742.02 101.94,742.02 102.11,742.02 102.27,742.02 102.44,742.02 102.61,742.02 102.78,742.02 102.95,742.02 103.12,742.02 103.29,742.02 103.45,742.02 103.62,742.02 103.79,742.02 103.96,742.02 104.13,742.02 104.30,742.02 104.46,742.02 104.63,742.02 104.80,742.02 104.97,742.02 105.14,742.03 105.31,742.03 105.48,742.03 105.64,742.03 105.81,742.03 105.98,742.03 106.15,742.03 106.32,742.03 106.49,742.03 106.66,742.03 106.82,742.03 106.99,742.03 107.16,742.03 107.33,742.03 107.50,742.03 107.67,742.03 107.83,742.03 108.00,742.03 108.17,742.03 108.34,742.03 108.51,742.03 108.68,742.03 108.85,742.03 109.01,742.03 109.18,742.03 109.35,742.03 109.52,742.03 109.69,742.03 109.86,742.03 110.03,742.03 110.19,742.03 110.36,742.03 110.53,742.03 110.70,742.03 110.87,742.03 111.04,742.03 111.20,742.03 111.37,742.03 111.54,742.03 111.71,742.03 111.88,742.03 112.05,742.03 112.22,742.03 112.38,742.03 112.55,742.03 112.72,742.03 112.89,742.03 113.06,742.03 113.23,742.03 113.40,742.03 113.56,742.03 113.73,742.03 113.90,742.03 114.07,742.03 114.24,742.03 114.41,742.03 114.57,742.03 114.74,742.03 114.91,742.03 115.08,742.03 115.25,742.03 115.42,742.03 115.59,742.03 115.75,742.03 115.92,742.03 116.09,742.03 116.26,742.03 116.43,742.03 116.60,742.03 116.77,742.03 116.93,742.03 117.10,742.03 117.27,742.03 117.44,742.03 117.61,742.03 117.78,742.03 117.94,742.03 118.11,742.03 118.28,742.03 118.45,742.03 118.62,742.03 118.79,742.03 118.96,742.03 119.12,742.03 119.29,742.03 119.46,742.03 119.63,742.03 119.80,742.03 119.97,742.03 120.14,742.03 120.30,742.03 120.47,742.03 120.64,742.03 120.81,742.03 120.98,742.03 121.15,742.03 121.31,742.03 121.48,742.03 121.65,742.03 121.82,742.03 121.99,742.03 122.16,742.03 122.33,742.03 122.49,742.03 122.66,742.03 122.83,742.03 123.00,742.03 123.17,742.03 123.34,742.03 123.51,742.03 123.67,742.03 123.84,742.03 124.01,742.03 124.18,742.03 124.35,742.03 124.52,742.03 124.68,742.03 124.85,742.03 125.02,742.03 125.19,742.03 125.36,742.03 125.53,742.03 125.70,742.03 125.86,742.03 126.03,742.03 126.20,742.03 126.37,742.03 126.54,742.03 126.71,742.03 126.88,742.03 127.04,742.03 127.21,742.03 127.38,742.03 127.55,742.03 127.72,742.03 127.89,742.03 128.05,742.03 128.22,742.03 128.39,742.03 128.56,742.03 128.73,742.03 128.90,742.03 129.07,742.03 129.23,742.03 129.40,742.03 129.57,742.03 129.74,742.03 129.91,742.03 130.08,742.03 130.25,742.03 130.41,742.03 130.58,742.03 130.75,742.03 130.92,742.03 131.09,742.03 131.26,742.03 131.42,742.03 131.59,742.03 131.76,742.03 131.93,742.03" fill="none" stroke="#f7aa5e" stroke-width="1.1" stroke-linejoin="round" stroke-linecap="round"/>
<polyline points="34.20,746.30 34.37,731.28 34.54,719.47 34.71,710.17 34.87,702.82 35.04,697.00 35.21,692.37 35.38,688.67 35.55,685.70 35.72,683.31 35.89,681.36 36.05,679.76 36.22,678.45 36.39,677.35 36.56,676.42 36.73,675.64 36.90,674.96 37.06,674.37 37.23,673.85 37.40,673.39 37.57,672.98 37.74,672.61 37.91,672.26 38.08,671.95 38.24,671.66 38.41,671.39 38.58,671.13 38.75,670.89 38.92,670.67 39.09,670.45 39.26,670.25 39.42,670.06 39.59,669.87 39.76,669.70 39.93,669.53 40.10,669.37 40.27,669.21 40.43,669.06 40.60,668.92 40.77,668.79 40.94,668.66 41.11,668.53 41.28,668.41 41.45,668.30 41.61,668.18 41.78,668.08 41.95,667.98 42.12,667.88 42.29,667.78 42.46,667.69 42.62,667.61 42.79,667.52 42.96,667.44 43.13,667.37 43.30,667.29 43.47,667.22 43.64,667.15 43.80,667.09 43.97,667.02 44.14,666.96 44.31,666.91 44.48,666.85 44.65,666.80 44.82,666.74 44.98,666.69 45.15,666.65 45.32,666.60 45.49,666.56 45.66,666.52 45.83,666.47 46.00,666.44 46.16,666.40 46.33,666.36 46.50,666.33 46.67,666.29 46.84,666.26 47.01,666.23 47.17,666.20 47.34,666.17 47.51,666.15 47.68,666.12 47.85,666.10 48.02,666.07 48.19,666.05 48.35,666.03 48.52,666.00 48.69,665.98 48.86,665.96 49.03,665.95 49.20,665.93 49.37,665.91 49.53,665.89 49.70,665.88 49.87,665.86 50.04,665.85 50.21,665.83 50.38,665.82 50.54,665.80 50.71,665.79 50.88,665.78 51.05,665.77 51.22,665.76 51.39,665.75 51.56,665.74 51.72,665.73 51.89,665.72 52.06,665.71 52.23,665.70 52.40,665.69 52.57,665.68 52.73,665.67 52.90,665.67 53.07,665.66 53.24,665.65 53.41,665.64 53.58,665.64 53.75,665.63 53.91,665.63 54.08,665.62 54.25,665.61 54.42,665.61 54.59,665.60 54.76,665.60 54.93,665.59 55.09,665.59 55.26,665.59 55.43,665.58 55.60,665.58 55.77,665.57 55.94,665.57 56.11,665.57 56.27,665.56 56.44,665.56 56.61,665.56 56.78,665.55 56.95,665.55 57.12,665.55 57.28,665.55 57.45,665.54 57.62,665.54 57.79,665.54 57.96,665.54 58.13,665.53 58.30,665.53 58.46,665.53 58.63,665.53 58.80,665.53 58.97,665.52 59.14,665.52 59.31,665.52 59.48,665.52 59.64,665.52 59.81,665.52 59.98,665.51 60.15,665.51 60.32,665.51 60.49,665.51 60.65,665.51 60.82,665.51 60.99,665.51 61.16,665.51 61.33,665.51 61.50,665.50 61.67,665.50 61.83,665.50 62.00,665.50 62.17,665.50 62.34,665.50 62.51,665.50 62.68,665.50 62.85,665.50 63.01,665.50 63.18,665.50 63.35,665.50 63.52,665.49 63.69,665.49 63.86,665.49 64.02,665.49 64.19,665.49 64.36,665.49 64.53,665.49 64.70,684.35 64.87,697.26 65.04,706.12 65.20,712.22 65.37,716.43 65.54,719.37 65.71,721.43 65.88,722.90 66.05,723.96 66.22,724.75 66.38,725.34 66.55,725.81 66.72,726.18 66.89,726.49 67.06,726.76 67.23,727.00 67.39,727.22 67.56,727.43 67.73,727.62 67.90,727.80 68.07,727.98 68.24,728.15 68.41,728.31 68.57,728.48 68.74,728.64 68.91,728.79 69.08,728.95 69.25,729.10 69.42,729.25 69.59,729.39 69.75,729.54 69.92,729.68 70.09,729.82 70.26,729.96 70.43,730.09 70.60,730.22 70.76,730.36 70.93,730.48 71.10,730.61 71.27,730.74 71.44,730.86 71.61,730.98 71.78,731.10 71.94,731.22 72.11,731.33 72.28,731.45 72.45,731.56 72.62,731.67 72.79,731.78 72.96,731.88 73.12,731.99 73.29,732.09 73.46,732.19 73.63,732.29 73.80,732.39 73.97,732.49 74.13,732.59 74.30,732.68 74.47,732.77 74.64,732.86 74.81,732.95 74.98,733.04 75.15,733.13 75.31,733.22 75.48,733.30 75.65,733.38 75.82,733.47 75.99,733.55 76.16,733.63 76.33,733.70 76.49,733.78 76.66,733.86 76.83,733.93 77.00,734.00 77.17,734.08 77.34,734.15 77.50,734.22 77.67,734.29 77.84,734.36 78.01,734.42 78.18,734.49 78.35,734.55 78.52,734.62 78.68,734.68 78.85,734.74 79.02,734.80 79.19,734.86 79.36,734.92 79.53,734.98 79.70,735.04 79.86,735.09 80.03,735.15 80.20,735.20 80.37,735.26 80.54,735.31 80.71,735.36 80.87,735.41 81.04,735.46 81.21,735.51 81.38,735.56 81.55,735.61 81.72,735.66 81.89,735.70 82.05,735.75 82.22,735.79 82.39,735.84 82.56,735.88 82.73,735.93 82.90,735.97 83.06,736.01 83.23,736.05 83.40,736.09 83.57,736.13 83.74,736.17 83.91,736.21 84.08,736.25 84.24,736.29 84.41,736.32 84.58,736.36 84.75,736.39 84.92,736.43 85.09,736.46 85.26,736.50 85.42,736.53 85.59,736.57 85.76,736.60 85.93,736.63 86.10,736.66 86.27,736.69 86.44,736.72 86.60,736.75 86.77,736.78 86.94,736.81 87.11,736.84 87.28,736.87 87.45,736.90 87.61,736.92 87.78,736.95 87.95,736.98 88.12,737.00 88.29,737.03 88.46,737.06 88.63,737.08 88.79,737.11 88.96,737.13 89.13,737.15 89.30,737.18 89.47,737.20 89.64,737.22 89.81,737.25 89.97,737.27 90.14,737.29 90.31,737.31 90.48,737.33 90.65,737.35 90.82,737.37 90.98,737.39 91.15,737.41 91.32,737.43 91.49,737.45 91.66,737.47 91.83,737.49 92.00,737.51 92.16,737.52 92.33,737.54 92.50,737.56 92.67,737.58 92.84,737.59 93.01,737.61 93.18,737.63 93.34,737.64 93.51,737.66 93.68,737.67 93.85,737.69 94.02,737.70 94.19,737.72 94.35,737.73 94.52,737.75 94.69,737.76 94.86,737.78 95.03,737.79 95.20,737.80 95.37,737.82 95.53,737.83 95.70,737.84 95.87,737.86 96.04,737.87 96.21,737.88 96.38,737.89 96.55,737.91 96.71,737.92 96.88,737.93 97.05,737.94 97.22,737.95 97.39,737.96 97.56,737.97 97.72,737.98 97.89,738.00 98.06,738.01 98.23,738.02 98.40,738.03 98.57,738.04 98.74,738.05 98.90,738.06 99.07,738.06 99.24,738.07 99.41,738.08 99.58,738.09 99.75,738.10 99.92,738.11 100.08,738.12 100.25,738.13 100.42,738.14 100.59,738.14 100.76,738.15 100.93,738.16 101.09,738.17 101.26,738.18 101.43,738.18 101.60,738.19 101.77,738.20 101.94,738.21 102.11,738.21 102.27,738.22 102.44,738.23 102.61,738.23 102.78,738.24 102.95,738.25 103.12,738.25 103.29,738.26 103.45,738.27 103.62,738.27 103.79,738.28 103.96,738.28 104.13,738.29 104.30,738.30 104.46,738.30 104.63,738.31 104.80,738.31 104.97,738.32 105.14,738.32 105.31,738.33 105.48,738.33 105.64,738.34 105.81,738.34 105.98,738.35 106.15,738.35 106.32,738.36 106.49,738.36 106.66,738.37 106.82,738.37 106.99,738.38 107.16,738.38 107.33,738.39 107.50,738.39 107.67,738.40 107.83,738.40 108.00,738.40 108.17,738.41 108.34,738.41 108.51,738.42 108.68,738.42 108.85,738.42 109.01,738.43 109.18,738.43 109.35,738.43 109.52,738.44 109.69,738.44 109.86,738.45 110.03,738.45 110.19,738.45 110.36,738.46 110.53,738.46 110.70,738.46 110.87,738.47 111.04,738.47 111.20,738.47 111.37,738.47 111.54,738.48 111.71,738.48 111.88,738.48 112.05,738.49 112.22,738.49 112.38,738.49 112.55,738.49 112.72,738.50 112.89,738.50 113.06,738.50 113.23,738.50 113.40,738.51 113.56,738.51 113.73,738.51 113.90,738.51 114.07,738.52 114.24,738.52 114.41,738.52 114.57,738.52 114.74,738.53 114.91,738.53 115.08,738.53 115.25,738.53 115.42,738.53 115.59,738.54 115.75,738.54 115.92,738.54 116.09,738.54 116.26,738.54 116.43,738.55 116.60,738.55 116.77,738.55 116.93,738.55 117.10,738.55 117.27,738.56 117.44,738.56 117.61,738.56 117.78,738.56 117.94,738.56 118.11,738.56 118.28,738.57 118.45,738.57 118.62,738.57 118.79,738.57 118.96,738.57 119.12,738.57 119.29,738.57 119.46,738.58 119.63,738.58 119.80,738.58 119.97,738.58 120.14,738.58 120.30,738.58 120.47,738.58 120.64,738.59 120.81,738.59 120.98,738.59 121.15,738.59 121.31,738.59 121.48,738.59 121.65,738.59 121.82,738.59 121.99,738.60 122.16,738.60 122.33,738.60 122.49,738.60 122.66,738.60 122.83,738.60 123.00,738.60 123.17,738.60 123.34,738.60 123.51,738.60 123.67,738.61 123.84,738.61 124.01,738.61 124.18,738.61 124.35,738.61 124.52,738.61 124.68,738.61 124.85,738.61 125.02,738.61 125.19,738.61 125.36,738.61 125.53,738.62 125.70,738.62 125.86,738.62 126.03,738.62 126.20,738.62 126.37,738.62 126.54,738.62 126.71,738.62 126.88,738.62 127.04,738.62 127.21,738.62 127.38,738.62 127.55,738.62 127.72,738.62 127.89,738.63 128.05,738.63 128.22,738.63 128.39,738.63 128.56,738.63 128.73,738.63 128.90,738.63 129.07,738.63 129.23,738.63 129.40,738.63 129.57,738.63 129.74,738.63 129.91,738.63 130.08,738.63 130.25,738.63 130.41,738.63 130.58,738.63 130.75,738.64 130.92,738.64 131.09,738.64 131.26,738.64 131.42,738.64 131.59,738.64 131.76,738.64 131.93,738.64" fill="none" stroke="#ef766b" stroke-width="1.1" stroke-linejoin="round" stroke-linecap="round"/>
<polyline points="34.20,746.30 34.37,731.57 34.54,720.00 34.71,710.89 34.87,703.70 35.04,698.00 35.21,693.48 35.38,689.87 35.55,686.98 35.72,684.65 35.89,682.76 36.05,681.21 36.22,679.94 36.39,678.88 36.56,677.99 36.73,677.24 36.90,676.59 37.06,676.03 37.23,675.54 37.40,675.10 37.57,674.71 37.74,674.36 37.91,674.04 38.08,673.74 38.24,673.47 38.41,673.22 38.58,672.98 38.75,672.76 38.92,672.54 39.09,672.34 39.26,672.16 39.42,671.98 39.59,671.80 39.76,671.64 39.93,671.48 40.10,671.33 40.27,671.19 40.43,671.05 40.60,670.92 40.77,670.80 40.94,670.67 41.11,670.56 41.28,670.45 41.45,670.34 41.61,670.24 41.78,670.14 41.95,670.04 42.12,669.95 42.29,669.86 42.46,669.78 42.62,669.70 42.79,669.62 42.96,669.55 43.13,669.48 43.30,669.41 43.47,669.34 43.64,669.28 43.80,669.22 43.97,669.16 44.14,669.10 44.31,669.05 44.48,669.00 44.65,668.95 44.82,668.90 44.98,668.85 45.15,668.81 45.32,668.77 45.49,668.73 45.66,668.69 45.83,668.65 46.00,668.61 46.16,668.58 46.33,668.54 46.50,668.51 46.67,668.48 46.84,668.45 47.01,668.42 47.17,668.40 47.34,668.37 47.51,668.34 47.68,668.32 47.85,668.30 48.02,668.27 48.19,668.25 48.35,668.23 48.52,668.21 48.69,668.19 48.86,668.17 49.03,668.16 49.20,668.14 49.37,668.12 49.53,668.11 49.70,668.09 49.87,668.08 50.04,668.06 50.21,668.05 50.38,668.04 50.54,668.03 50.71,668.01 50.88,668.00 51.05,667.99 51.22,667.98 51.39,667.97 51.56,667.96 51.72,667.95 51.89,667.94 52.06,667.94 52.23,667.93 52.40,667.92 52.57,667.91 52.73,667.90 52.90,667.90 53.07,667.89 53.24,667.88 53.41,667.88 53.58,667.87 53.75,667.87 53.91,667.86 54.08,667.86 54.25,667.85 54.42,667.85 54.59,667.84 54.76,667.84 54.93,667.83 55.09,667.83 55.26,667.82 55.43,667.82 55.60,667.82 55.77,667.81 55.94,667.81 56.11,667.81 56.27,667.80 56.44,667.80 56.61,667.80 56.78,667.79 56.95,667.79 57.12,667.79 57.28,667.79 57.45,667.78 57.62,667.78 57.79,667.78 57.96,667.78 58.13,667.77 58.30,667.77 58.46,667.77 58.63,667.77 58.80,667.77 58.97,667.77 59.14,667.76 59.31,667.76 59.48,667.76 59.64,667.76 59.81,667.76 59.98,667.76 60.15,667.76 60.32,667.75 60.49,667.75 60.65,667.75 60.82,667.75 60.99,667.75 61.16,667.75 61.33,667.75 61.50,667.75 61.67,667.75 61.83,667.75 62.00,667.74 62.17,667.74 62.34,667.74 62.51,667.74 62.68,667.74 62.85,667.74 63.01,667.74 63.18,667.74 63.35,667.74 63.52,667.74 63.69,667.74 63.86,667.74 64.02,667.74 64.19,667.74 64.36,667.74 64.53,667.74 64.70,689.00 64.87,703.52 65.04,713.44 65.20,720.23 65.37,724.89 65.54,728.09 65.71,730.31 65.88,731.86 66.05,732.95 66.22,733.73 66.38,734.29 66.55,734.70 66.72,735.02 66.89,735.27 67.06,735.47 67.23,735.64 67.39,735.79 67.56,735.92 67.73,736.04 67.90,736.16 68.07,736.26 68.24,736.37 68.41,736.47 68.57,736.56 68.74,736.66 68.91,736.75 69.08,736.84 69.25,736.93 69.42,737.02 69.59,737.11 69.75,737.20 69.92,737.28 70.09,737.37 70.26,737.45 70.43,737.53 70.60,737.61 70.76,737.69 70.93,737.77 71.10,737.85 71.27,737.93 71.44,738.00 71.61,738.08 71.78,738.15 71.94,738.23 72.11,738.30 72.28,738.37 72.45,738.44 72.62,738.51 72.79,738.58 72.96,738.65 73.12,738.71 73.29,738.78 73.46,738.85 73.63,738.91 73.80,738.98 73.97,739.04 74.13,739.10 74.30,739.16 74.47,739.22 74.64,739.28 74.81,739.34 74.98,739.40 75.15,739.46 75.31,739.52 75.48,739.57 75.65,739.63 75.82,739.68 75.99,739.74 76.16,739.79 76.33,739.84 76.49,739.90 76.66,739.95 76.83,740.00 77.00,740.05 77.17,740.10 77.34,740.15 77.50,740.20 77.67,740.24 77.84,740.29 78.01,740.34 78.18,740.38 78.35,740.43 78.52,740.48 78.68,740.52 78.85,740.56 79.02,740.61 79.19,740.65 79.36,740.69 79.53,740.73 79.70,740.78 79.86,740.82 80.03,740.86 80.20,740.90 80.37,740.94 80.54,740.97 80.71,741.01 80.87,741.05 81.04,741.09 81.21,741.12 81.38,741.16 81.55,741.20 81.72,741.23 81.89,741.27 82.05,741.30 82.22,741.34 82.39,741.37 82.56,741.40 82.73,741.44 82.90,741.47 83.06,741.50 83.23,741.53 83.40,741.56 83.57,741.59 83.74,741.63 83.91,741.66 84.08,741.69 84.24,741.71 84.41,741.74 84.58,741.77 84.75,741.80 84.92,741.83 85.09,741.86 85.26,741.88 85.42,741.91 85.59,741.94 85.76,741.96 85.93,741.99 86.10,742.02 86.27,742.04 86.44,742.07 86.60,742.09 86.77,742.11 86.94,742.14 87.11,742.16 87.28,742.19 87.45,742.21 87.61,742.23 87.78,742.26 87.95,742.28 88.12,742.30 88.29,742.32 88.46,742.34 88.63,742.36 88.79,742.39 88.96,742.41 89.13,742.43 89.30,742.45 89.47,742.47 89.64,742.49 89.81,742.51 89.97,742.52 90.14,742.54 90.31,742.56 90.48,742.58 90.65,742.60 90.82,742.62 90.98,742.64 91.15,742.65 91.32,742.67 91.49,742.69 91.66,742.70 91.83,742.72 92.00,742.74 92.16,742.75 92.33,742.77 92.50,742.79 92.67,742.80 92.84,742.82 93.01,742.83 93.18,742.85 93.34,742.86 93.51,742.88 93.68,742.89 93.85,742.91 94.02,742.92 94.19,742.94 94.35,742.95 94.52,742.96 94.69,742.98 94.86,742.99 95.03,743.00 95.20,743.02 95.37,743.03 95.53,743.04 95.70,743.05 95.87,743.07 96.04,743.08 96.21,743.09 96.38,743.10 96.55,743.12 96.71,743.13 96.88,743.14 97.05,743.15 97.22,743.16 97.39,743.17 97.56,743.18 97.72,743.19 97.89,743.20 98.06,743.22 98.23,743.23 98.40,743.24 98.57,743.25 98.74,743.26 98.90,743.27 99.07,743.28 99.24,743.29 99.41,743.30 99.58,743.30 99.75,743.31 99.92,743.32 100.08,743.33 100.25,743.34 100.42,743.35 100.59,743.36 100.76,743.37 100.93,743.38 101.09,743.38 101.26,743.39 101.43,743.40 101.60,743.41 101.77,743.42 101.94,743.43 102.11,743.43 102.27,743.44 102.44,743.45 102.61,743.46 102.78,743.46 102.95,743.47 103.12,743.48 103.29,743.49 103.45,743.49 103.62,743.50 103.79,743.51 103.96,743.51 104.13,743.52 104.30,743.53 104.46,743.53 104.63,743.54 104.80,743.55 104.97,743.55 105.14,743.56 105.31,743.56 105.48,743.57 105.64,743.58 105.81,743.58 105.98,743.59 106.15,743.59 106.32,743.60 106.49,743.61 106.66,743.61 106.82,743.62 106.99,743.62 107.16,743.63 107.33,743.63 107.50,743.64 107.67,743.64 107.83,743.65 108.00,743.65 108.17,743.66 108.34,743.66 108.51,743.67 108.68,743.67 108.85,743.68 109.01,743.68 109.18,743.69 109.35,743.69 109.52,743.70 109.69,743.70 109.86,743.70 110.03,743.71 110.19,743.71 110.36,743.72 110.53,743.72 110.70,743.73 110.87,743.73 111.04,743.73 111.20,743.74 111.37,743.74 111.54,743.75 111.71,743.75 111.88,743.75 112.05,743.76 112.22,743.76 112.38,743.76 112.55,743.77 112.72,743.77 112.89,743.78 113.06,743.78 113.23,743.78 113.40,743.79 113.56,743.79 113.73,743.79 113.90,743.80 114.07,743.80 114.24,743.80 114.41,743.81 114.57,743.81 114.74,743.81 114.91,743.81 115.08,743.82 115.25,743.82 115.42,743.82 115.59,743.83 115.75,743.83 115.92,743.83 116.09,743.83 116.26,743.84 116.43,743.84 116.60,743.84 116.77,743.85 116.93,743.85 117.10,743.85 117.27,743.85 117.44,743.86 117.61,743.86 117.78,743.86 117.94,743.86 118.11,743.87 118.28,743.87 118.45,743.87 118.62,743.87 118.79,743.87 118.96,743.88 119.12,743.88 119.29,743.88 119.46,743.88 119.63,743.89 119.80,743.89 119.97,743.89 120.14,743.89 120.30,743.89 120.47,743.90 120.64,743.90 120.81,743.90 120.98,743.90 121.15,743.90 121.31,743.91 121.48,743.91 121.65,743.91 121.82,743.91 121.99,743.91 122.16,743.91 122.33,743.92 122.49,743.92 122.66,743.92 122.83,743.92 123.00,743.92 123.17,743.92 123.34,743.93 123.51,743.93 123.67,743.93 123.84,743.93 124.01,743.93 124.18,743.93 124.35,743.94 124.52,743.94 124.68,743.94 124.85,743.94 125.02,743.94 125.19,743.94 125.36,743.94 125.53,743.95 125.70,743.95 125.86,743.95 126.03,743.95 126.20,743.95 126.37,743.95 126.54,743.95 126.71,743.95 126.88,743.96 127.04,743.96 127.21,743.96 127.38,743.96 127.55,743.96 127.72,743.96 127.89,743.96 128.05,743.96 128.22,743.97 128.39,743.97 128.56,743.97 128.73,743.97 128.90,743.97 129.07,743.97 129.23,743.97 129.40,743.97 129.57,743.97 129.74,743.97 129.91,743.98 130.08,743.98 130.25,743.98 130.41,743.98 130.58,743.98 130.75,743.98 130.92,743.98 131.09,743.98 131.26,743.98 131.42,743.98 131.59,743.99 131.76,743.99 131.93,743.99" fill="none" stroke="#ef766b" stroke-width="1.1" stroke-linejoin="round" stroke-linecap="round"/>
<line x1="206.00" y1="656.15" x2="206.00" y2="746.50" stroke="#231f20" stroke-width="1.1"/>
<line x1="205.50" y1="746.00" x2="341.50" y2="746.00" stroke="#231f20" stroke-width="1.1"/>
<line x1="201.80" y1="746.00" x2="206.00" y2="746.00" stroke="#231f20" stroke-width="1.1"/>
<text x="200.70" y="748.50" font-size="10.0" text-anchor="end" fill="#231f20" stroke="#231f20">0</text>
<line x1="201.80" y1="716.15" x2="206.00" y2="716.15" stroke="#231f20" stroke-width="1.1"/>
<text x="200.70" y="718.65" font-size="10.0" text-anchor="end" fill="#231f20" stroke="#231f20">50</text>
<line x1="201.80" y1="686.30" x2="206.00" y2="686.30" stroke="#231f20" stroke-width="1.1"/>
<text x="200.70" y="688.80" font-size="10.0" text-anchor="end" fill="#231f20" stroke="#231f20">100</text>
<line x1="201.80" y1="656.45" x2="206.00" y2="656.45" stroke="#231f20" stroke-width="1.1"/>
<text x="200.70" y="658.95" font-size="10.0" text-anchor="end" fill="#231f20" stroke="#231f20">150</text>
<line x1="205.90" y1="746.00" x2="205.90" y2="750.50" stroke="#231f20" stroke-width="1.1"/>
<text x="205.70" y="760.00" font-size="10.0" text-anchor="middle" fill="#231f20" stroke="#231f20">0</text>
<line x1="239.90" y1="746.00" x2="239.90" y2="750.50" stroke="#231f20" stroke-width="1.1"/>
<text x="237.50" y="760.00" font-size="10.0" text-anchor="middle" fill="#231f20" stroke="#231f20">100</text>
<line x1="273.40" y1="746.00" x2="273.40" y2="750.50" stroke="#231f20" stroke-width="1.1"/>
<text x="271.00" y="760.00" font-size="10.0" text-anchor="middle" fill="#231f20" stroke="#231f20">200</text>
<line x1="307.10" y1="746.00" x2="307.10" y2="750.50" stroke="#231f20" stroke-width="1.1"/>
<text x="305.00" y="760.00" font-size="10.0" text-anchor="middle" fill="#231f20" stroke="#231f20">300</text>
<line x1="341.00" y1="746.00" x2="341.00" y2="750.50" stroke="#231f20" stroke-width="1.1"/>
<text x="338.50" y="760.00" font-size="10.0" text-anchor="middle" fill="#231f20" stroke="#231f20">400</text>
<text x="274.30" y="772.30" font-size="9.8" text-anchor="middle" fill="#231f20" stroke="#231f20">Time (s)</text>
<text x="182.20" y="700.00" font-size="9.8" text-anchor="middle" fill="#231f20" stroke="#231f20" transform="rotate(-90 182.2 700.0)">Response (RU)</text>
<text x="271.00" y="639.00" font-size="9.8" text-anchor="middle" fill="#231f20" stroke="#231f20">SK4-Fc pH 6.0</text>
<text x="271.00" y="654.20" font-size="9.8" text-anchor="middle" fill="#231f20" stroke="#231f20">K<tspan font-size="5.4" dy="3.0">D</tspan><tspan dy="-3.0">=</tspan>4.12×10<tspan font-size="5.6" dy="-3.6">-8</tspan><tspan dy="3.6"> M</tspan></text>
<polyline points="206.00,746.00 206.17,745.28 206.34,744.61 206.51,743.97 206.67,743.37 206.84,742.81 207.01,742.27 207.18,741.77 207.35,741.30 207.52,740.85 207.69,740.42 207.85,740.02 208.02,739.64 208.19,739.29 208.36,738.95 208.53,738.62 208.70,738.32 208.86,738.03 209.03,737.75 209.20,737.49 209.37,737.24 209.54,737.00 209.71,736.78 209.88,736.56 210.04,736.36 210.21,736.16 210.38,735.97 210.55,735.80 210.72,735.63 210.89,735.46 211.06,735.31 211.22,735.16 211.39,735.01 211.56,734.88 211.73,734.75 211.90,734.62 212.07,734.50 212.23,734.38 212.40,734.27 212.57,734.16 212.74,734.06 212.91,733.96 213.08,733.87 213.25,733.77 213.41,733.68 213.58,733.60 213.75,733.52 213.92,733.44 214.09,733.36 214.26,733.28 214.43,733.21 214.59,733.14 214.76,733.07 214.93,733.01 215.10,732.95 215.27,732.89 215.44,732.83 215.60,732.77 215.77,732.71 215.94,732.66 216.11,732.61 216.28,732.56 216.45,732.51 216.62,732.46 216.78,732.41 216.95,732.37 217.12,732.33 217.29,732.28 217.46,732.24 217.63,732.20 217.79,732.17 217.96,732.13 218.13,732.09 218.30,732.06 218.47,732.02 218.64,731.99 218.81,731.96 218.97,731.92 219.14,731.89 219.31,731.86 219.48,731.83 219.65,731.80 219.82,731.78 219.99,731.75 220.15,731.72 220.32,731.70 220.49,731.67 220.66,731.65 220.83,731.63 221.00,731.60 221.16,731.58 221.33,731.56 221.50,731.54 221.67,731.52 221.84,731.50 222.01,731.48 222.18,731.46 222.34,731.44 222.51,731.42 222.68,731.40 222.85,731.39 223.02,731.37 223.19,731.35 223.36,731.34 223.52,731.32 223.69,731.31 223.86,731.29 224.03,731.28 224.20,731.26 224.37,731.25 224.53,731.24 224.70,731.22 224.87,731.21 225.04,731.20 225.21,731.19 225.38,731.18 225.55,731.16 225.71,731.15 225.88,731.14 226.05,731.13 226.22,731.12 226.39,731.11 226.56,731.10 226.73,731.09 226.89,731.08 227.06,731.07 227.23,731.07 227.40,731.06 227.57,731.05 227.74,731.04 227.91,731.03 228.07,731.02 228.24,731.02 228.41,731.01 228.58,731.00 228.75,730.99 228.92,730.99 229.08,730.98 229.25,730.97 229.42,730.97 229.59,730.96 229.76,730.96 229.93,730.95 230.10,730.94 230.26,730.94 230.43,730.93 230.60,730.93 230.77,730.92 230.94,730.92 231.11,730.91 231.28,730.91 231.44,730.90 231.61,730.90 231.78,730.89 231.95,730.89 232.12,730.89 232.29,730.88 232.45,730.88 232.62,730.87 232.79,730.87 232.96,730.87 233.13,730.86 233.30,730.86 233.47,730.85 233.63,730.85 233.80,730.85 233.97,730.84 234.14,730.84 234.31,730.84 234.48,730.84 234.65,730.83 234.81,730.83 234.98,730.83 235.15,730.82 235.32,730.82 235.49,730.82 235.66,730.82 235.82,730.81 235.99,730.81 236.16,730.81 236.33,730.81 236.50,731.27 236.67,731.72 236.84,732.16 237.00,732.58 237.17,732.99 237.34,733.38 237.51,733.77 237.68,734.14 237.85,734.50 238.01,734.85 238.18,735.19 238.35,735.52 238.52,735.84 238.69,736.15 238.86,736.45 239.03,736.74 239.19,737.02 239.36,737.29 239.53,737.56 239.70,737.81 239.87,738.06 240.04,738.30 240.21,738.53 240.37,738.76 240.54,738.98 240.71,739.19 240.88,739.40 241.05,739.60 241.22,739.79 241.38,739.98 241.55,740.16 241.72,740.34 241.89,740.51 242.06,740.67 242.23,740.83 242.40,740.99 242.56,741.14 242.73,741.28 242.90,741.42 243.07,741.56 243.24,741.69 243.41,741.82 243.58,741.95 243.74,742.07 243.91,742.19 244.08,742.30 244.25,742.41 244.42,742.52 244.59,742.62 244.75,742.72 244.92,742.82 245.09,742.91 245.26,743.00 245.43,743.09 245.60,743.18 245.77,743.26 245.93,743.34 246.10,743.42 246.27,743.50 246.44,743.57 246.61,743.64 246.78,743.71 246.95,743.78 247.11,743.84 247.28,743.90 247.45,743.96 247.62,744.02 247.79,744.08 247.96,744.14 248.12,744.19 248.29,744.24 248.46,744.29 248.63,744.34 248.80,744.39 248.97,744.43 249.14,744.48 249.30,744.52 249.47,744.56 249.64,744.60 249.81,744.64 249.98,744.68 250.15,744.72 250.32,744.75 250.48,744.79 250.65,744.82 250.82,744.85 250.99,744.89 251.16,744.92 251.33,744.95 251.50,744.98 251.66,745.00 251.83,745.03 252.00,745.06 252.17,745.08 252.34,745.11 252.51,745.13 252.67,745.15 252.84,745.18 253.01,745.20 253.18,745.22 253.35,745.24 253.52,745.26 253.69,745.28 253.85,745.30 254.02,745.31 254.19,745.33 254.36,745.35 254.53,745.36 254.70,745.38 254.87,745.40 255.03,745.41 255.20,745.43 255.37,745.44 255.54,745.45 255.71,745.47 255.88,745.48 256.04,745.49 256.21,745.50 256.38,745.51 256.55,745.53 256.72,745.54 256.89,745.55 257.06,745.56 257.22,745.57 257.39,745.58 257.56,745.59 257.73,745.60 257.90,745.60 258.07,745.61 258.24,745.62 258.40,745.63 258.57,745.64 258.74,745.64 258.91,745.65 259.08,745.66 259.25,745.67 259.41,745.67 259.58,745.68 259.75,745.68 259.92,745.69 260.09,745.70 260.26,745.70 260.43,745.71 260.59,745.71 260.76,745.72 260.93,745.72 261.10,745.73 261.27,745.73 261.44,745.74 261.61,745.74 261.77,745.75 261.94,745.75 262.11,745.75 262.28,745.76 262.45,745.76 262.62,745.77 262.78,745.77 262.95,745.77 263.12,745.78 263.29,745.78 263.46,745.78 263.63,745.79 263.80,745.79 263.96,745.79 264.13,745.79 264.30,745.80 264.47,745.80 264.64,745.80 264.81,745.80 264.98,745.81 265.14,745.81 265.31,745.81 265.48,745.81 265.65,745.82 265.82,745.82 265.99,745.82 266.15,745.82 266.32,745.82 266.49,745.82 266.66,745.83 266.83,745.83 267.00,745.83 267.17,745.83 267.33,745.83 267.50,745.83 267.67,745.84 267.84,745.84 268.01,745.84 268.18,745.84 268.35,745.84 268.51,745.84 268.68,745.84 268.85,745.84 269.02,745.85 269.19,745.85 269.36,745.85 269.52,745.85 269.69,745.85 269.86,745.85 270.03,745.85 270.20,745.85 270.37,745.85 270.54,745.85 270.70,745.85 270.87,745.86 271.04,745.86 271.21,745.86 271.38,745.86 271.55,745.86 271.72,745.86 271.88,745.86 272.05,745.86 272.22,745.86 272.39,745.86 272.56,745.86 272.73,745.86 272.89,745.86 273.06,745.86 273.23,745.86 273.40,745.87 273.57,745.87 273.74,745.87 273.91,745.87 274.07,745.87 274.24,745.87 274.41,745.87 274.58,745.87 274.75,745.87 274.92,745.87 275.09,745.87 275.25,745.87 275.42,745.87 275.59,745.87 275.76,745.87 275.93,745.87 276.10,745.87 276.26,745.87 276.43,745.87 276.60,745.87 276.77,745.87 276.94,745.87 277.11,745.87 277.28,745.87 277.44,745.87 277.61,745.87 277.78,745.87 277.95,745.87 278.12,745.87 278.29,745.87 278.45,745.87 278.62,745.87 278.79,745.87 278.96,745.88 279.13,745.88 279.30,745.88 279.47,745.88 279.63,745.88 279.80,745.88 279.97,745.88 280.14,745.88 280.31,745.88 280.48,745.88 280.65,745.88 280.81,745.88 280.98,745.88 281.15,745.88 281.32,745.88 281.49,745.88 281.66,745.88 281.82,745.88 281.99,745.88 282.16,745.88 282.33,745.88 282.50,745.88 282.67,745.88 282.84,745.88 283.00,745.88 283.17,745.88 283.34,745.88 283.51,745.88 283.68,745.88 283.85,745.88 284.02,745.88 284.18,745.88 284.35,745.88 284.52,745.88 284.69,745.88 284.86,745.88 285.03,745.88 285.19,745.88 285.36,745.88 285.53,745.88 285.70,745.88 285.87,745.88 286.04,745.88 286.21,745.88 286.37,745.88 286.54,745.88 286.71,745.88 286.88,745.88 287.05,745.88 287.22,745.88 287.39,745.88 287.55,745.88 287.72,745.88 287.89,745.88 288.06,745.88 288.23,745.88 288.40,745.88 288.56,745.88 288.73,745.88 288.90,745.88 289.07,745.88 289.24,745.88 289.41,745.88 289.58,745.88 289.74,745.88 289.91,745.88 290.08,745.88 290.25,745.88 290.42,745.88 290.59,745.88 290.76,745.88 290.92,745.88 291.09,745.88 291.26,745.88 291.43,745.88 291.60,745.88 291.77,745.88 291.94,745.88 292.10,745.88 292.27,745.88 292.44,745.88 292.61,745.88 292.78,745.88 292.95,745.88 293.11,745.88 293.28,745.88 293.45,745.88 293.62,745.88 293.79,745.88 293.96,745.88 294.13,745.88 294.29,745.88 294.46,745.88 294.63,745.88 294.80,745.88 294.97,745.88 295.14,745.88 295.31,745.88 295.47,745.88 295.64,745.88 295.81,745.88 295.98,745.88 296.15,745.88 296.32,745.88 296.48,745.88 296.65,745.88 296.82,745.88 296.99,745.88 297.16,745.88 297.33,745.88 297.50,745.88 297.66,745.88 297.83,745.88 298.00,745.88 298.17,745.88 298.34,745.88 298.51,745.88 298.68,745.88 298.84,745.88 299.01,745.88 299.18,745.88 299.35,745.88 299.52,745.88 299.69,745.88 299.85,745.88 300.02,745.88 300.19,745.88 300.36,745.88 300.53,745.88 300.70,745.88 300.87,745.88 301.03,745.88 301.20,745.88 301.37,745.88 301.54,745.88 301.71,745.88 301.88,745.88 302.05,745.88 302.21,745.88 302.38,745.88 302.55,745.88 302.72,745.88 302.89,745.88 303.06,745.88 303.22,745.88 303.39,745.88 303.56,745.88 303.73,745.88" fill="none" stroke="#b674c4" stroke-width="1.1" stroke-linejoin="round" stroke-linecap="round"/>
<polyline points="206.00,746.00 206.17,743.51 206.34,741.34 206.51,739.46 206.67,737.82 206.84,736.38 207.01,735.14 207.18,734.04 207.35,733.08 207.52,732.24 207.69,731.50 207.85,730.84 208.02,730.26 208.19,729.75 208.36,729.29 208.53,728.88 208.70,728.51 208.86,728.18 209.03,727.88 209.20,727.61 209.37,727.36 209.54,727.13 209.71,726.93 209.88,726.73 210.04,726.55 210.21,726.39 210.38,726.23 210.55,726.09 210.72,725.95 210.89,725.82 211.06,725.70 211.22,725.58 211.39,725.47 211.56,725.36 211.73,725.26 211.90,725.16 212.07,725.07 212.23,724.98 212.40,724.89 212.57,724.81 212.74,724.72 212.91,724.64 213.08,724.56 213.25,724.49 213.41,724.42 213.58,724.34 213.75,724.27 213.92,724.21 214.09,724.14 214.26,724.07 214.43,724.01 214.59,723.95 214.76,723.89 214.93,723.83 215.10,723.77 215.27,723.71 215.44,723.66 215.60,723.60 215.77,723.55 215.94,723.50 216.11,723.45 216.28,723.40 216.45,723.35 216.62,723.30 216.78,723.25 216.95,723.20 217.12,723.16 217.29,723.12 217.46,723.07 217.63,723.03 217.79,722.99 217.96,722.95 218.13,722.91 218.30,722.87 218.47,722.83 218.64,722.79 218.81,722.75 218.97,722.72 219.14,722.68 219.31,722.65 219.48,722.61 219.65,722.58 219.82,722.55 219.99,722.52 220.15,722.48 220.32,722.45 220.49,722.42 220.66,722.39 220.83,722.36 221.00,722.34 221.16,722.31 221.33,722.28 221.50,722.25 221.67,722.23 221.84,722.20 222.01,722.18 222.18,722.15 222.34,722.13 222.51,722.10 222.68,722.08 222.85,722.06 223.02,722.03 223.19,722.01 223.36,721.99 223.52,721.97 223.69,721.95 223.86,721.93 224.03,721.91 224.20,721.89 224.37,721.87 224.53,721.85 224.70,721.83 224.87,721.82 225.04,721.80 225.21,721.78 225.38,721.76 225.55,721.75 225.71,721.73 225.88,721.72 226.05,721.70 226.22,721.68 226.39,721.67 226.56,721.65 226.73,721.64 226.89,721.63 227.06,721.61 227.23,721.60 227.40,721.59 227.57,721.57 227.74,721.56 227.91,721.55 228.07,721.53 228.24,721.52 228.41,721.51 228.58,721.50 228.75,721.49 228.92,721.48 229.08,721.47 229.25,721.45 229.42,721.44 229.59,721.43 229.76,721.42 229.93,721.41 230.10,721.40 230.26,721.40 230.43,721.39 230.60,721.38 230.77,721.37 230.94,721.36 231.11,721.35 231.28,721.34 231.44,721.33 231.61,721.33 231.78,721.32 231.95,721.31 232.12,721.30 232.29,721.30 232.45,721.29 232.62,721.28 232.79,721.27 232.96,721.27 233.13,721.26 233.30,721.25 233.47,721.25 233.63,721.24 233.80,721.23 233.97,721.23 234.14,721.22 234.31,721.22 234.48,721.21 234.65,721.20 234.81,721.20 234.98,721.19 235.15,721.19 235.32,721.18 235.49,721.18 235.66,721.17 235.82,721.17 235.99,721.16 236.16,721.16 236.33,721.15 236.50,721.98 236.67,722.78 236.84,723.56 237.00,724.30 237.17,725.02 237.34,725.72 237.51,726.39 237.68,727.03 237.85,727.66 238.01,728.26 238.18,728.84 238.35,729.40 238.52,729.94 238.69,730.46 238.86,730.96 239.03,731.45 239.19,731.92 239.36,732.37 239.53,732.81 239.70,733.23 239.87,733.63 240.04,734.03 240.21,734.40 240.37,734.77 240.54,735.12 240.71,735.46 240.88,735.79 241.05,736.11 241.22,736.41 241.38,736.70 241.55,736.99 241.72,737.26 241.89,737.53 242.06,737.78 242.23,738.03 242.40,738.27 242.56,738.50 242.73,738.72 242.90,738.93 243.07,739.14 243.24,739.34 243.41,739.53 243.58,739.71 243.74,739.89 243.91,740.06 244.08,740.23 244.25,740.39 244.42,740.55 244.59,740.70 244.75,740.84 244.92,740.98 245.09,741.11 245.26,741.24 245.43,741.37 245.60,741.49 245.77,741.61 245.93,741.72 246.10,741.83 246.27,741.93 246.44,742.03 246.61,742.13 246.78,742.22 246.95,742.31 247.11,742.40 247.28,742.48 247.45,742.57 247.62,742.64 247.79,742.72 247.96,742.79 248.12,742.86 248.29,742.93 248.46,743.00 248.63,743.06 248.80,743.12 248.97,743.18 249.14,743.24 249.30,743.29 249.47,743.35 249.64,743.40 249.81,743.45 249.98,743.50 250.15,743.54 250.32,743.59 250.48,743.63 250.65,743.67 250.82,743.71 250.99,743.75 251.16,743.79 251.33,743.82 251.50,743.86 251.66,743.89 251.83,743.92 252.00,743.95 252.17,743.98 252.34,744.01 252.51,744.04 252.67,744.07 252.84,744.09 253.01,744.12 253.18,744.14 253.35,744.16 253.52,744.19 253.69,744.21 253.85,744.23 254.02,744.25 254.19,744.27 254.36,744.29 254.53,744.31 254.70,744.32 254.87,744.34 255.03,744.36 255.20,744.37 255.37,744.39 255.54,744.40 255.71,744.42 255.88,744.43 256.04,744.44 256.21,744.46 256.38,744.47 256.55,744.48 256.72,744.49 256.89,744.50 257.06,744.51 257.22,744.52 257.39,744.53 257.56,744.54 257.73,744.55 257.90,744.56 258.07,744.57 258.24,744.58 258.40,744.59 258.57,744.59 258.74,744.60 258.91,744.61 259.08,744.62 259.25,744.62 259.41,744.63 259.58,744.63 259.75,744.64 259.92,744.65 260.09,744.65 260.26,744.66 260.43,744.66 260.59,744.67 260.76,744.67 260.93,744.68 261.10,744.68 261.27,744.69 261.44,744.69 261.61,744.69 261.77,744.70 261.94,744.70 262.11,744.71 262.28,744.71 262.45,744.71 262.62,744.72 262.78,744.72 262.95,744.72 263.12,744.73 263.29,744.73 263.46,744.73 263.63,744.73 263.80,744.74 263.96,744.74 264.13,744.74 264.30,744.74 264.47,744.75 264.64,744.75 264.81,744.75 264.98,744.75 265.14,744.75 265.31,744.76 265.48,744.76 265.65,744.76 265.82,744.76 265.99,744.76 266.15,744.76 266.32,744.76 266.49,744.77 266.66,744.77 266.83,744.77 267.00,744.77 267.17,744.77 267.33,744.77 267.50,744.77 267.67,744.78 267.84,744.78 268.01,744.78 268.18,744.78 268.35,744.78 268.51,744.78 268.68,744.78 268.85,744.78 269.02,744.78 269.19,744.78 269.36,744.78 269.52,744.79 269.69,744.79 269.86,744.79 270.03,744.79 270.20,744.79 270.37,744.79 270.54,744.79 270.70,744.79 270.87,744.79 271.04,744.79 271.21,744.79 271.38,744.79 271.55,744.79 271.72,744.79 271.88,744.79 272.05,744.79 272.22,744.79 272.39,744.79 272.56,744.80 272.73,744.80 272.89,744.80 273.06,744.80 273.23,744.80 273.40,744.80 273.57,744.80 273.74,744.80 273.91,744.80 274.07,744.80 274.24,744.80 274.41,744.80 274.58,744.80 274.75,744.80 274.92,744.80 275.09,744.80 275.25,744.80 275.42,744.80 275.59,744.80 275.76,744.80 275.93,744.80 276.10,744.80 276.26,744.80 276.43,744.80 276.60,744.80 276.77,744.80 276.94,744.80 277.11,744.80 277.28,744.80 277.44,744.80 277.61,744.80 277.78,744.80 277.95,744.80 278.12,744.80 278.29,744.80 278.45,744.80 278.62,744.80 278.79,744.80 278.96,744.80 279.13,744.80 279.30,744.80 279.47,744.80 279.63,744.80 279.80,744.80 279.97,744.80 280.14,744.80 280.31,744.80 280.48,744.80 280.65,744.80 280.81,744.80 280.98,744.80 281.15,744.80 281.32,744.80 281.49,744.80 281.66,744.80 281.82,744.80 281.99,744.80 282.16,744.80 282.33,744.80 282.50,744.80 282.67,744.80 282.84,744.80 283.00,744.80 283.17,744.80 283.34,744.80 283.51,744.80 283.68,744.80 283.85,744.81 284.02,744.81 284.18,744.81 284.35,744.81 284.52,744.81 284.69,744.81 284.86,744.81 285.03,744.81 285.19,744.81 285.36,744.81 285.53,744.81 285.70,744.81 285.87,744.81 286.04,744.81 286.21,744.81 286.37,744.81 286.54,744.81 286.71,744.81 286.88,744.81 287.05,744.81 287.22,744.81 287.39,744.81 287.55,744.81 287.72,744.81 287.89,744.81 288.06,744.81 288.23,744.81 288.40,744.81 288.56,744.81 288.73,744.81 288.90,744.81 289.07,744.81 289.24,744.81 289.41,744.81 289.58,744.81 289.74,744.81 289.91,744.81 290.08,744.81 290.25,744.81 290.42,744.81 290.59,744.81 290.76,744.81 290.92,744.81 291.09,744.81 291.26,744.81 291.43,744.81 291.60,744.81 291.77,744.81 291.94,744.81 292.10,744.81 292.27,744.81 292.44,744.81 292.61,744.81 292.78,744.81 292.95,744.81 293.11,744.81 293.28,744.81 293.45,744.81 293.62,744.81 293.79,744.81 293.96,744.81 294.13,744.81 294.29,744.81 294.46,744.81 294.63,744.81 294.80,744.81 294.97,744.81 295.14,744.81 295.31,744.81 295.47,744.81 295.64,744.81 295.81,744.81 295.98,744.81 296.15,744.81 296.32,744.81 296.48,744.81 296.65,744.81 296.82,744.81 296.99,744.81 297.16,744.81 297.33,744.81 297.50,744.81 297.66,744.81 297.83,744.81 298.00,744.81 298.17,744.81 298.34,744.81 298.51,744.81 298.68,744.81 298.84,744.81 299.01,744.81 299.18,744.81 299.35,744.81 299.52,744.81 299.69,744.81 299.85,744.81 300.02,744.81 300.19,744.81 300.36,744.81 300.53,744.81 300.70,744.81 300.87,744.81 301.03,744.81 301.20,744.81 301.37,744.81 301.54,744.81 301.71,744.81 301.88,744.81 302.05,744.81 302.21,744.81 302.38,744.81 302.55,744.81 302.72,744.81 302.89,744.81 303.06,744.81 303.22,744.81 303.39,744.81 303.56,744.81 303.73,744.81" fill="none" stroke="#66a6dc" stroke-width="1.1" stroke-linejoin="round" stroke-linecap="round"/>
<polyline points="206.00,746.00 206.17,742.30 206.34,739.07 206.51,736.26 206.67,733.81 206.84,731.66 207.01,729.79 207.18,728.14 207.35,726.69 207.52,725.41 207.69,724.28 207.85,723.28 208.02,722.38 208.19,721.59 208.36,720.88 208.53,720.23 208.70,719.66 208.86,719.13 209.03,718.66 209.20,718.22 209.37,717.82 209.54,717.45 209.71,717.11 209.88,716.80 210.04,716.50 210.21,716.23 210.38,715.97 210.55,715.72 210.72,715.49 210.89,715.27 211.06,715.06 211.22,714.86 211.39,714.67 211.56,714.49 211.73,714.31 211.90,714.14 212.07,713.97 212.23,713.81 212.40,713.66 212.57,713.51 212.74,713.36 212.91,713.22 213.08,713.09 213.25,712.95 213.41,712.82 213.58,712.69 213.75,712.57 213.92,712.45 214.09,712.33 214.26,712.22 214.43,712.10 214.59,711.99 214.76,711.88 214.93,711.78 215.10,711.67 215.27,711.57 215.44,711.47 215.60,711.38 215.77,711.28 215.94,711.19 216.11,711.10 216.28,711.01 216.45,710.92 216.62,710.83 216.78,710.75 216.95,710.67 217.12,710.59 217.29,710.51 217.46,710.43 217.63,710.35 217.79,710.28 217.96,710.21 218.13,710.13 218.30,710.06 218.47,710.00 218.64,709.93 218.81,709.86 218.97,709.80 219.14,709.73 219.31,709.67 219.48,709.61 219.65,709.55 219.82,709.49 219.99,709.44 220.15,709.38 220.32,709.32 220.49,709.27 220.66,709.22 220.83,709.17 221.00,709.11 221.16,709.07 221.33,709.02 221.50,708.97 221.67,708.92 221.84,708.88 222.01,708.83 222.18,708.79 222.34,708.74 222.51,708.70 222.68,708.66 222.85,708.62 223.02,708.58 223.19,708.54 223.36,708.50 223.52,708.46 223.69,708.43 223.86,708.39 224.03,708.35 224.20,708.32 224.37,708.29 224.53,708.25 224.70,708.22 224.87,708.19 225.04,708.16 225.21,708.12 225.38,708.09 225.55,708.06 225.71,708.04 225.88,708.01 226.05,707.98 226.22,707.95 226.39,707.93 226.56,707.90 226.73,707.87 226.89,707.85 227.06,707.82 227.23,707.80 227.40,707.78 227.57,707.75 227.74,707.73 227.91,707.71 228.07,707.68 228.24,707.66 228.41,707.64 228.58,707.62 228.75,707.60 228.92,707.58 229.08,707.56 229.25,707.54 229.42,707.52 229.59,707.51 229.76,707.49 229.93,707.47 230.10,707.45 230.26,707.44 230.43,707.42 230.60,707.40 230.77,707.39 230.94,707.37 231.11,707.36 231.28,707.34 231.44,707.33 231.61,707.31 231.78,707.30 231.95,707.28 232.12,707.27 232.29,707.26 232.45,707.24 232.62,707.23 232.79,707.22 232.96,707.21 233.13,707.19 233.30,707.18 233.47,707.17 233.63,707.16 233.80,707.15 233.97,707.14 234.14,707.13 234.31,707.12 234.48,707.11 234.65,707.10 234.81,707.09 234.98,707.08 235.15,707.07 235.32,707.06 235.49,707.05 235.66,707.04 235.82,707.03 235.99,707.02 236.16,707.01 236.33,707.01 236.50,708.29 236.67,709.53 236.84,710.73 237.00,711.88 237.17,712.99 237.34,714.07 237.51,715.10 237.68,716.10 237.85,717.07 238.01,718.00 238.18,718.90 238.35,719.77 238.52,720.60 238.69,721.41 238.86,722.19 239.03,722.94 239.19,723.67 239.36,724.36 239.53,725.04 239.70,725.69 239.87,726.32 240.04,726.93 240.21,727.51 240.37,728.08 240.54,728.62 240.71,729.15 240.88,729.66 241.05,730.15 241.22,730.62 241.38,731.07 241.55,731.51 241.72,731.94 241.89,732.35 242.06,732.74 242.23,733.12 242.40,733.49 242.56,733.85 242.73,734.19 242.90,734.52 243.07,734.84 243.24,735.15 243.41,735.44 243.58,735.73 243.74,736.01 243.91,736.27 244.08,736.53 244.25,736.78 244.42,737.02 244.59,737.25 244.75,737.47 244.92,737.69 245.09,737.90 245.26,738.10 245.43,738.29 245.60,738.48 245.77,738.66 245.93,738.83 246.10,739.00 246.27,739.16 246.44,739.32 246.61,739.47 246.78,739.61 246.95,739.75 247.11,739.89 247.28,740.02 247.45,740.15 247.62,740.27 247.79,740.38 247.96,740.50 248.12,740.61 248.29,740.71 248.46,740.81 248.63,740.91 248.80,741.01 248.97,741.10 249.14,741.19 249.30,741.27 249.47,741.35 249.64,741.43 249.81,741.51 249.98,741.58 250.15,741.65 250.32,741.72 250.48,741.79 250.65,741.85 250.82,741.92 250.99,741.97 251.16,742.03 251.33,742.09 251.50,742.14 251.66,742.19 251.83,742.24 252.00,742.29 252.17,742.34 252.34,742.38 252.51,742.42 252.67,742.47 252.84,742.51 253.01,742.55 253.18,742.58 253.35,742.62 253.52,742.65 253.69,742.69 253.85,742.72 254.02,742.75 254.19,742.78 254.36,742.81 254.53,742.84 254.70,742.87 254.87,742.89 255.03,742.92 255.20,742.94 255.37,742.97 255.54,742.99 255.71,743.01 255.88,743.03 256.04,743.05 256.21,743.07 256.38,743.09 256.55,743.11 256.72,743.13 256.89,743.14 257.06,743.16 257.22,743.18 257.39,743.19 257.56,743.21 257.73,743.22 257.90,743.23 258.07,743.25 258.24,743.26 258.40,743.27 258.57,743.28 258.74,743.30 258.91,743.31 259.08,743.32 259.25,743.33 259.41,743.34 259.58,743.35 259.75,743.36 259.92,743.37 260.09,743.37 260.26,743.38 260.43,743.39 260.59,743.40 260.76,743.41 260.93,743.41 261.10,743.42 261.27,743.43 261.44,743.43 261.61,743.44 261.77,743.45 261.94,743.45 262.11,743.46 262.28,743.46 262.45,743.47 262.62,743.47 262.78,743.48 262.95,743.48 263.12,743.49 263.29,743.49 263.46,743.50 263.63,743.50 263.80,743.50 263.96,743.51 264.13,743.51 264.30,743.51 264.47,743.52 264.64,743.52 264.81,743.52 264.98,743.53 265.14,743.53 265.31,743.53 265.48,743.54 265.65,743.54 265.82,743.54 265.99,743.54 266.15,743.55 266.32,743.55 266.49,743.55 266.66,743.55 266.83,743.55 267.00,743.56 267.17,743.56 267.33,743.56 267.50,743.56 267.67,743.56 267.84,743.57 268.01,743.57 268.18,743.57 268.35,743.57 268.51,743.57 268.68,743.57 268.85,743.57 269.02,743.58 269.19,743.58 269.36,743.58 269.52,743.58 269.69,743.58 269.86,743.58 270.03,743.58 270.20,743.58 270.37,743.59 270.54,743.59 270.70,743.59 270.87,743.59 271.04,743.59 271.21,743.59 271.38,743.59 271.55,743.59 271.72,743.59 271.88,743.59 272.05,743.59 272.22,743.59 272.39,743.59 272.56,743.60 272.73,743.60 272.89,743.60 273.06,743.60 273.23,743.60 273.40,743.60 273.57,743.60 273.74,743.60 273.91,743.60 274.07,743.60 274.24,743.60 274.41,743.60 274.58,743.60 274.75,743.60 274.92,743.60 275.09,743.60 275.25,743.60 275.42,743.60 275.59,743.60 275.76,743.60 275.93,743.60 276.10,743.60 276.26,743.60 276.43,743.60 276.60,743.60 276.77,743.61 276.94,743.61 277.11,743.61 277.28,743.61 277.44,743.61 277.61,743.61 277.78,743.61 277.95,743.61 278.12,743.61 278.29,743.61 278.45,743.61 278.62,743.61 278.79,743.61 278.96,743.61 279.13,743.61 279.30,743.61 279.47,743.61 279.63,743.61 279.80,743.61 279.97,743.61 280.14,743.61 280.31,743.61 280.48,743.61 280.65,743.61 280.81,743.61 280.98,743.61 281.15,743.61 281.32,743.61 281.49,743.61 281.66,743.61 281.82,743.61 281.99,743.61 282.16,743.61 282.33,743.61 282.50,743.61 282.67,743.61 282.84,743.61 283.00,743.61 283.17,743.61 283.34,743.61 283.51,743.61 283.68,743.61 283.85,743.61 284.02,743.61 284.18,743.61 284.35,743.61 284.52,743.61 284.69,743.61 284.86,743.61 285.03,743.61 285.19,743.61 285.36,743.61 285.53,743.61 285.70,743.61 285.87,743.61 286.04,743.61 286.21,743.61 286.37,743.61 286.54,743.61 286.71,743.61 286.88,743.61 287.05,743.61 287.22,743.61 287.39,743.61 287.55,743.61 287.72,743.61 287.89,743.61 288.06,743.61 288.23,743.61 288.40,743.61 288.56,743.61 288.73,743.61 288.90,743.61 289.07,743.61 289.24,743.61 289.41,743.61 289.58,743.61 289.74,743.61 289.91,743.61 290.08,743.61 290.25,743.61 290.42,743.61 290.59,743.61 290.76,743.61 290.92,743.61 291.09,743.61 291.26,743.61 291.43,743.61 291.60,743.61 291.77,743.61 291.94,743.61 292.10,743.61 292.27,743.61 292.44,743.61 292.61,743.61 292.78,743.61 292.95,743.61 293.11,743.61 293.28,743.61 293.45,743.61 293.62,743.61 293.79,743.61 293.96,743.61 294.13,743.61 294.29,743.61 294.46,743.61 294.63,743.61 294.80,743.61 294.97,743.61 295.14,743.61 295.31,743.61 295.47,743.61 295.64,743.61 295.81,743.61 295.98,743.61 296.15,743.61 296.32,743.61 296.48,743.61 296.65,743.61 296.82,743.61 296.99,743.61 297.16,743.61 297.33,743.61 297.50,743.61 297.66,743.61 297.83,743.61 298.00,743.61 298.17,743.61 298.34,743.61 298.51,743.61 298.68,743.61 298.84,743.61 299.01,743.61 299.18,743.61 299.35,743.61 299.52,743.61 299.69,743.61 299.85,743.61 300.02,743.61 300.19,743.61 300.36,743.61 300.53,743.61 300.70,743.61 300.87,743.61 301.03,743.61 301.20,743.61 301.37,743.61 301.54,743.61 301.71,743.61 301.88,743.61 302.05,743.61 302.21,743.61 302.38,743.61 302.55,743.61 302.72,743.61 302.89,743.61 303.06,743.61 303.22,743.61 303.39,743.61 303.56,743.61 303.73,743.61" fill="none" stroke="#7ccfbe" stroke-width="1.1" stroke-linejoin="round" stroke-linecap="round"/>
<polyline points="206.00,746.00 206.17,739.54 206.34,733.95 206.51,729.11 206.67,724.93 206.84,721.30 207.01,718.15 207.18,715.41 207.35,713.03 207.52,710.96 207.69,709.16 207.85,707.58 208.02,706.21 208.19,705.00 208.36,703.94 208.53,703.00 208.70,702.18 208.86,701.45 209.03,700.80 209.20,700.23 209.37,699.71 209.54,699.25 209.71,698.84 209.88,698.46 210.04,698.12 210.21,697.81 210.38,697.53 210.55,697.27 210.72,697.03 210.89,696.81 211.06,696.60 211.22,696.41 211.39,696.23 211.56,696.06 211.73,695.90 211.90,695.75 212.07,695.61 212.23,695.47 212.40,695.34 212.57,695.21 212.74,695.09 212.91,694.97 213.08,694.86 213.25,694.75 213.41,694.65 213.58,694.55 213.75,694.45 213.92,694.35 214.09,694.26 214.26,694.17 214.43,694.08 214.59,693.99 214.76,693.91 214.93,693.83 215.10,693.75 215.27,693.67 215.44,693.59 215.60,693.52 215.77,693.45 215.94,693.37 216.11,693.30 216.28,693.24 216.45,693.17 216.62,693.10 216.78,693.04 216.95,692.98 217.12,692.91 217.29,692.85 217.46,692.79 217.63,692.74 217.79,692.68 217.96,692.62 218.13,692.57 218.30,692.52 218.47,692.46 218.64,692.41 218.81,692.36 218.97,692.31 219.14,692.27 219.31,692.22 219.48,692.17 219.65,692.13 219.82,692.08 219.99,692.04 220.15,692.00 220.32,691.95 220.49,691.91 220.66,691.87 220.83,691.83 221.00,691.79 221.16,691.76 221.33,691.72 221.50,691.68 221.67,691.65 221.84,691.61 222.01,691.58 222.18,691.54 222.34,691.51 222.51,691.48 222.68,691.45 222.85,691.42 223.02,691.39 223.19,691.36 223.36,691.33 223.52,691.30 223.69,691.27 223.86,691.24 224.03,691.22 224.20,691.19 224.37,691.16 224.53,691.14 224.70,691.11 224.87,691.09 225.04,691.07 225.21,691.04 225.38,691.02 225.55,691.00 225.71,690.97 225.88,690.95 226.05,690.93 226.22,690.91 226.39,690.89 226.56,690.87 226.73,690.85 226.89,690.83 227.06,690.81 227.23,690.79 227.40,690.78 227.57,690.76 227.74,690.74 227.91,690.72 228.07,690.71 228.24,690.69 228.41,690.68 228.58,690.66 228.75,690.64 228.92,690.63 229.08,690.61 229.25,690.60 229.42,690.59 229.59,690.57 229.76,690.56 229.93,690.54 230.10,690.53 230.26,690.52 230.43,690.51 230.60,690.49 230.77,690.48 230.94,690.47 231.11,690.46 231.28,690.45 231.44,690.44 231.61,690.42 231.78,690.41 231.95,690.40 232.12,690.39 232.29,690.38 232.45,690.37 232.62,690.36 232.79,690.35 232.96,690.34 233.13,690.34 233.30,690.33 233.47,690.32 233.63,690.31 233.80,690.30 233.97,690.29 234.14,690.28 234.31,690.28 234.48,690.27 234.65,690.26 234.81,690.25 234.98,690.25 235.15,690.24 235.32,690.23 235.49,690.22 235.66,690.22 235.82,690.21 235.99,690.20 236.16,690.20 236.33,690.19 236.50,691.99 236.67,693.73 236.84,695.41 237.00,697.03 237.17,698.59 237.34,700.10 237.51,701.56 237.68,702.97 237.85,704.34 238.01,705.65 238.18,706.92 238.35,708.15 238.52,709.34 238.69,710.48 238.86,711.59 239.03,712.66 239.19,713.69 239.36,714.69 239.53,715.65 239.70,716.58 239.87,717.48 240.04,718.34 240.21,719.18 240.37,719.99 240.54,720.77 240.71,721.53 240.88,722.26 241.05,722.96 241.22,723.64 241.38,724.30 241.55,724.93 241.72,725.55 241.89,726.14 242.06,726.71 242.23,727.26 242.40,727.80 242.56,728.31 242.73,728.81 242.90,729.29 243.07,729.75 243.24,730.20 243.41,730.64 243.58,731.05 243.74,731.46 243.91,731.85 244.08,732.23 244.25,732.59 244.42,732.94 244.59,733.28 244.75,733.61 244.92,733.93 245.09,734.23 245.26,734.53 245.43,734.81 245.60,735.09 245.77,735.36 245.93,735.61 246.10,735.86 246.27,736.10 246.44,736.33 246.61,736.56 246.78,736.77 246.95,736.98 247.11,737.18 247.28,737.38 247.45,737.57 247.62,737.75 247.79,737.92 247.96,738.09 248.12,738.26 248.29,738.42 248.46,738.57 248.63,738.72 248.80,738.86 248.97,739.00 249.14,739.13 249.30,739.26 249.47,739.38 249.64,739.50 249.81,739.62 249.98,739.73 250.15,739.84 250.32,739.94 250.48,740.04 250.65,740.14 250.82,740.23 250.99,740.33 251.16,740.41 251.33,740.50 251.50,740.58 251.66,740.66 251.83,740.74 252.00,740.81 252.17,740.88 252.34,740.95 252.51,741.02 252.67,741.08 252.84,741.14 253.01,741.20 253.18,741.26 253.35,741.32 253.52,741.37 253.69,741.42 253.85,741.47 254.02,741.52 254.19,741.57 254.36,741.61 254.53,741.66 254.70,741.70 254.87,741.74 255.03,741.78 255.20,741.82 255.37,741.85 255.54,741.89 255.71,741.92 255.88,741.96 256.04,741.99 256.21,742.02 256.38,742.05 256.55,742.08 256.72,742.11 256.89,742.13 257.06,742.16 257.22,742.18 257.39,742.21 257.56,742.23 257.73,742.25 257.90,742.28 258.07,742.30 258.24,742.32 258.40,742.34 258.57,742.36 258.74,742.38 258.91,742.39 259.08,742.41 259.25,742.43 259.41,742.44 259.58,742.46 259.75,742.47 259.92,742.49 260.09,742.50 260.26,742.51 260.43,742.53 260.59,742.54 260.76,742.55 260.93,742.56 261.10,742.58 261.27,742.59 261.44,742.60 261.61,742.61 261.77,742.62 261.94,742.63 262.11,742.64 262.28,742.64 262.45,742.65 262.62,742.66 262.78,742.67 262.95,742.68 263.12,742.68 263.29,742.69 263.46,742.70 263.63,742.71 263.80,742.71 263.96,742.72 264.13,742.72 264.30,742.73 264.47,742.74 264.64,742.74 264.81,742.75 264.98,742.75 265.14,742.76 265.31,742.76 265.48,742.77 265.65,742.77 265.82,742.77 265.99,742.78 266.15,742.78 266.32,742.79 266.49,742.79 266.66,742.79 266.83,742.80 267.00,742.80 267.17,742.80 267.33,742.81 267.50,742.81 267.67,742.81 267.84,742.82 268.01,742.82 268.18,742.82 268.35,742.82 268.51,742.83 268.68,742.83 268.85,742.83 269.02,742.83 269.19,742.84 269.36,742.84 269.52,742.84 269.69,742.84 269.86,742.84 270.03,742.84 270.20,742.85 270.37,742.85 270.54,742.85 270.70,742.85 270.87,742.85 271.04,742.85 271.21,742.86 271.38,742.86 271.55,742.86 271.72,742.86 271.88,742.86 272.05,742.86 272.22,742.86 272.39,742.86 272.56,742.87 272.73,742.87 272.89,742.87 273.06,742.87 273.23,742.87 273.40,742.87 273.57,742.87 273.74,742.87 273.91,742.87 274.07,742.87 274.24,742.87 274.41,742.88 274.58,742.88 274.75,742.88 274.92,742.88 275.09,742.88 275.25,742.88 275.42,742.88 275.59,742.88 275.76,742.88 275.93,742.88 276.10,742.88 276.26,742.88 276.43,742.88 276.60,742.88 276.77,742.88 276.94,742.88 277.11,742.88 277.28,742.88 277.44,742.88 277.61,742.88 277.78,742.89 277.95,742.89 278.12,742.89 278.29,742.89 278.45,742.89 278.62,742.89 278.79,742.89 278.96,742.89 279.13,742.89 279.30,742.89 279.47,742.89 279.63,742.89 279.80,742.89 279.97,742.89 280.14,742.89 280.31,742.89 280.48,742.89 280.65,742.89 280.81,742.89 280.98,742.89 281.15,742.89 281.32,742.89 281.49,742.89 281.66,742.89 281.82,742.89 281.99,742.89 282.16,742.89 282.33,742.89 282.50,742.89 282.67,742.89 282.84,742.89 283.00,742.89 283.17,742.89 283.34,742.89 283.51,742.89 283.68,742.89 283.85,742.89 284.02,742.89 284.18,742.89 284.35,742.89 284.52,742.89 284.69,742.89 284.86,742.89 285.03,742.89 285.19,742.89 285.36,742.89 285.53,742.89 285.70,742.89 285.87,742.89 286.04,742.89 286.21,742.89 286.37,742.89 286.54,742.89 286.71,742.89 286.88,742.89 287.05,742.89 287.22,742.89 287.39,742.89 287.55,742.89 287.72,742.89 287.89,742.89 288.06,742.89 288.23,742.89 288.40,742.89 288.56,742.89 288.73,742.89 288.90,742.89 289.07,742.89 289.24,742.89 289.41,742.89 289.58,742.89 289.74,742.89 289.91,742.89 290.08,742.89 290.25,742.89 290.42,742.89 290.59,742.89 290.76,742.89 290.92,742.89 291.09,742.89 291.26,742.89 291.43,742.89 291.60,742.90 291.77,742.90 291.94,742.90 292.10,742.90 292.27,742.90 292.44,742.90 292.61,742.90 292.78,742.90 292.95,742.90 293.11,742.90 293.28,742.90 293.45,742.90 293.62,742.90 293.79,742.90 293.96,742.90 294.13,742.90 294.29,742.90 294.46,742.90 294.63,742.90 294.80,742.90 294.97,742.90 295.14,742.90 295.31,742.90 295.47,742.90 295.64,742.90 295.81,742.90 295.98,742.90 296.15,742.90 296.32,742.90 296.48,742.90 296.65,742.90 296.82,742.90 296.99,742.90 297.16,742.90 297.33,742.90 297.50,742.90 297.66,742.90 297.83,742.90 298.00,742.90 298.17,742.90 298.34,742.90 298.51,742.90 298.68,742.90 298.84,742.90 299.01,742.90 299.18,742.90 299.35,742.90 299.52,742.90 299.69,742.90 299.85,742.90 300.02,742.90 300.19,742.90 300.36,742.90 300.53,742.90 300.70,742.90 300.87,742.90 301.03,742.90 301.20,742.90 301.37,742.90 301.54,742.90 301.71,742.90 301.88,742.90 302.05,742.90 302.21,742.90 302.38,742.90 302.55,742.90 302.72,742.90 302.89,742.90 303.06,742.90 303.22,742.90 303.39,742.90 303.56,742.90 303.73,742.90" fill="none" stroke="#f7aa5e" stroke-width="1.1" stroke-linejoin="round" stroke-linecap="round"/>
<polyline points="206.00,746.00 206.17,735.02 206.34,725.76 206.51,717.96 206.67,711.38 206.84,705.82 207.01,701.12 207.18,697.14 207.35,693.77 207.52,690.91 207.69,688.48 207.85,686.41 208.02,684.65 208.19,683.14 208.36,681.84 208.53,680.73 208.70,679.77 208.86,678.94 209.03,678.21 209.20,677.58 209.37,677.02 209.54,676.53 209.71,676.10 209.88,675.71 210.04,675.36 210.21,675.04 210.38,674.76 210.55,674.50 210.72,674.26 210.89,674.04 211.06,673.83 211.22,673.64 211.39,673.46 211.56,673.29 211.73,673.12 211.90,672.97 212.07,672.82 212.23,672.68 212.40,672.55 212.57,672.42 212.74,672.29 212.91,672.17 213.08,672.05 213.25,671.94 213.41,671.83 213.58,671.72 213.75,671.62 213.92,671.51 214.09,671.41 214.26,671.32 214.43,671.22 214.59,671.13 214.76,671.04 214.93,670.95 215.10,670.86 215.27,670.78 215.44,670.69 215.60,670.61 215.77,670.53 215.94,670.45 216.11,670.38 216.28,670.30 216.45,670.23 216.62,670.16 216.78,670.09 216.95,670.02 217.12,669.95 217.29,669.88 217.46,669.82 217.63,669.75 217.79,669.69 217.96,669.63 218.13,669.57 218.30,669.51 218.47,669.45 218.64,669.40 218.81,669.34 218.97,669.29 219.14,669.23 219.31,669.18 219.48,669.13 219.65,669.08 219.82,669.03 219.99,668.98 220.15,668.94 220.32,668.89 220.49,668.84 220.66,668.80 220.83,668.76 221.00,668.71 221.16,668.67 221.33,668.63 221.50,668.59 221.67,668.55 221.84,668.51 222.01,668.47 222.18,668.44 222.34,668.40 222.51,668.36 222.68,668.33 222.85,668.30 223.02,668.26 223.19,668.23 223.36,668.20 223.52,668.17 223.69,668.13 223.86,668.10 224.03,668.07 224.20,668.04 224.37,668.02 224.53,667.99 224.70,667.96 224.87,667.93 225.04,667.91 225.21,667.88 225.38,667.86 225.55,667.83 225.71,667.81 225.88,667.78 226.05,667.76 226.22,667.74 226.39,667.71 226.56,667.69 226.73,667.67 226.89,667.65 227.06,667.63 227.23,667.61 227.40,667.59 227.57,667.57 227.74,667.55 227.91,667.53 228.07,667.51 228.24,667.49 228.41,667.48 228.58,667.46 228.75,667.44 228.92,667.42 229.08,667.41 229.25,667.39 229.42,667.38 229.59,667.36 229.76,667.35 229.93,667.33 230.10,667.32 230.26,667.30 230.43,667.29 230.60,667.28 230.77,667.26 230.94,667.25 231.11,667.24 231.28,667.22 231.44,667.21 231.61,667.20 231.78,667.19 231.95,667.18 232.12,667.16 232.29,667.15 232.45,667.14 232.62,667.13 232.79,667.12 232.96,667.11 233.13,667.10 233.30,667.09 233.47,667.08 233.63,667.07 233.80,667.06 233.97,667.05 234.14,667.04 234.31,667.03 234.48,667.03 234.65,667.02 234.81,667.01 234.98,667.00 235.15,666.99 235.32,666.99 235.49,666.98 235.66,666.97 235.82,666.96 235.99,666.96 236.16,666.95 236.33,666.94 236.50,670.03 236.67,672.98 236.84,675.80 237.00,678.50 237.17,681.09 237.34,683.55 237.51,685.92 237.68,688.17 237.85,690.33 238.01,692.40 238.18,694.38 238.35,696.26 238.52,698.07 238.69,699.80 238.86,701.45 239.03,703.03 239.19,704.54 239.36,705.99 239.53,707.37 239.70,708.69 239.87,709.96 240.04,711.16 240.21,712.32 240.37,713.43 240.54,714.48 240.71,715.49 240.88,716.46 241.05,717.39 241.22,718.27 241.38,719.12 241.55,719.93 241.72,720.70 241.89,721.44 242.06,722.15 242.23,722.82 242.40,723.47 242.56,724.09 242.73,724.68 242.90,725.25 243.07,725.79 243.24,726.30 243.41,726.80 243.58,727.27 243.74,727.73 243.91,728.16 244.08,728.57 244.25,728.97 244.42,729.35 244.59,729.71 244.75,730.06 244.92,730.39 245.09,730.70 245.26,731.01 245.43,731.30 245.60,731.57 245.77,731.84 245.93,732.09 246.10,732.33 246.27,732.57 246.44,732.79 246.61,733.00 246.78,733.20 246.95,733.40 247.11,733.58 247.28,733.76 247.45,733.93 247.62,734.09 247.79,734.25 247.96,734.39 248.12,734.54 248.29,734.67 248.46,734.80 248.63,734.93 248.80,735.04 248.97,735.16 249.14,735.27 249.30,735.37 249.47,735.47 249.64,735.56 249.81,735.65 249.98,735.74 250.15,735.82 250.32,735.90 250.48,735.98 250.65,736.05 250.82,736.12 250.99,736.19 251.16,736.25 251.33,736.31 251.50,736.37 251.66,736.43 251.83,736.48 252.00,736.53 252.17,736.58 252.34,736.62 252.51,736.67 252.67,736.71 252.84,736.75 253.01,736.79 253.18,736.83 253.35,736.86 253.52,736.90 253.69,736.93 253.85,736.96 254.02,736.99 254.19,737.02 254.36,737.05 254.53,737.07 254.70,737.10 254.87,737.12 255.03,737.14 255.20,737.17 255.37,737.19 255.54,737.21 255.71,737.23 255.88,737.24 256.04,737.26 256.21,737.28 256.38,737.29 256.55,737.31 256.72,737.32 256.89,737.34 257.06,737.35 257.22,737.36 257.39,737.38 257.56,737.39 257.73,737.40 257.90,737.41 258.07,737.42 258.24,737.43 258.40,737.44 258.57,737.45 258.74,737.46 258.91,737.46 259.08,737.47 259.25,737.48 259.41,737.49 259.58,737.49 259.75,737.50 259.92,737.51 260.09,737.51 260.26,737.52 260.43,737.52 260.59,737.53 260.76,737.53 260.93,737.54 261.10,737.54 261.27,737.55 261.44,737.55 261.61,737.55 261.77,737.56 261.94,737.56 262.11,737.57 262.28,737.57 262.45,737.57 262.62,737.58 262.78,737.58 262.95,737.58 263.12,737.58 263.29,737.59 263.46,737.59 263.63,737.59 263.80,737.59 263.96,737.60 264.13,737.60 264.30,737.60 264.47,737.60 264.64,737.60 264.81,737.60 264.98,737.61 265.14,737.61 265.31,737.61 265.48,737.61 265.65,737.61 265.82,737.61 265.99,737.61 266.15,737.62 266.32,737.62 266.49,737.62 266.66,737.62 266.83,737.62 267.00,737.62 267.17,737.62 267.33,737.62 267.50,737.62 267.67,737.62 267.84,737.63 268.01,737.63 268.18,737.63 268.35,737.63 268.51,737.63 268.68,737.63 268.85,737.63 269.02,737.63 269.19,737.63 269.36,737.63 269.52,737.63 269.69,737.63 269.86,737.63 270.03,737.63 270.20,737.63 270.37,737.63 270.54,737.63 270.70,737.63 270.87,737.63 271.04,737.63 271.21,737.64 271.38,737.64 271.55,737.64 271.72,737.64 271.88,737.64 272.05,737.64 272.22,737.64 272.39,737.64 272.56,737.64 272.73,737.64 272.89,737.64 273.06,737.64 273.23,737.64 273.40,737.64 273.57,737.64 273.74,737.64 273.91,737.64 274.07,737.64 274.24,737.64 274.41,737.64 274.58,737.64 274.75,737.64 274.92,737.64 275.09,737.64 275.25,737.64 275.42,737.64 275.59,737.64 275.76,737.64 275.93,737.64 276.10,737.64 276.26,737.64 276.43,737.64 276.60,737.64 276.77,737.64 276.94,737.64 277.11,737.64 277.28,737.64 277.44,737.64 277.61,737.64 277.78,737.64 277.95,737.64 278.12,737.64 278.29,737.64 278.45,737.64 278.62,737.64 278.79,737.64 278.96,737.64 279.13,737.64 279.30,737.64 279.47,737.64 279.63,737.64 279.80,737.64 279.97,737.64 280.14,737.64 280.31,737.64 280.48,737.64 280.65,737.64 280.81,737.64 280.98,737.64 281.15,737.64 281.32,737.64 281.49,737.64 281.66,737.64 281.82,737.64 281.99,737.64 282.16,737.64 282.33,737.64 282.50,737.64 282.67,737.64 282.84,737.64 283.00,737.64 283.17,737.64 283.34,737.64 283.51,737.64 283.68,737.64 283.85,737.64 284.02,737.64 284.18,737.64 284.35,737.64 284.52,737.64 284.69,737.64 284.86,737.64 285.03,737.64 285.19,737.64 285.36,737.64 285.53,737.64 285.70,737.64 285.87,737.64 286.04,737.64 286.21,737.64 286.37,737.64 286.54,737.64 286.71,737.64 286.88,737.64 287.05,737.64 287.22,737.64 287.39,737.64 287.55,737.64 287.72,737.64 287.89,737.64 288.06,737.64 288.23,737.64 288.40,737.64 288.56,737.64 288.73,737.64 288.90,737.64 289.07,737.64 289.24,737.64 289.41,737.64 289.58,737.64 289.74,737.64 289.91,737.64 290.08,737.64 290.25,737.64 290.42,737.64 290.59,737.64 290.76,737.64 290.92,737.64 291.09,737.64 291.26,737.64 291.43,737.64 291.60,737.64 291.77,737.64 291.94,737.64 292.10,737.64 292.27,737.64 292.44,737.64 292.61,737.64 292.78,737.64 292.95,737.64 293.11,737.64 293.28,737.64 293.45,737.64 293.62,737.64 293.79,737.64 293.96,737.64 294.13,737.64 294.29,737.64 294.46,737.64 294.63,737.64 294.80,737.64 294.97,737.64 295.14,737.64 295.31,737.64 295.47,737.64 295.64,737.64 295.81,737.64 295.98,737.64 296.15,737.64 296.32,737.64 296.48,737.64 296.65,737.64 296.82,737.64 296.99,737.64 297.16,737.64 297.33,737.64 297.50,737.64 297.66,737.64 297.83,737.64 298.00,737.64 298.17,737.64 298.34,737.64 298.51,737.64 298.68,737.64 298.84,737.64 299.01,737.64 299.18,737.64 299.35,737.64 299.52,737.64 299.69,737.64 299.85,737.64 300.02,737.64 300.19,737.64 300.36,737.64 300.53,737.64 300.70,737.64 300.87,737.64 301.03,737.64 301.20,737.64 301.37,737.64 301.54,737.64 301.71,737.64 301.88,737.64 302.05,737.64 302.21,737.64 302.38,737.64 302.55,737.64 302.72,737.64 302.89,737.64 303.06,737.64 303.22,737.64 303.39,737.64 303.56,737.64 303.73,737.64" fill="none" stroke="#ef766b" stroke-width="1.1" stroke-linejoin="round" stroke-linecap="round"/>
<polyline points="206.00,746.00 206.17,735.23 206.34,726.16 206.51,718.52 206.67,712.07 206.84,706.63 207.01,702.03 207.18,698.14 207.35,694.85 207.52,692.06 207.69,689.69 207.85,687.67 208.02,685.95 208.19,684.48 208.36,683.23 208.53,682.15 208.70,681.22 208.86,680.41 209.03,679.71 209.20,679.11 209.37,678.57 209.54,678.10 209.71,677.69 209.88,677.32 210.04,676.99 210.21,676.69 210.38,676.42 210.55,676.18 210.72,675.96 210.89,675.75 211.06,675.56 211.22,675.38 211.39,675.21 211.56,675.05 211.73,674.90 211.90,674.76 212.07,674.63 212.23,674.50 212.40,674.38 212.57,674.26 212.74,674.14 212.91,674.03 213.08,673.93 213.25,673.82 213.41,673.72 213.58,673.62 213.75,673.53 213.92,673.44 214.09,673.34 214.26,673.26 214.43,673.17 214.59,673.09 214.76,673.00 214.93,672.92 215.10,672.84 215.27,672.77 215.44,672.69 215.60,672.62 215.77,672.55 215.94,672.47 216.11,672.41 216.28,672.34 216.45,672.27 216.62,672.21 216.78,672.14 216.95,672.08 217.12,672.02 217.29,671.96 217.46,671.90 217.63,671.84 217.79,671.78 217.96,671.73 218.13,671.67 218.30,671.62 218.47,671.57 218.64,671.52 218.81,671.47 218.97,671.42 219.14,671.37 219.31,671.32 219.48,671.28 219.65,671.23 219.82,671.19 219.99,671.14 220.15,671.10 220.32,671.06 220.49,671.02 220.66,670.98 220.83,670.94 221.00,670.90 221.16,670.86 221.33,670.82 221.50,670.79 221.67,670.75 221.84,670.72 222.01,670.68 222.18,670.65 222.34,670.62 222.51,670.58 222.68,670.55 222.85,670.52 223.02,670.49 223.19,670.46 223.36,670.43 223.52,670.40 223.69,670.38 223.86,670.35 224.03,670.32 224.20,670.30 224.37,670.27 224.53,670.24 224.70,670.22 224.87,670.19 225.04,670.17 225.21,670.15 225.38,670.12 225.55,670.10 225.71,670.08 225.88,670.06 226.05,670.04 226.22,670.02 226.39,670.00 226.56,669.98 226.73,669.96 226.89,669.94 227.06,669.92 227.23,669.90 227.40,669.88 227.57,669.86 227.74,669.85 227.91,669.83 228.07,669.81 228.24,669.80 228.41,669.78 228.58,669.76 228.75,669.75 228.92,669.73 229.08,669.72 229.25,669.70 229.42,669.69 229.59,669.68 229.76,669.66 229.93,669.65 230.10,669.64 230.26,669.62 230.43,669.61 230.60,669.60 230.77,669.59 230.94,669.57 231.11,669.56 231.28,669.55 231.44,669.54 231.61,669.53 231.78,669.52 231.95,669.51 232.12,669.50 232.29,669.49 232.45,669.48 232.62,669.47 232.79,669.46 232.96,669.45 233.13,669.44 233.30,669.43 233.47,669.42 233.63,669.41 233.80,669.41 233.97,669.40 234.14,669.39 234.31,669.38 234.48,669.37 234.65,669.37 234.81,669.36 234.98,669.35 235.15,669.34 235.32,669.34 235.49,669.33 235.66,669.32 235.82,669.32 235.99,669.31 236.16,669.30 236.33,669.30 236.50,671.91 236.67,674.44 236.84,676.88 237.00,679.23 237.17,681.50 237.34,683.69 237.51,685.80 237.68,687.84 237.85,689.81 238.01,691.71 238.18,693.54 238.35,695.30 238.52,697.01 238.69,698.66 238.86,700.24 239.03,701.77 239.19,703.25 239.36,704.68 239.53,706.06 239.70,707.38 239.87,708.67 240.04,709.90 240.21,711.10 240.37,712.25 240.54,713.36 240.71,714.43 240.88,715.46 241.05,716.46 241.22,717.42 241.38,718.35 241.55,719.25 241.72,720.12 241.89,720.95 242.06,721.76 242.23,722.53 242.40,723.28 242.56,724.01 242.73,724.71 242.90,725.38 243.07,726.03 243.24,726.66 243.41,727.26 243.58,727.85 243.74,728.41 243.91,728.95 244.08,729.48 244.25,729.98 244.42,730.47 244.59,730.94 244.75,731.40 244.92,731.84 245.09,732.26 245.26,732.67 245.43,733.06 245.60,733.45 245.77,733.81 245.93,734.17 246.10,734.51 246.27,734.84 246.44,735.16 246.61,735.46 246.78,735.76 246.95,736.05 247.11,736.32 247.28,736.59 247.45,736.85 247.62,737.09 247.79,737.33 247.96,737.56 248.12,737.79 248.29,738.00 248.46,738.21 248.63,738.41 248.80,738.60 248.97,738.79 249.14,738.97 249.30,739.14 249.47,739.31 249.64,739.47 249.81,739.63 249.98,739.78 250.15,739.92 250.32,740.06 250.48,740.20 250.65,740.33 250.82,740.45 250.99,740.57 251.16,740.69 251.33,740.80 251.50,740.91 251.66,741.02 251.83,741.12 252.00,741.22 252.17,741.31 252.34,741.40 252.51,741.49 252.67,741.58 252.84,741.66 253.01,741.74 253.18,741.81 253.35,741.89 253.52,741.96 253.69,742.03 253.85,742.09 254.02,742.16 254.19,742.22 254.36,742.28 254.53,742.33 254.70,742.39 254.87,742.44 255.03,742.49 255.20,742.54 255.37,742.59 255.54,742.64 255.71,742.68 255.88,742.73 256.04,742.77 256.21,742.81 256.38,742.85 256.55,742.88 256.72,742.92 256.89,742.95 257.06,742.99 257.22,743.02 257.39,743.05 257.56,743.08 257.73,743.11 257.90,743.14 258.07,743.17 258.24,743.19 258.40,743.22 258.57,743.24 258.74,743.26 258.91,743.29 259.08,743.31 259.25,743.33 259.41,743.35 259.58,743.37 259.75,743.39 259.92,743.41 260.09,743.43 260.26,743.44 260.43,743.46 260.59,743.47 260.76,743.49 260.93,743.50 261.10,743.52 261.27,743.53 261.44,743.55 261.61,743.56 261.77,743.57 261.94,743.58 262.11,743.59 262.28,743.61 262.45,743.62 262.62,743.63 262.78,743.64 262.95,743.65 263.12,743.66 263.29,743.66 263.46,743.67 263.63,743.68 263.80,743.69 263.96,743.70 264.13,743.70 264.30,743.71 264.47,743.72 264.64,743.73 264.81,743.73 264.98,743.74 265.14,743.74 265.31,743.75 265.48,743.76 265.65,743.76 265.82,743.77 265.99,743.77 266.15,743.78 266.32,743.78 266.49,743.79 266.66,743.79 266.83,743.79 267.00,743.80 267.17,743.80 267.33,743.81 267.50,743.81 267.67,743.81 267.84,743.82 268.01,743.82 268.18,743.82 268.35,743.83 268.51,743.83 268.68,743.83 268.85,743.83 269.02,743.84 269.19,743.84 269.36,743.84 269.52,743.84 269.69,743.85 269.86,743.85 270.03,743.85 270.20,743.85 270.37,743.86 270.54,743.86 270.70,743.86 270.87,743.86 271.04,743.86 271.21,743.86 271.38,743.87 271.55,743.87 271.72,743.87 271.88,743.87 272.05,743.87 272.22,743.87 272.39,743.87 272.56,743.88 272.73,743.88 272.89,743.88 273.06,743.88 273.23,743.88 273.40,743.88 273.57,743.88 273.74,743.88 273.91,743.88 274.07,743.89 274.24,743.89 274.41,743.89 274.58,743.89 274.75,743.89 274.92,743.89 275.09,743.89 275.25,743.89 275.42,743.89 275.59,743.89 275.76,743.89 275.93,743.89 276.10,743.89 276.26,743.89 276.43,743.90 276.60,743.90 276.77,743.90 276.94,743.90 277.11,743.90 277.28,743.90 277.44,743.90 277.61,743.90 277.78,743.90 277.95,743.90 278.12,743.90 278.29,743.90 278.45,743.90 278.62,743.90 278.79,743.90 278.96,743.90 279.13,743.90 279.30,743.90 279.47,743.90 279.63,743.90 279.80,743.90 279.97,743.90 280.14,743.90 280.31,743.90 280.48,743.90 280.65,743.90 280.81,743.90 280.98,743.90 281.15,743.90 281.32,743.91 281.49,743.91 281.66,743.91 281.82,743.91 281.99,743.91 282.16,743.91 282.33,743.91 282.50,743.91 282.67,743.91 282.84,743.91 283.00,743.91 283.17,743.91 283.34,743.91 283.51,743.91 283.68,743.91 283.85,743.91 284.02,743.91 284.18,743.91 284.35,743.91 284.52,743.91 284.69,743.91 284.86,743.91 285.03,743.91 285.19,743.91 285.36,743.91 285.53,743.91 285.70,743.91 285.87,743.91 286.04,743.91 286.21,743.91 286.37,743.91 286.54,743.91 286.71,743.91 286.88,743.91 287.05,743.91 287.22,743.91 287.39,743.91 287.55,743.91 287.72,743.91 287.89,743.91 288.06,743.91 288.23,743.91 288.40,743.91 288.56,743.91 288.73,743.91 288.90,743.91 289.07,743.91 289.24,743.91 289.41,743.91 289.58,743.91 289.74,743.91 289.91,743.91 290.08,743.91 290.25,743.91 290.42,743.91 290.59,743.91 290.76,743.91 290.92,743.91 291.09,743.91 291.26,743.91 291.43,743.91 291.60,743.91 291.77,743.91 291.94,743.91 292.10,743.91 292.27,743.91 292.44,743.91 292.61,743.91 292.78,743.91 292.95,743.91 293.11,743.91 293.28,743.91 293.45,743.91 293.62,743.91 293.79,743.91 293.96,743.91 294.13,743.91 294.29,743.91 294.46,743.91 294.63,743.91 294.80,743.91 294.97,743.91 295.14,743.91 295.31,743.91 295.47,743.91 295.64,743.91 295.81,743.91 295.98,743.91 296.15,743.91 296.32,743.91 296.48,743.91 296.65,743.91 296.82,743.91 296.99,743.91 297.16,743.91 297.33,743.91 297.50,743.91 297.66,743.91 297.83,743.91 298.00,743.91 298.17,743.91 298.34,743.91 298.51,743.91 298.68,743.91 298.84,743.91 299.01,743.91 299.18,743.91 299.35,743.91 299.52,743.91 299.69,743.91 299.85,743.91 300.02,743.91 300.19,743.91 300.36,743.91 300.53,743.91 300.70,743.91 300.87,743.91 301.03,743.91 301.20,743.91 301.37,743.91 301.54,743.91 301.71,743.91 301.88,743.91 302.05,743.91 302.21,743.91 302.38,743.91 302.55,743.91 302.72,743.91 302.89,743.91 303.06,743.91 303.22,743.91 303.39,743.91 303.56,743.91 303.73,743.91" fill="none" stroke="#ef766b" stroke-width="1.1" stroke-linejoin="round" stroke-linecap="round"/>
<line x1="289.80" y1="665.50" x2="299.00" y2="665.50" stroke="#b674c4" stroke-width="1.3"/>
<text x="303.40" y="668.40" font-size="9.7" text-anchor="start" fill="#231f20" stroke="#231f20">9.77 nM</text>
<line x1="289.80" y1="676.60" x2="299.00" y2="676.60" stroke="#66a6dc" stroke-width="1.3"/>
<text x="303.40" y="679.50" font-size="9.7" text-anchor="start" fill="#231f20" stroke="#231f20">19.53 nM</text>
<line x1="289.80" y1="687.80" x2="299.00" y2="687.80" stroke="#7ccfbe" stroke-width="1.3"/>
<text x="303.40" y="690.70" font-size="9.7" text-anchor="start" fill="#231f20" stroke="#231f20">39.06 nM</text>
<line x1="289.80" y1="699.10" x2="299.00" y2="699.10" stroke="#f7aa5e" stroke-width="1.3"/>
<text x="303.40" y="702.00" font-size="9.7" text-anchor="start" fill="#231f20" stroke="#231f20">78.13 nM</text>
<line x1="289.80" y1="710.20" x2="299.00" y2="710.20" stroke="#ef766b" stroke-width="1.3"/>
<text x="303.40" y="713.10" font-size="9.7" text-anchor="start" fill="#231f20" stroke="#231f20">156.25 nM</text>
<line x1="373.60" y1="536.90" x2="373.60" y2="605.10" stroke="#231f20" stroke-width="1.1"/>
<line x1="373.10" y1="604.60" x2="505.25" y2="604.60" stroke="#231f20" stroke-width="1.1"/>
<line x1="370.40" y1="604.60" x2="373.60" y2="604.60" stroke="#231f20" stroke-width="1.1"/>
<text x="369.80" y="608.00" font-size="9.6" text-anchor="end" fill="#231f20" stroke="#231f20">0</text>
<line x1="370.40" y1="587.75" x2="373.60" y2="587.75" stroke="#231f20" stroke-width="1.1"/>
<text x="369.80" y="591.15" font-size="9.6" text-anchor="end" fill="#231f20" stroke="#231f20">20</text>
<line x1="370.40" y1="570.90" x2="373.60" y2="570.90" stroke="#231f20" stroke-width="1.1"/>
<text x="369.80" y="574.30" font-size="9.6" text-anchor="end" fill="#231f20" stroke="#231f20">40</text>
<line x1="370.40" y1="554.05" x2="373.60" y2="554.05" stroke="#231f20" stroke-width="1.1"/>
<text x="369.80" y="557.45" font-size="9.6" text-anchor="end" fill="#231f20" stroke="#231f20">60</text>
<line x1="370.40" y1="537.20" x2="373.60" y2="537.20" stroke="#231f20" stroke-width="1.1"/>
<text x="369.80" y="540.60" font-size="9.6" text-anchor="end" fill="#231f20" stroke="#231f20">80</text>
<line x1="392.34" y1="604.60" x2="392.34" y2="608.20" stroke="#231f20" stroke-width="1.1"/>
<text x="392.34" y="617.90" font-size="9.8" text-anchor="middle" fill="#231f20" stroke="#231f20">300</text>
<line x1="429.81" y1="604.60" x2="429.81" y2="608.20" stroke="#231f20" stroke-width="1.1"/>
<text x="429.81" y="617.90" font-size="9.8" text-anchor="middle" fill="#231f20" stroke="#231f20">400</text>
<line x1="467.28" y1="604.60" x2="467.28" y2="608.20" stroke="#231f20" stroke-width="1.1"/>
<text x="467.28" y="617.90" font-size="9.8" text-anchor="middle" fill="#231f20" stroke="#231f20">500</text>
<line x1="504.75" y1="604.60" x2="504.75" y2="608.20" stroke="#231f20" stroke-width="1.1"/>
<text x="504.75" y="617.90" font-size="9.8" text-anchor="middle" fill="#231f20" stroke="#231f20">600</text>
<text x="442.60" y="628.70" font-size="9.8" text-anchor="middle" fill="#231f20" stroke="#231f20">Time (s)</text>
<text x="356.20" y="570.90" font-size="9.8" text-anchor="middle" fill="#231f20" stroke="#231f20" transform="rotate(-90 356.2 570.9)">Response (RU)</text>
<text x="439.60" y="498.40" font-size="9.8" text-anchor="middle" fill="#231f20" stroke="#231f20">NK-2-12-SK3</text>
<text x="436.60" y="515.60" font-size="9.8" text-anchor="middle" fill="#231f20" stroke="#231f20">IgE</text>
<text x="400.80" y="541.10" font-size="9.8" text-anchor="middle" fill="#231f20" stroke="#231f20">hFcγRIIb</text>
<line x1="399.20" y1="547.20" x2="399.20" y2="561.50" stroke="#231f20" stroke-width="1.3"/>
<path d="M395.10,559.50L399.20,570.00L403.30,559.50L399.20,562.70Z" fill="#231f20"/>
<line x1="435.30" y1="522.50" x2="435.30" y2="537.50" stroke="#231f20" stroke-width="1.3"/>
<path d="M431.20,535.50L435.30,546.00L439.40,535.50L435.30,538.70Z" fill="#231f20"/>
<polyline points="373.68,587.22 376.13,587.84 378.17,587.43 382.26,587.84 386.35,587.63 390.44,587.84 394.52,588.04 398.61,588.25 399.63,589.27 400.04,595.81 400.45,591.31 401.06,585.18 402.70,580.07 404.74,575.98 407.81,572.51 410.87,570.06 413.94,568.42 417.01,567.60 421.09,567.60 425.18,568.22 429.27,568.83 432.33,569.44 433.76,569.85 434.17,571.90 434.58,568.83 435.40,562.70 436.42,556.57 438.47,549.42 440.51,545.33 443.57,541.65 447.66,539.40 451.75,538.58 455.84,538.17 459.92,538.79 464.01,540.22 466.06,541.85 467.08,542.67 467.69,544.31 468.30,542.26 468.92,543.90 470.14,548.39 472.19,553.50 475.25,559.63 478.32,563.72 482.41,567.81 487.51,571.49 492.62,573.94 498.76,575.98 505.30,577.41" fill="none" stroke="#74cbb9" stroke-width="1.35" stroke-linejoin="round"/>
<line x1="549.10" y1="536.00" x2="549.10" y2="605.20" stroke="#231f20" stroke-width="1.1"/>
<line x1="548.60" y1="604.70" x2="679.87" y2="604.70" stroke="#231f20" stroke-width="1.1"/>
<line x1="545.90" y1="604.70" x2="549.10" y2="604.70" stroke="#231f20" stroke-width="1.1"/>
<text x="545.30" y="608.10" font-size="9.6" text-anchor="end" fill="#231f20" stroke="#231f20">0</text>
<line x1="545.90" y1="587.60" x2="549.10" y2="587.60" stroke="#231f20" stroke-width="1.1"/>
<text x="545.30" y="591.00" font-size="9.6" text-anchor="end" fill="#231f20" stroke="#231f20">20</text>
<line x1="545.90" y1="570.50" x2="549.10" y2="570.50" stroke="#231f20" stroke-width="1.1"/>
<text x="545.30" y="573.90" font-size="9.6" text-anchor="end" fill="#231f20" stroke="#231f20">40</text>
<line x1="545.90" y1="553.40" x2="549.10" y2="553.40" stroke="#231f20" stroke-width="1.1"/>
<text x="545.30" y="556.80" font-size="9.6" text-anchor="end" fill="#231f20" stroke="#231f20">60</text>
<line x1="545.90" y1="536.30" x2="549.10" y2="536.30" stroke="#231f20" stroke-width="1.1"/>
<text x="545.30" y="539.70" font-size="9.6" text-anchor="end" fill="#231f20" stroke="#231f20">80</text>
<line x1="567.71" y1="604.70" x2="567.71" y2="608.30" stroke="#231f20" stroke-width="1.1"/>
<text x="567.71" y="617.90" font-size="9.8" text-anchor="middle" fill="#231f20" stroke="#231f20">200</text>
<line x1="604.93" y1="604.70" x2="604.93" y2="608.30" stroke="#231f20" stroke-width="1.1"/>
<text x="604.93" y="617.90" font-size="9.8" text-anchor="middle" fill="#231f20" stroke="#231f20">300</text>
<line x1="642.15" y1="604.70" x2="642.15" y2="608.30" stroke="#231f20" stroke-width="1.1"/>
<text x="642.15" y="617.90" font-size="9.8" text-anchor="middle" fill="#231f20" stroke="#231f20">400</text>
<line x1="679.37" y1="604.70" x2="679.37" y2="608.30" stroke="#231f20" stroke-width="1.1"/>
<text x="679.37" y="617.90" font-size="9.8" text-anchor="middle" fill="#231f20" stroke="#231f20">500</text>
<text x="617.50" y="629.80" font-size="9.8" text-anchor="middle" fill="#231f20" stroke="#231f20">Time (s)</text>
<text x="530.80" y="570.50" font-size="9.8" text-anchor="middle" fill="#231f20" stroke="#231f20" transform="rotate(-90 530.8 570.5)">Response (RU)</text>
<text x="612.20" y="498.60" font-size="9.8" text-anchor="middle" fill="#231f20" stroke="#231f20">NK-2-12-SK4</text>
<text x="612.80" y="515.60" font-size="9.8" text-anchor="middle" fill="#231f20" stroke="#231f20">IgE</text>
<text x="580.80" y="524.90" font-size="9.8" text-anchor="middle" fill="#231f20" stroke="#231f20">hFcγRIIb</text>
<line x1="579.30" y1="530.00" x2="579.30" y2="544.80" stroke="#231f20" stroke-width="1.3"/>
<path d="M575.20,542.80L579.30,553.30L583.40,542.80L579.30,546.00Z" fill="#231f20"/>
<line x1="612.00" y1="522.60" x2="612.00" y2="537.30" stroke="#231f20" stroke-width="1.3"/>
<path d="M607.90,535.30L612.00,545.80L616.10,535.30L612.00,538.50Z" fill="#231f20"/>
<polyline points="549.50,585.29 551.13,584.27 553.17,584.88 555.22,583.86 557.26,584.68 561.35,584.27 565.44,584.06 569.52,584.27 573.61,584.47 577.29,584.68 578.11,586.31 578.52,598.98 578.93,586.31 579.33,565.87 580.15,559.33 581.79,557.70 584.85,556.88 589.96,556.68 596.09,557.09 602.22,557.50 608.36,557.90 610.81,558.11 611.42,560.77 611.83,566.90 612.24,559.74 613.06,555.66 614.49,549.52 616.53,545.44 619.60,543.80 624.71,543.60 628.79,543.80 632.88,544.62 634.92,545.85 637.99,548.50 642.08,551.57 645.14,554.63 645.76,555.66 646.16,549.52 646.57,556.68 647.60,562.81 649.23,567.92 651.27,572.41 654.34,576.09 658.43,579.16 663.54,581.82 669.67,583.86 675.80,585.09 680.30,585.49" fill="none" stroke="#f07a6a" stroke-width="1.35" stroke-linejoin="round"/>
<rect x="363.10" y="651.90" width="104.80" height="101.80" fill="#000"/>
<rect x="469.30" y="651.90" width="105.30" height="101.80" fill="#000"/>
<rect x="576.20" y="651.90" width="104.80" height="101.80" fill="#000"/>
<defs><radialGradient id="ng1"><stop offset="0" stop-color="#1e1eb0"/><stop offset="0.75" stop-color="#181896"/><stop offset="1" stop-color="#10107a"/></radialGradient><radialGradient id="ng2"><stop offset="0" stop-color="#16168e"/><stop offset="1" stop-color="#0c0c60"/></radialGradient><radialGradient id="ng3"><stop offset="0" stop-color="#3434f4"/><stop offset="1" stop-color="#2020c8"/></radialGradient><filter id="bl1" x="-50%" y="-50%" width="200%" height="200%"><feGaussianBlur stdDeviation="0.9"/></filter><filter id="bl2" x="-50%" y="-50%" width="200%" height="200%"><feGaussianBlur stdDeviation="0.5"/></filter><clipPath id="hc0"><rect x="363.1" y="651.9" width="104.79999999999995" height="101.8"/></clipPath><clipPath id="hc1"><rect x="469.3" y="651.9" width="105.30000000000001" height="101.8"/></clipPath><clipPath id="hc2"><rect x="576.2" y="651.9" width="104.79999999999995" height="101.8"/></clipPath></defs>
<g clip-path="url(#hc0)"><g filter="url(#bl1)">
<ellipse cx="370.8" cy="683.3" rx="3.6" ry="2.8" fill="url(#ng2)" transform="rotate(30 370.8 683.3)"/>
<ellipse cx="385.7" cy="681.5" rx="4.0" ry="3.6" fill="url(#ng1)" transform="rotate(0 385.7 681.5)"/>
<ellipse cx="383.0" cy="667.5" rx="4.2" ry="2.6" fill="url(#ng2)" transform="rotate(0 383.0 667.5)"/>
<ellipse cx="411.0" cy="653.5" rx="3.5" ry="2.5" fill="url(#ng2)" transform="rotate(0 411.0 653.5)"/>
<ellipse cx="426.0" cy="683.0" rx="4.0" ry="3.0" fill="url(#ng2)" transform="rotate(0 426.0 683.0)"/>
<ellipse cx="447.9" cy="686.8" rx="3.2" ry="3.8" fill="url(#ng2)" transform="rotate(0 447.9 686.8)"/>
<ellipse cx="429.5" cy="695.5" rx="3.6" ry="3.4" fill="url(#ng1)" transform="rotate(20 429.5 695.5)"/>
<ellipse cx="399.7" cy="698.2" rx="3.6" ry="4.0" fill="url(#ng2)" transform="rotate(0 399.7 698.2)"/>
<ellipse cx="447.0" cy="703.4" rx="3.8" ry="3.0" fill="url(#ng1)" transform="rotate(0 447.0 703.4)"/>
<ellipse cx="463.6" cy="705.2" rx="3.6" ry="3.2" fill="url(#ng1)" transform="rotate(0 463.6 705.2)"/>
<ellipse cx="413.7" cy="714.0" rx="4.6" ry="3.8" fill="url(#ng1)" transform="rotate(0 413.7 714.0)"/>
<ellipse cx="433.8" cy="715.7" rx="3.6" ry="4.0" fill="url(#ng1)" transform="rotate(0 433.8 715.7)"/>
<ellipse cx="393.9" cy="716.2" rx="4.6" ry="2.8" fill="url(#ng2)" transform="rotate(0 393.9 716.2)"/>
<ellipse cx="379.5" cy="723.2" rx="4.4" ry="2.8" fill="url(#ng2)" transform="rotate(-20 379.5 723.2)"/>
<ellipse cx="460.1" cy="721.8" rx="3.6" ry="3.2" fill="url(#ng2)" transform="rotate(0 460.1 721.8)"/>
<ellipse cx="406.7" cy="730.6" rx="3.0" ry="3.4" fill="url(#ng2)" transform="rotate(0 406.7 730.6)"/>
<ellipse cx="418.1" cy="732.3" rx="4.2" ry="3.2" fill="url(#ng1)" transform="rotate(20 418.1 732.3)"/>
<ellipse cx="462.7" cy="733.2" rx="3.6" ry="4.2" fill="url(#ng1)" transform="rotate(-30 462.7 733.2)"/>
<ellipse cx="440.0" cy="740.2" rx="2.8" ry="4.0" fill="url(#ng3)" transform="rotate(0 440.0 740.2)"/>
<ellipse cx="365.5" cy="734.1" rx="2.6" ry="3.0" fill="url(#ng2)" transform="rotate(0 365.5 734.1)"/>
<ellipse cx="365.5" cy="663.1" rx="3.0" ry="2.4" fill="url(#ng2)" transform="rotate(0 365.5 663.1)"/>
<ellipse cx="416.0" cy="753.0" rx="4" ry="2" fill="url(#ng2)" transform="rotate(0 416.0 753.0)"/>
<ellipse cx="447.0" cy="752.0" rx="3" ry="1.8" fill="url(#ng2)" transform="rotate(0 447.0 752.0)"/>
</g><g filter="url(#bl2)">
<ellipse cx="403.2" cy="715.7" rx="2.25" ry="1.75" fill="#b0101c" opacity="0.33"/>
<circle cx="402.7" cy="716.4" r="0.61" fill="#ee1422" opacity="0.53"/>
<circle cx="401.8" cy="715.5" r="0.37" fill="#ee1422" opacity="0.73"/>
<circle cx="404.7" cy="716.0" r="0.38" fill="#ee1422" opacity="0.54"/>
<circle cx="401.3" cy="716.5" r="0.40" fill="#ee1422" opacity="0.60"/>
<circle cx="401.6" cy="714.4" r="0.58" fill="#ee1422" opacity="0.68"/>
<circle cx="404.1" cy="715.6" r="0.69" fill="#ee1422" opacity="0.63"/>
<circle cx="403.8" cy="716.3" r="0.47" fill="#ee1422" opacity="0.87"/>
<circle cx="403.9" cy="716.9" r="0.61" fill="#ee1422" opacity="0.67"/>
<ellipse cx="403.2" cy="715.7" rx="1.25" ry="1.00" fill="#b0101c" opacity="0.33"/>
<circle cx="402.7" cy="715.6" r="0.37" fill="#ee1422" opacity="0.59"/>
<circle cx="402.8" cy="715.1" r="0.48" fill="#ee1422" opacity="0.76"/>
<circle cx="402.5" cy="715.9" r="0.67" fill="#ee1422" opacity="0.81"/>
<circle cx="403.2" cy="716.5" r="0.56" fill="#ee1422" opacity="0.89"/>
<circle cx="403.1" cy="715.1" r="0.74" fill="#ee1422" opacity="0.55"/>
<ellipse cx="437.3" cy="690.3" rx="1.00" ry="0.75" fill="#b0101c" opacity="0.33"/>
<circle cx="436.5" cy="690.6" r="0.41" fill="#ee1422" opacity="0.72"/>
<circle cx="438.1" cy="690.5" r="0.66" fill="#ee1422" opacity="0.76"/>
<circle cx="437.7" cy="690.0" r="0.63" fill="#ee1422" opacity="0.77"/>
<circle cx="436.7" cy="690.1" r="0.69" fill="#ee1422" opacity="0.93"/>
<ellipse cx="430.3" cy="729.7" rx="1.25" ry="1.00" fill="#b0101c" opacity="0.33"/>
<circle cx="429.3" cy="729.8" r="0.37" fill="#ee1422" opacity="0.82"/>
<circle cx="429.5" cy="728.8" r="0.68" fill="#ee1422" opacity="0.63"/>
<circle cx="429.5" cy="730.3" r="0.36" fill="#ee1422" opacity="0.71"/>
<circle cx="430.6" cy="730.1" r="0.37" fill="#ee1422" opacity="0.85"/>
<circle cx="430.8" cy="730.1" r="0.51" fill="#ee1422" opacity="0.89"/>
<ellipse cx="388.3" cy="685.0" rx="0.75" ry="0.75" fill="#b0101c" opacity="0.33"/>
<circle cx="388.7" cy="685.2" r="0.57" fill="#ee1422" opacity="0.90"/>
<circle cx="388.6" cy="684.3" r="0.46" fill="#ee1422" opacity="0.69"/>
<circle cx="387.8" cy="685.6" r="0.73" fill="#ee1422" opacity="0.57"/>
<circle cx="388.5" cy="685.4" r="0.44" fill="#ee1422" opacity="0.72"/>
<ellipse cx="459.0" cy="725.0" rx="0.88" ry="0.75" fill="#b0101c" opacity="0.33"/>
<circle cx="458.6" cy="724.8" r="0.35" fill="#ee1422" opacity="0.69"/>
<circle cx="458.5" cy="725.4" r="0.73" fill="#ee1422" opacity="0.81"/>
<circle cx="458.3" cy="724.9" r="0.62" fill="#ee1422" opacity="0.52"/>
<circle cx="459.7" cy="724.6" r="0.70" fill="#ee1422" opacity="0.86"/>
</g></g>
<g clip-path="url(#hc1)"><g filter="url(#bl1)">
<ellipse cx="486.0" cy="673.5" rx="3.6" ry="3.6" fill="url(#ng1)" transform="rotate(0 486.0 673.5)"/>
<ellipse cx="496.0" cy="677.7" rx="4.0" ry="3.4" fill="url(#ng1)" transform="rotate(0 496.0 677.7)"/>
<ellipse cx="514.5" cy="676.0" rx="4.0" ry="3.6" fill="url(#ng2)" transform="rotate(0 514.5 676.0)"/>
<ellipse cx="543.9" cy="675.2" rx="4.0" ry="3.6" fill="url(#ng2)" transform="rotate(0 543.9 675.2)"/>
<ellipse cx="566.6" cy="659.2" rx="5.0" ry="4.0" fill="url(#ng3)" transform="rotate(0 566.6 659.2)"/>
<ellipse cx="543.9" cy="655.0" rx="4.4" ry="3.0" fill="url(#ng2)" transform="rotate(0 543.9 655.0)"/>
<ellipse cx="496.0" cy="655.0" rx="3.0" ry="2.6" fill="url(#ng2)" transform="rotate(0 496.0 655.0)"/>
<ellipse cx="513.7" cy="688.6" rx="3.4" ry="3.6" fill="url(#ng1)" transform="rotate(0 513.7 688.6)"/>
<ellipse cx="539.7" cy="688.6" rx="4.0" ry="3.4" fill="url(#ng1)" transform="rotate(0 539.7 688.6)"/>
<ellipse cx="570.0" cy="689.4" rx="3.6" ry="3.6" fill="url(#ng1)" transform="rotate(0 570.0 689.4)"/>
<ellipse cx="495.2" cy="696.2" rx="4.6" ry="3.8" fill="url(#ng1)" transform="rotate(0 495.2 696.2)"/>
<ellipse cx="474.2" cy="695.3" rx="4.6" ry="3.6" fill="url(#ng2)" transform="rotate(0 474.2 695.3)"/>
<ellipse cx="559.0" cy="708.8" rx="4.6" ry="4.0" fill="url(#ng1)" transform="rotate(0 559.0 708.8)"/>
<ellipse cx="533.8" cy="713.0" rx="4.0" ry="3.4" fill="url(#ng1)" transform="rotate(0 533.8 713.0)"/>
<ellipse cx="511.2" cy="710.4" rx="3.6" ry="3.2" fill="url(#ng1)" transform="rotate(0 511.2 710.4)"/>
<ellipse cx="509.5" cy="716.3" rx="4.0" ry="3.2" fill="url(#ng1)" transform="rotate(0 509.5 716.3)"/>
<ellipse cx="542.2" cy="732.3" rx="4.0" ry="3.6" fill="url(#ng2)" transform="rotate(0 542.2 732.3)"/>
<ellipse cx="496.0" cy="737.3" rx="3.6" ry="2.8" fill="url(#ng1)" transform="rotate(0 496.0 737.3)"/>
<ellipse cx="492.7" cy="747.4" rx="3.4" ry="3.0" fill="url(#ng2)" transform="rotate(0 492.7 747.4)"/>
<ellipse cx="472.6" cy="741.5" rx="3.0" ry="3.4" fill="url(#ng1)" transform="rotate(0 472.6 741.5)"/>
<ellipse cx="513.7" cy="751.6" rx="4.0" ry="2.4" fill="url(#ng1)" transform="rotate(0 513.7 751.6)"/>
<ellipse cx="570.0" cy="749.9" rx="3.4" ry="3.6" fill="url(#ng1)" transform="rotate(0 570.0 749.9)"/>
<ellipse cx="570.8" cy="715.5" rx="3.4" ry="3.8" fill="url(#ng1)" transform="rotate(0 570.8 715.5)"/>
<ellipse cx="503.5" cy="718.5" rx="1.5" ry="1.5" fill="url(#ng3)" transform="rotate(0 503.5 718.5)"/>
</g><g filter="url(#bl2)">
<ellipse cx="486.0" cy="671.0" rx="3.12" ry="2.50" fill="#b0101c" opacity="0.33"/>
<circle cx="486.5" cy="673.6" r="0.40" fill="#ee1422" opacity="0.82"/>
<circle cx="487.4" cy="671.7" r="0.75" fill="#ee1422" opacity="0.59"/>
<circle cx="484.6" cy="669.7" r="0.53" fill="#ee1422" opacity="0.72"/>
<circle cx="487.1" cy="673.2" r="0.39" fill="#ee1422" opacity="0.61"/>
<circle cx="487.7" cy="671.2" r="0.51" fill="#ee1422" opacity="0.91"/>
<circle cx="485.0" cy="671.8" r="0.45" fill="#ee1422" opacity="0.95"/>
<circle cx="488.3" cy="671.8" r="0.50" fill="#ee1422" opacity="0.80"/>
<circle cx="484.6" cy="672.8" r="0.55" fill="#ee1422" opacity="0.79"/>
<circle cx="488.0" cy="669.9" r="0.41" fill="#ee1422" opacity="0.53"/>
<circle cx="488.1" cy="670.4" r="0.43" fill="#ee1422" opacity="0.93"/>
<circle cx="483.6" cy="669.9" r="0.70" fill="#ee1422" opacity="0.63"/>
<circle cx="484.1" cy="672.9" r="0.40" fill="#ee1422" opacity="0.84"/>
<ellipse cx="497.0" cy="676.0" rx="3.25" ry="3.00" fill="#b0101c" opacity="0.33"/>
<circle cx="499.3" cy="677.5" r="0.63" fill="#ee1422" opacity="0.93"/>
<circle cx="498.3" cy="674.2" r="0.43" fill="#ee1422" opacity="0.57"/>
<circle cx="494.7" cy="675.6" r="0.38" fill="#ee1422" opacity="0.91"/>
<circle cx="494.2" cy="675.9" r="0.44" fill="#ee1422" opacity="0.61"/>
<circle cx="499.0" cy="676.1" r="0.46" fill="#ee1422" opacity="0.69"/>
<circle cx="494.8" cy="678.0" r="0.71" fill="#ee1422" opacity="0.58"/>
<circle cx="495.8" cy="676.9" r="0.62" fill="#ee1422" opacity="0.94"/>
<circle cx="497.9" cy="678.6" r="0.47" fill="#ee1422" opacity="0.51"/>
<circle cx="497.2" cy="674.2" r="0.42" fill="#ee1422" opacity="0.70"/>
<circle cx="497.2" cy="678.0" r="0.53" fill="#ee1422" opacity="0.69"/>
<circle cx="495.4" cy="675.1" r="0.39" fill="#ee1422" opacity="0.54"/>
<circle cx="498.9" cy="677.4" r="0.49" fill="#ee1422" opacity="0.86"/>
<circle cx="494.2" cy="675.9" r="0.74" fill="#ee1422" opacity="0.53"/>
<circle cx="498.5" cy="676.1" r="0.50" fill="#ee1422" opacity="0.76"/>
<ellipse cx="514.5" cy="675.0" rx="4.50" ry="3.75" fill="#b0101c" opacity="0.33"/>
<circle cx="514.4" cy="672.7" r="0.74" fill="#ee1422" opacity="0.50"/>
<circle cx="515.7" cy="673.4" r="0.70" fill="#ee1422" opacity="0.51"/>
<circle cx="518.5" cy="674.3" r="0.75" fill="#ee1422" opacity="0.76"/>
<circle cx="516.6" cy="678.6" r="0.53" fill="#ee1422" opacity="0.54"/>
<circle cx="512.0" cy="673.3" r="0.54" fill="#ee1422" opacity="0.57"/>
<circle cx="517.0" cy="677.0" r="0.53" fill="#ee1422" opacity="0.56"/>
<circle cx="510.8" cy="676.2" r="0.64" fill="#ee1422" opacity="0.71"/>
<circle cx="512.3" cy="676.4" r="0.44" fill="#ee1422" opacity="0.59"/>
<circle cx="512.6" cy="675.5" r="0.64" fill="#ee1422" opacity="0.82"/>
<circle cx="513.2" cy="674.1" r="0.50" fill="#ee1422" opacity="0.69"/>
<circle cx="518.5" cy="677.2" r="0.65" fill="#ee1422" opacity="0.73"/>
<circle cx="513.9" cy="673.2" r="0.44" fill="#ee1422" opacity="0.74"/>
<circle cx="514.4" cy="671.9" r="0.35" fill="#ee1422" opacity="0.78"/>
<circle cx="517.9" cy="673.2" r="0.72" fill="#ee1422" opacity="0.94"/>
<circle cx="514.9" cy="677.1" r="0.57" fill="#ee1422" opacity="0.94"/>
<circle cx="511.3" cy="677.8" r="0.69" fill="#ee1422" opacity="0.73"/>
<circle cx="511.2" cy="672.2" r="0.66" fill="#ee1422" opacity="0.63"/>
<circle cx="515.8" cy="673.5" r="0.50" fill="#ee1422" opacity="0.93"/>
<circle cx="516.0" cy="673.2" r="0.47" fill="#ee1422" opacity="0.78"/>
<circle cx="516.6" cy="672.3" r="0.72" fill="#ee1422" opacity="0.83"/>
<circle cx="516.0" cy="672.3" r="0.49" fill="#ee1422" opacity="0.69"/>
<circle cx="511.2" cy="675.2" r="0.69" fill="#ee1422" opacity="0.62"/>
<ellipse cx="545.0" cy="675.0" rx="3.00" ry="2.50" fill="#b0101c" opacity="0.33"/>
<circle cx="547.4" cy="675.9" r="0.46" fill="#ee1422" opacity="0.69"/>
<circle cx="547.1" cy="676.6" r="0.46" fill="#ee1422" opacity="0.63"/>
<circle cx="545.7" cy="673.3" r="0.46" fill="#ee1422" opacity="0.90"/>
<circle cx="543.4" cy="675.8" r="0.74" fill="#ee1422" opacity="0.86"/>
<circle cx="545.0" cy="673.7" r="0.68" fill="#ee1422" opacity="0.77"/>
<circle cx="545.9" cy="673.6" r="0.66" fill="#ee1422" opacity="0.86"/>
<circle cx="543.1" cy="676.3" r="0.66" fill="#ee1422" opacity="0.95"/>
<circle cx="547.4" cy="673.9" r="0.40" fill="#ee1422" opacity="0.77"/>
<circle cx="544.5" cy="674.0" r="0.54" fill="#ee1422" opacity="0.89"/>
<circle cx="547.6" cy="673.6" r="0.39" fill="#ee1422" opacity="0.77"/>
<circle cx="546.6" cy="673.4" r="0.48" fill="#ee1422" opacity="0.52"/>
<circle cx="547.6" cy="673.8" r="0.61" fill="#ee1422" opacity="0.66"/>
<ellipse cx="513.7" cy="689.0" rx="2.75" ry="3.00" fill="#b0101c" opacity="0.33"/>
<circle cx="514.9" cy="686.5" r="0.64" fill="#ee1422" opacity="0.77"/>
<circle cx="513.0" cy="690.6" r="0.49" fill="#ee1422" opacity="0.65"/>
<circle cx="512.5" cy="688.8" r="0.64" fill="#ee1422" opacity="0.66"/>
<circle cx="514.5" cy="690.4" r="0.51" fill="#ee1422" opacity="0.69"/>
<circle cx="513.9" cy="687.7" r="0.44" fill="#ee1422" opacity="0.63"/>
<circle cx="514.8" cy="691.4" r="0.39" fill="#ee1422" opacity="0.52"/>
<circle cx="511.4" cy="688.1" r="0.68" fill="#ee1422" opacity="0.75"/>
<circle cx="512.4" cy="691.6" r="0.64" fill="#ee1422" opacity="0.72"/>
<circle cx="511.1" cy="687.8" r="0.75" fill="#ee1422" opacity="0.92"/>
<circle cx="514.8" cy="690.3" r="0.51" fill="#ee1422" opacity="0.58"/>
<circle cx="513.8" cy="687.8" r="0.70" fill="#ee1422" opacity="0.76"/>
<circle cx="512.3" cy="687.7" r="0.72" fill="#ee1422" opacity="0.76"/>
<ellipse cx="541.0" cy="688.0" rx="3.00" ry="3.00" fill="#b0101c" opacity="0.33"/>
<circle cx="543.4" cy="686.1" r="0.63" fill="#ee1422" opacity="0.94"/>
<circle cx="539.1" cy="688.1" r="0.69" fill="#ee1422" opacity="0.74"/>
<circle cx="540.1" cy="690.4" r="0.54" fill="#ee1422" opacity="0.56"/>
<circle cx="542.1" cy="686.2" r="0.74" fill="#ee1422" opacity="0.74"/>
<circle cx="542.6" cy="687.3" r="0.44" fill="#ee1422" opacity="0.74"/>
<circle cx="541.3" cy="685.2" r="0.61" fill="#ee1422" opacity="0.56"/>
<circle cx="540.1" cy="688.7" r="0.50" fill="#ee1422" opacity="0.93"/>
<circle cx="539.5" cy="690.1" r="0.60" fill="#ee1422" opacity="0.56"/>
<circle cx="540.5" cy="686.8" r="0.42" fill="#ee1422" opacity="0.76"/>
<circle cx="543.2" cy="690.3" r="0.52" fill="#ee1422" opacity="0.78"/>
<circle cx="542.3" cy="687.7" r="0.75" fill="#ee1422" opacity="0.52"/>
<circle cx="539.0" cy="686.5" r="0.74" fill="#ee1422" opacity="0.66"/>
<circle cx="543.3" cy="687.2" r="0.54" fill="#ee1422" opacity="0.58"/>
<ellipse cx="569.0" cy="688.0" rx="3.25" ry="3.25" fill="#b0101c" opacity="0.33"/>
<circle cx="569.2" cy="690.0" r="0.49" fill="#ee1422" opacity="0.67"/>
<circle cx="569.7" cy="686.1" r="0.60" fill="#ee1422" opacity="0.52"/>
<circle cx="570.8" cy="690.2" r="0.71" fill="#ee1422" opacity="0.64"/>
<circle cx="570.7" cy="688.3" r="0.49" fill="#ee1422" opacity="0.66"/>
<circle cx="567.3" cy="687.3" r="0.61" fill="#ee1422" opacity="0.85"/>
<circle cx="569.6" cy="685.2" r="0.58" fill="#ee1422" opacity="0.62"/>
<circle cx="570.0" cy="686.4" r="0.69" fill="#ee1422" opacity="0.70"/>
<circle cx="567.4" cy="686.3" r="0.61" fill="#ee1422" opacity="0.65"/>
<circle cx="566.5" cy="686.6" r="0.49" fill="#ee1422" opacity="0.77"/>
<circle cx="566.8" cy="688.6" r="0.50" fill="#ee1422" opacity="0.75"/>
<circle cx="568.6" cy="686.5" r="0.41" fill="#ee1422" opacity="0.87"/>
<circle cx="571.6" cy="689.6" r="0.65" fill="#ee1422" opacity="0.60"/>
<circle cx="567.8" cy="686.7" r="0.70" fill="#ee1422" opacity="0.59"/>
<circle cx="569.9" cy="688.8" r="0.64" fill="#ee1422" opacity="0.60"/>
<circle cx="567.6" cy="691.2" r="0.64" fill="#ee1422" opacity="0.83"/>
<ellipse cx="495.0" cy="697.0" rx="3.25" ry="2.75" fill="#b0101c" opacity="0.33"/>
<circle cx="492.6" cy="696.0" r="0.35" fill="#ee1422" opacity="0.87"/>
<circle cx="493.5" cy="699.4" r="0.52" fill="#ee1422" opacity="0.91"/>
<circle cx="498.5" cy="697.0" r="0.39" fill="#ee1422" opacity="0.73"/>
<circle cx="491.5" cy="697.3" r="0.64" fill="#ee1422" opacity="0.94"/>
<circle cx="496.8" cy="696.0" r="0.41" fill="#ee1422" opacity="0.57"/>
<circle cx="494.1" cy="694.2" r="0.62" fill="#ee1422" opacity="0.66"/>
<circle cx="492.8" cy="695.7" r="0.45" fill="#ee1422" opacity="0.81"/>
<circle cx="495.4" cy="698.0" r="0.38" fill="#ee1422" opacity="0.72"/>
<circle cx="494.4" cy="695.6" r="0.51" fill="#ee1422" opacity="0.81"/>
<circle cx="494.8" cy="699.0" r="0.59" fill="#ee1422" opacity="0.68"/>
<circle cx="495.7" cy="699.3" r="0.63" fill="#ee1422" opacity="0.59"/>
<circle cx="496.0" cy="694.9" r="0.70" fill="#ee1422" opacity="0.85"/>
<circle cx="492.2" cy="697.1" r="0.48" fill="#ee1422" opacity="0.79"/>
<ellipse cx="474.0" cy="698.0" rx="3.25" ry="2.50" fill="#b0101c" opacity="0.33"/>
<circle cx="475.7" cy="698.8" r="0.55" fill="#ee1422" opacity="0.90"/>
<circle cx="472.7" cy="695.7" r="0.70" fill="#ee1422" opacity="0.94"/>
<circle cx="472.1" cy="696.6" r="0.54" fill="#ee1422" opacity="0.60"/>
<circle cx="474.7" cy="696.1" r="0.41" fill="#ee1422" opacity="0.61"/>
<circle cx="474.5" cy="700.2" r="0.59" fill="#ee1422" opacity="0.59"/>
<circle cx="473.0" cy="696.2" r="0.46" fill="#ee1422" opacity="0.70"/>
<circle cx="475.5" cy="697.9" r="0.44" fill="#ee1422" opacity="0.77"/>
<circle cx="475.8" cy="695.8" r="0.51" fill="#ee1422" opacity="0.85"/>
<circle cx="475.5" cy="699.1" r="0.69" fill="#ee1422" opacity="0.80"/>
<circle cx="471.6" cy="698.7" r="0.54" fill="#ee1422" opacity="0.75"/>
<circle cx="476.6" cy="696.2" r="0.43" fill="#ee1422" opacity="0.84"/>
<circle cx="476.4" cy="697.3" r="0.55" fill="#ee1422" opacity="0.67"/>
<ellipse cx="559.0" cy="706.0" rx="3.50" ry="5.62" fill="#b0101c" opacity="0.33"/>
<circle cx="556.3" cy="706.4" r="0.59" fill="#ee1422" opacity="0.55"/>
<circle cx="561.0" cy="706.0" r="0.57" fill="#ee1422" opacity="0.59"/>
<circle cx="558.0" cy="704.3" r="0.48" fill="#ee1422" opacity="0.67"/>
<circle cx="558.0" cy="709.7" r="0.41" fill="#ee1422" opacity="0.72"/>
<circle cx="559.8" cy="701.6" r="0.74" fill="#ee1422" opacity="0.93"/>
<circle cx="556.6" cy="706.6" r="0.65" fill="#ee1422" opacity="0.90"/>
<circle cx="556.2" cy="704.8" r="0.63" fill="#ee1422" opacity="0.73"/>
<circle cx="556.7" cy="705.8" r="0.53" fill="#ee1422" opacity="0.71"/>
<circle cx="559.5" cy="703.5" r="0.40" fill="#ee1422" opacity="0.92"/>
<circle cx="556.0" cy="705.7" r="0.72" fill="#ee1422" opacity="0.83"/>
<circle cx="555.7" cy="703.6" r="0.60" fill="#ee1422" opacity="0.70"/>
<circle cx="559.7" cy="708.4" r="0.67" fill="#ee1422" opacity="0.90"/>
<circle cx="557.4" cy="709.3" r="0.62" fill="#ee1422" opacity="0.77"/>
<circle cx="558.4" cy="711.6" r="0.57" fill="#ee1422" opacity="0.82"/>
<circle cx="558.1" cy="702.5" r="0.63" fill="#ee1422" opacity="0.59"/>
<circle cx="556.2" cy="704.6" r="0.60" fill="#ee1422" opacity="0.63"/>
<circle cx="559.6" cy="708.2" r="0.40" fill="#ee1422" opacity="0.58"/>
<circle cx="556.3" cy="706.4" r="0.63" fill="#ee1422" opacity="0.70"/>
<circle cx="559.1" cy="703.9" r="0.49" fill="#ee1422" opacity="0.55"/>
<circle cx="556.3" cy="705.6" r="0.58" fill="#ee1422" opacity="0.70"/>
<circle cx="557.6" cy="708.5" r="0.39" fill="#ee1422" opacity="0.59"/>
<circle cx="556.3" cy="706.4" r="0.39" fill="#ee1422" opacity="0.88"/>
<circle cx="560.6" cy="706.4" r="0.53" fill="#ee1422" opacity="0.65"/>
<circle cx="556.0" cy="705.4" r="0.59" fill="#ee1422" opacity="0.85"/>
<circle cx="556.1" cy="706.9" r="0.52" fill="#ee1422" opacity="0.56"/>
<ellipse cx="533.8" cy="713.0" rx="5.75" ry="5.25" fill="#b0101c" opacity="0.33"/>
<circle cx="536.3" cy="714.2" r="0.53" fill="#ee1422" opacity="0.62"/>
<circle cx="529.3" cy="711.4" r="0.72" fill="#ee1422" opacity="0.57"/>
<circle cx="535.8" cy="712.5" r="0.71" fill="#ee1422" opacity="0.94"/>
<circle cx="530.2" cy="716.7" r="0.55" fill="#ee1422" opacity="0.75"/>
<circle cx="537.5" cy="708.7" r="0.47" fill="#ee1422" opacity="0.60"/>
<circle cx="537.7" cy="710.9" r="0.71" fill="#ee1422" opacity="0.60"/>
<circle cx="535.4" cy="711.0" r="0.41" fill="#ee1422" opacity="0.63"/>
<circle cx="537.1" cy="711.5" r="0.53" fill="#ee1422" opacity="0.63"/>
<circle cx="537.3" cy="714.6" r="0.55" fill="#ee1422" opacity="0.65"/>
<circle cx="533.4" cy="710.0" r="0.74" fill="#ee1422" opacity="0.91"/>
<circle cx="531.6" cy="711.9" r="0.57" fill="#ee1422" opacity="0.78"/>
<circle cx="531.5" cy="710.2" r="0.64" fill="#ee1422" opacity="0.95"/>
<circle cx="533.1" cy="711.0" r="0.60" fill="#ee1422" opacity="0.78"/>
<circle cx="528.1" cy="711.5" r="0.37" fill="#ee1422" opacity="0.51"/>
<circle cx="533.4" cy="710.8" r="0.40" fill="#ee1422" opacity="0.87"/>
<circle cx="530.1" cy="717.0" r="0.67" fill="#ee1422" opacity="0.80"/>
<circle cx="532.3" cy="714.7" r="0.74" fill="#ee1422" opacity="0.89"/>
<circle cx="537.4" cy="711.1" r="0.46" fill="#ee1422" opacity="0.78"/>
<circle cx="531.3" cy="714.3" r="0.40" fill="#ee1422" opacity="0.68"/>
<circle cx="535.7" cy="715.3" r="0.74" fill="#ee1422" opacity="0.92"/>
<circle cx="537.0" cy="710.5" r="0.66" fill="#ee1422" opacity="0.57"/>
<circle cx="529.4" cy="709.2" r="0.67" fill="#ee1422" opacity="0.94"/>
<circle cx="531.5" cy="710.8" r="0.36" fill="#ee1422" opacity="0.62"/>
<circle cx="535.8" cy="709.6" r="0.60" fill="#ee1422" opacity="0.86"/>
<circle cx="533.1" cy="715.3" r="0.70" fill="#ee1422" opacity="0.77"/>
<circle cx="538.7" cy="713.8" r="0.64" fill="#ee1422" opacity="0.84"/>
<circle cx="536.0" cy="715.1" r="0.64" fill="#ee1422" opacity="0.80"/>
<circle cx="530.3" cy="717.6" r="0.47" fill="#ee1422" opacity="0.90"/>
<circle cx="536.4" cy="715.7" r="0.75" fill="#ee1422" opacity="0.81"/>
<circle cx="534.1" cy="707.8" r="0.60" fill="#ee1422" opacity="0.75"/>
<circle cx="535.7" cy="709.5" r="0.73" fill="#ee1422" opacity="0.84"/>
<circle cx="537.1" cy="713.0" r="0.70" fill="#ee1422" opacity="0.55"/>
<circle cx="538.3" cy="713.4" r="0.63" fill="#ee1422" opacity="0.94"/>
<circle cx="538.3" cy="712.0" r="0.63" fill="#ee1422" opacity="0.74"/>
<circle cx="536.7" cy="709.3" r="0.40" fill="#ee1422" opacity="0.78"/>
<circle cx="537.1" cy="714.0" r="0.48" fill="#ee1422" opacity="0.91"/>
<ellipse cx="511.0" cy="708.0" rx="3.00" ry="3.00" fill="#b0101c" opacity="0.33"/>
<circle cx="511.3" cy="709.9" r="0.58" fill="#ee1422" opacity="0.59"/>
<circle cx="509.4" cy="708.5" r="0.64" fill="#ee1422" opacity="0.86"/>
<circle cx="508.4" cy="706.5" r="0.55" fill="#ee1422" opacity="0.84"/>
<circle cx="512.6" cy="709.1" r="0.48" fill="#ee1422" opacity="0.90"/>
<circle cx="509.1" cy="708.0" r="0.62" fill="#ee1422" opacity="0.93"/>
<circle cx="512.4" cy="705.5" r="0.62" fill="#ee1422" opacity="0.86"/>
<circle cx="509.2" cy="707.3" r="0.48" fill="#ee1422" opacity="0.62"/>
<circle cx="509.9" cy="709.8" r="0.69" fill="#ee1422" opacity="0.61"/>
<circle cx="509.7" cy="709.0" r="0.54" fill="#ee1422" opacity="0.53"/>
<circle cx="508.9" cy="706.0" r="0.71" fill="#ee1422" opacity="0.66"/>
<circle cx="512.3" cy="710.3" r="0.65" fill="#ee1422" opacity="0.59"/>
<circle cx="513.3" cy="708.9" r="0.50" fill="#ee1422" opacity="0.74"/>
<circle cx="508.3" cy="706.8" r="0.40" fill="#ee1422" opacity="0.62"/>
<ellipse cx="508.0" cy="717.0" rx="3.00" ry="2.75" fill="#b0101c" opacity="0.33"/>
<circle cx="510.5" cy="717.5" r="0.38" fill="#ee1422" opacity="0.88"/>
<circle cx="506.3" cy="715.7" r="0.46" fill="#ee1422" opacity="0.89"/>
<circle cx="509.8" cy="718.4" r="0.68" fill="#ee1422" opacity="0.80"/>
<circle cx="509.3" cy="717.4" r="0.46" fill="#ee1422" opacity="0.83"/>
<circle cx="510.0" cy="719.2" r="0.70" fill="#ee1422" opacity="0.76"/>
<circle cx="509.8" cy="715.4" r="0.41" fill="#ee1422" opacity="0.68"/>
<circle cx="510.0" cy="717.3" r="0.75" fill="#ee1422" opacity="0.68"/>
<circle cx="507.0" cy="715.5" r="0.62" fill="#ee1422" opacity="0.65"/>
<circle cx="509.7" cy="716.1" r="0.46" fill="#ee1422" opacity="0.69"/>
<circle cx="509.6" cy="717.7" r="0.65" fill="#ee1422" opacity="0.68"/>
<circle cx="506.5" cy="717.5" r="0.68" fill="#ee1422" opacity="0.90"/>
<circle cx="507.1" cy="717.5" r="0.52" fill="#ee1422" opacity="0.89"/>
<ellipse cx="542.0" cy="732.0" rx="5.50" ry="5.00" fill="#b0101c" opacity="0.33"/>
<circle cx="540.3" cy="729.9" r="0.39" fill="#ee1422" opacity="0.90"/>
<circle cx="545.9" cy="733.9" r="0.59" fill="#ee1422" opacity="0.58"/>
<circle cx="537.0" cy="733.8" r="0.75" fill="#ee1422" opacity="0.53"/>
<circle cx="545.0" cy="732.5" r="0.37" fill="#ee1422" opacity="0.92"/>
<circle cx="545.0" cy="733.5" r="0.69" fill="#ee1422" opacity="0.71"/>
<circle cx="542.2" cy="734.0" r="0.44" fill="#ee1422" opacity="0.64"/>
<circle cx="544.1" cy="729.2" r="0.57" fill="#ee1422" opacity="0.62"/>
<circle cx="537.3" cy="734.8" r="0.40" fill="#ee1422" opacity="0.82"/>
<circle cx="540.6" cy="735.0" r="0.64" fill="#ee1422" opacity="0.66"/>
<circle cx="538.1" cy="732.2" r="0.54" fill="#ee1422" opacity="0.53"/>
<circle cx="539.3" cy="734.0" r="0.52" fill="#ee1422" opacity="0.63"/>
<circle cx="537.3" cy="733.4" r="0.38" fill="#ee1422" opacity="0.53"/>
<circle cx="537.8" cy="731.2" r="0.67" fill="#ee1422" opacity="0.51"/>
<circle cx="546.4" cy="732.2" r="0.44" fill="#ee1422" opacity="0.72"/>
<circle cx="541.4" cy="734.0" r="0.57" fill="#ee1422" opacity="0.64"/>
<circle cx="536.6" cy="732.4" r="0.53" fill="#ee1422" opacity="0.88"/>
<circle cx="541.3" cy="734.4" r="0.51" fill="#ee1422" opacity="0.63"/>
<circle cx="541.6" cy="729.8" r="0.64" fill="#ee1422" opacity="0.60"/>
<circle cx="539.6" cy="733.4" r="0.41" fill="#ee1422" opacity="0.56"/>
<circle cx="544.4" cy="731.8" r="0.72" fill="#ee1422" opacity="0.71"/>
<circle cx="544.0" cy="730.4" r="0.58" fill="#ee1422" opacity="0.81"/>
<circle cx="540.5" cy="735.8" r="0.71" fill="#ee1422" opacity="0.69"/>
<circle cx="546.3" cy="732.7" r="0.66" fill="#ee1422" opacity="0.70"/>
<circle cx="543.8" cy="729.4" r="0.53" fill="#ee1422" opacity="0.69"/>
<circle cx="543.9" cy="733.1" r="0.61" fill="#ee1422" opacity="0.90"/>
<circle cx="544.3" cy="736.6" r="0.48" fill="#ee1422" opacity="0.69"/>
<circle cx="543.9" cy="732.5" r="0.58" fill="#ee1422" opacity="0.90"/>
<circle cx="540.4" cy="730.3" r="0.61" fill="#ee1422" opacity="0.56"/>
<circle cx="537.1" cy="732.8" r="0.50" fill="#ee1422" opacity="0.64"/>
<circle cx="540.7" cy="734.6" r="0.36" fill="#ee1422" opacity="0.83"/>
<circle cx="539.9" cy="733.6" r="0.47" fill="#ee1422" opacity="0.52"/>
<circle cx="537.8" cy="732.7" r="0.60" fill="#ee1422" opacity="0.70"/>
<circle cx="544.6" cy="731.8" r="0.43" fill="#ee1422" opacity="0.75"/>
<ellipse cx="496.0" cy="737.0" rx="3.00" ry="2.25" fill="#b0101c" opacity="0.33"/>
<circle cx="494.5" cy="737.7" r="0.64" fill="#ee1422" opacity="0.73"/>
<circle cx="493.6" cy="736.2" r="0.52" fill="#ee1422" opacity="0.73"/>
<circle cx="497.4" cy="736.9" r="0.54" fill="#ee1422" opacity="0.78"/>
<circle cx="496.1" cy="736.0" r="0.40" fill="#ee1422" opacity="0.62"/>
<circle cx="495.2" cy="736.0" r="0.36" fill="#ee1422" opacity="0.69"/>
<circle cx="497.4" cy="738.6" r="0.73" fill="#ee1422" opacity="0.84"/>
<circle cx="494.2" cy="736.4" r="0.36" fill="#ee1422" opacity="0.70"/>
<circle cx="494.3" cy="736.8" r="0.51" fill="#ee1422" opacity="0.92"/>
<circle cx="494.9" cy="737.9" r="0.53" fill="#ee1422" opacity="0.92"/>
<circle cx="498.0" cy="737.4" r="0.75" fill="#ee1422" opacity="0.74"/>
<circle cx="495.3" cy="738.2" r="0.63" fill="#ee1422" opacity="0.56"/>
<ellipse cx="493.0" cy="747.0" rx="2.50" ry="2.00" fill="#b0101c" opacity="0.33"/>
<circle cx="495.0" cy="746.5" r="0.71" fill="#ee1422" opacity="0.57"/>
<circle cx="494.5" cy="747.1" r="0.54" fill="#ee1422" opacity="0.74"/>
<circle cx="492.3" cy="746.5" r="0.72" fill="#ee1422" opacity="0.57"/>
<circle cx="493.4" cy="747.8" r="0.50" fill="#ee1422" opacity="0.57"/>
<circle cx="492.7" cy="745.8" r="0.40" fill="#ee1422" opacity="0.67"/>
<circle cx="493.8" cy="745.6" r="0.38" fill="#ee1422" opacity="0.76"/>
<circle cx="491.2" cy="747.1" r="0.65" fill="#ee1422" opacity="0.56"/>
<circle cx="492.3" cy="745.3" r="0.72" fill="#ee1422" opacity="0.67"/>
<circle cx="493.4" cy="748.7" r="0.75" fill="#ee1422" opacity="0.94"/>
<ellipse cx="473.0" cy="740.0" rx="2.00" ry="3.00" fill="#b0101c" opacity="0.33"/>
<circle cx="472.0" cy="739.0" r="0.72" fill="#ee1422" opacity="0.57"/>
<circle cx="471.8" cy="737.7" r="0.57" fill="#ee1422" opacity="0.83"/>
<circle cx="471.4" cy="741.1" r="0.44" fill="#ee1422" opacity="0.81"/>
<circle cx="473.6" cy="741.1" r="0.40" fill="#ee1422" opacity="0.65"/>
<circle cx="474.7" cy="740.1" r="0.72" fill="#ee1422" opacity="0.88"/>
<circle cx="474.4" cy="740.6" r="0.40" fill="#ee1422" opacity="0.76"/>
<circle cx="475.1" cy="740.3" r="0.53" fill="#ee1422" opacity="0.58"/>
<circle cx="472.0" cy="740.9" r="0.54" fill="#ee1422" opacity="0.69"/>
<circle cx="474.1" cy="739.6" r="0.38" fill="#ee1422" opacity="0.75"/>
<circle cx="471.8" cy="740.3" r="0.74" fill="#ee1422" opacity="0.88"/>
<ellipse cx="518.0" cy="750.0" rx="1.75" ry="1.50" fill="#b0101c" opacity="0.33"/>
<circle cx="517.3" cy="750.4" r="0.70" fill="#ee1422" opacity="0.86"/>
<circle cx="519.0" cy="749.6" r="0.44" fill="#ee1422" opacity="0.74"/>
<circle cx="516.5" cy="749.8" r="0.41" fill="#ee1422" opacity="0.93"/>
<circle cx="517.0" cy="749.8" r="0.59" fill="#ee1422" opacity="0.53"/>
<circle cx="518.6" cy="749.0" r="0.43" fill="#ee1422" opacity="0.52"/>
<circle cx="516.4" cy="749.7" r="0.45" fill="#ee1422" opacity="0.93"/>
<ellipse cx="486.0" cy="690.0" rx="1.25" ry="1.25" fill="#b0101c" opacity="0.33"/>
<circle cx="485.3" cy="689.4" r="0.74" fill="#ee1422" opacity="0.66"/>
<circle cx="485.8" cy="689.2" r="0.49" fill="#ee1422" opacity="0.74"/>
<circle cx="486.5" cy="689.8" r="0.51" fill="#ee1422" opacity="0.52"/>
<circle cx="485.6" cy="690.3" r="0.67" fill="#ee1422" opacity="0.81"/>
<circle cx="487.1" cy="689.7" r="0.49" fill="#ee1422" opacity="0.78"/>
<ellipse cx="530.0" cy="728.0" rx="2.00" ry="2.00" fill="#b0101c" opacity="0.33"/>
<circle cx="530.7" cy="729.1" r="0.39" fill="#ee1422" opacity="0.94"/>
<circle cx="529.5" cy="727.1" r="0.57" fill="#ee1422" opacity="0.68"/>
<circle cx="531.3" cy="726.9" r="0.63" fill="#ee1422" opacity="0.78"/>
<circle cx="530.9" cy="729.3" r="0.69" fill="#ee1422" opacity="0.67"/>
<circle cx="531.2" cy="728.0" r="0.36" fill="#ee1422" opacity="0.76"/>
<circle cx="529.1" cy="728.1" r="0.70" fill="#ee1422" opacity="0.61"/>
<circle cx="529.1" cy="728.3" r="0.56" fill="#ee1422" opacity="0.76"/>
<circle cx="529.8" cy="727.3" r="0.41" fill="#ee1422" opacity="0.57"/>
</g></g>
<g clip-path="url(#hc2)"><g filter="url(#bl1)">
<ellipse cx="627.9" cy="655.9" rx="4.0" ry="3.2" fill="url(#ng1)" transform="rotate(0 627.9 655.9)"/>
<ellipse cx="672.4" cy="655.9" rx="4.4" ry="3.2" fill="url(#ng1)" transform="rotate(0 672.4 655.9)"/>
<ellipse cx="675.8" cy="666.0" rx="3.2" ry="3.2" fill="url(#ng3)" transform="rotate(0 675.8 666.0)"/>
<ellipse cx="664.0" cy="676.0" rx="5.0" ry="4.0" fill="url(#ng3)" transform="rotate(0 664.0 676.0)"/>
<ellipse cx="590.1" cy="672.7" rx="2.6" ry="3.8" fill="url(#ng1)" transform="rotate(0 590.1 672.7)"/>
<ellipse cx="591.8" cy="681.9" rx="3.0" ry="3.8" fill="url(#ng1)" transform="rotate(0 591.8 681.9)"/>
<ellipse cx="579.2" cy="679.4" rx="2.8" ry="3.4" fill="url(#ng1)" transform="rotate(0 579.2 679.4)"/>
<ellipse cx="630.4" cy="697.0" rx="4.4" ry="3.6" fill="url(#ng1)" transform="rotate(0 630.4 697.0)"/>
<ellipse cx="642.2" cy="697.8" rx="3.6" ry="4.2" fill="url(#ng1)" transform="rotate(0 642.2 697.8)"/>
<ellipse cx="614.5" cy="703.7" rx="4.2" ry="3.4" fill="url(#ng1)" transform="rotate(0 614.5 703.7)"/>
<ellipse cx="596.0" cy="707.9" rx="4.6" ry="3.6" fill="url(#ng1)" transform="rotate(0 596.0 707.9)"/>
<ellipse cx="588.5" cy="713.0" rx="4.0" ry="3.6" fill="url(#ng1)" transform="rotate(0 588.5 713.0)"/>
<ellipse cx="620.4" cy="718.0" rx="3.0" ry="4.0" fill="url(#ng1)" transform="rotate(30 620.4 718.0)"/>
<ellipse cx="617.8" cy="728.1" rx="3.4" ry="4.4" fill="url(#ng1)" transform="rotate(20 617.8 728.1)"/>
<ellipse cx="668.2" cy="716.3" rx="3.8" ry="4.0" fill="url(#ng1)" transform="rotate(0 668.2 716.3)"/>
<ellipse cx="654.8" cy="733.1" rx="4.0" ry="3.6" fill="url(#ng1)" transform="rotate(0 654.8 733.1)"/>
<ellipse cx="593.5" cy="744.8" rx="4.0" ry="3.6" fill="url(#ng1)" transform="rotate(0 593.5 744.8)"/>
<ellipse cx="613.6" cy="748.2" rx="4.2" ry="3.4" fill="url(#ng1)" transform="rotate(0 613.6 748.2)"/>
<ellipse cx="629.6" cy="746.5" rx="4.6" ry="4.0" fill="url(#ng1)" transform="rotate(0 629.6 746.5)"/>
<ellipse cx="640.5" cy="752.7" rx="4.0" ry="2.2" fill="url(#ng1)" transform="rotate(0 640.5 752.7)"/>
<ellipse cx="670.7" cy="752.7" rx="3.0" ry="1.8" fill="url(#ng1)" transform="rotate(0 670.7 752.7)"/>
</g><g filter="url(#bl2)">
<ellipse cx="630.0" cy="695.0" rx="6.88" ry="5.62" fill="#b0101c" opacity="0.33"/>
<circle cx="625.8" cy="695.8" r="0.41" fill="#ee1422" opacity="0.89"/>
<circle cx="635.0" cy="695.2" r="0.71" fill="#ee1422" opacity="0.54"/>
<circle cx="624.8" cy="693.5" r="0.37" fill="#ee1422" opacity="0.67"/>
<circle cx="628.6" cy="691.3" r="0.64" fill="#ee1422" opacity="0.57"/>
<circle cx="630.2" cy="697.5" r="0.55" fill="#ee1422" opacity="0.92"/>
<circle cx="624.7" cy="692.2" r="0.50" fill="#ee1422" opacity="0.84"/>
<circle cx="633.1" cy="696.9" r="0.62" fill="#ee1422" opacity="0.83"/>
<circle cx="627.4" cy="696.1" r="0.46" fill="#ee1422" opacity="0.59"/>
<circle cx="628.7" cy="700.2" r="0.43" fill="#ee1422" opacity="0.90"/>
<circle cx="632.0" cy="693.5" r="0.50" fill="#ee1422" opacity="0.72"/>
<circle cx="634.5" cy="695.6" r="0.71" fill="#ee1422" opacity="0.55"/>
<circle cx="627.5" cy="693.6" r="0.58" fill="#ee1422" opacity="0.90"/>
<circle cx="630.7" cy="697.0" r="0.38" fill="#ee1422" opacity="0.74"/>
<circle cx="632.9" cy="695.3" r="0.55" fill="#ee1422" opacity="0.91"/>
<circle cx="626.1" cy="696.8" r="0.61" fill="#ee1422" opacity="0.54"/>
<circle cx="627.1" cy="693.7" r="0.59" fill="#ee1422" opacity="0.93"/>
<circle cx="634.9" cy="696.4" r="0.59" fill="#ee1422" opacity="0.57"/>
<circle cx="629.2" cy="701.0" r="0.75" fill="#ee1422" opacity="0.55"/>
<circle cx="628.0" cy="689.4" r="0.44" fill="#ee1422" opacity="0.78"/>
<circle cx="634.1" cy="695.9" r="0.62" fill="#ee1422" opacity="0.77"/>
<circle cx="630.4" cy="692.7" r="0.49" fill="#ee1422" opacity="0.89"/>
<circle cx="625.9" cy="693.1" r="0.51" fill="#ee1422" opacity="0.94"/>
<circle cx="627.7" cy="694.1" r="0.67" fill="#ee1422" opacity="0.65"/>
<circle cx="626.8" cy="696.2" r="0.53" fill="#ee1422" opacity="0.65"/>
<circle cx="634.7" cy="697.4" r="0.39" fill="#ee1422" opacity="0.85"/>
<circle cx="636.3" cy="695.8" r="0.67" fill="#ee1422" opacity="0.72"/>
<circle cx="629.1" cy="692.1" r="0.65" fill="#ee1422" opacity="0.69"/>
<circle cx="630.9" cy="700.9" r="0.51" fill="#ee1422" opacity="0.67"/>
<circle cx="632.7" cy="692.3" r="0.62" fill="#ee1422" opacity="0.58"/>
<circle cx="632.1" cy="692.4" r="0.37" fill="#ee1422" opacity="0.94"/>
<circle cx="633.3" cy="700.2" r="0.74" fill="#ee1422" opacity="0.77"/>
<circle cx="632.8" cy="695.2" r="0.43" fill="#ee1422" opacity="0.67"/>
<circle cx="624.5" cy="691.2" r="0.49" fill="#ee1422" opacity="0.56"/>
<circle cx="627.1" cy="694.0" r="0.38" fill="#ee1422" opacity="0.75"/>
<circle cx="629.1" cy="692.8" r="0.53" fill="#ee1422" opacity="0.82"/>
<circle cx="630.4" cy="691.4" r="0.70" fill="#ee1422" opacity="0.58"/>
<circle cx="628.6" cy="690.0" r="0.70" fill="#ee1422" opacity="0.72"/>
<circle cx="632.2" cy="696.3" r="0.56" fill="#ee1422" opacity="0.58"/>
<circle cx="628.0" cy="693.3" r="0.66" fill="#ee1422" opacity="0.60"/>
<circle cx="633.3" cy="695.2" r="0.53" fill="#ee1422" opacity="0.75"/>
<circle cx="627.5" cy="696.8" r="0.54" fill="#ee1422" opacity="0.93"/>
<circle cx="623.0" cy="693.7" r="0.36" fill="#ee1422" opacity="0.95"/>
<circle cx="634.0" cy="692.3" r="0.56" fill="#ee1422" opacity="0.74"/>
<circle cx="632.4" cy="693.8" r="0.61" fill="#ee1422" opacity="0.74"/>
<circle cx="628.1" cy="699.7" r="0.64" fill="#ee1422" opacity="0.55"/>
<circle cx="628.5" cy="691.3" r="0.55" fill="#ee1422" opacity="0.79"/>
<ellipse cx="643.0" cy="697.0" rx="6.25" ry="6.50" fill="#b0101c" opacity="0.33"/>
<circle cx="647.7" cy="698.7" r="0.50" fill="#ee1422" opacity="0.90"/>
<circle cx="643.7" cy="703.1" r="0.64" fill="#ee1422" opacity="0.78"/>
<circle cx="644.7" cy="695.2" r="0.59" fill="#ee1422" opacity="0.78"/>
<circle cx="641.2" cy="693.2" r="0.38" fill="#ee1422" opacity="0.59"/>
<circle cx="640.6" cy="695.0" r="0.38" fill="#ee1422" opacity="0.66"/>
<circle cx="638.4" cy="697.9" r="0.36" fill="#ee1422" opacity="0.85"/>
<circle cx="640.1" cy="702.2" r="0.35" fill="#ee1422" opacity="0.93"/>
<circle cx="637.4" cy="693.3" r="0.74" fill="#ee1422" opacity="0.87"/>
<circle cx="646.0" cy="699.5" r="0.44" fill="#ee1422" opacity="0.85"/>
<circle cx="644.2" cy="700.2" r="0.39" fill="#ee1422" opacity="0.55"/>
<circle cx="649.1" cy="694.4" r="0.50" fill="#ee1422" opacity="0.83"/>
<circle cx="638.5" cy="698.0" r="0.50" fill="#ee1422" opacity="0.79"/>
<circle cx="643.3" cy="700.5" r="0.56" fill="#ee1422" opacity="0.59"/>
<circle cx="637.0" cy="699.5" r="0.36" fill="#ee1422" opacity="0.55"/>
<circle cx="643.8" cy="694.5" r="0.45" fill="#ee1422" opacity="0.88"/>
<circle cx="640.4" cy="694.9" r="0.37" fill="#ee1422" opacity="0.62"/>
<circle cx="641.2" cy="702.8" r="0.74" fill="#ee1422" opacity="0.85"/>
<circle cx="648.2" cy="693.1" r="0.70" fill="#ee1422" opacity="0.91"/>
<circle cx="645.6" cy="696.4" r="0.48" fill="#ee1422" opacity="0.61"/>
<circle cx="639.5" cy="694.2" r="0.49" fill="#ee1422" opacity="0.88"/>
<circle cx="640.4" cy="699.0" r="0.46" fill="#ee1422" opacity="0.71"/>
<circle cx="639.3" cy="693.8" r="0.53" fill="#ee1422" opacity="0.58"/>
<circle cx="640.0" cy="699.2" r="0.42" fill="#ee1422" opacity="0.74"/>
<circle cx="645.1" cy="702.3" r="0.61" fill="#ee1422" opacity="0.56"/>
<circle cx="640.3" cy="694.2" r="0.53" fill="#ee1422" opacity="0.77"/>
<circle cx="643.5" cy="690.5" r="0.64" fill="#ee1422" opacity="0.60"/>
<circle cx="639.4" cy="696.0" r="0.36" fill="#ee1422" opacity="0.75"/>
<circle cx="637.0" cy="698.2" r="0.48" fill="#ee1422" opacity="0.88"/>
<circle cx="640.3" cy="696.8" r="0.64" fill="#ee1422" opacity="0.63"/>
<circle cx="640.5" cy="696.4" r="0.35" fill="#ee1422" opacity="0.91"/>
<circle cx="645.8" cy="697.8" r="0.42" fill="#ee1422" opacity="0.54"/>
<circle cx="646.0" cy="690.7" r="0.61" fill="#ee1422" opacity="0.68"/>
<circle cx="646.5" cy="694.0" r="0.40" fill="#ee1422" opacity="0.81"/>
<circle cx="640.8" cy="699.8" r="0.48" fill="#ee1422" opacity="0.67"/>
<circle cx="645.1" cy="701.7" r="0.70" fill="#ee1422" opacity="0.76"/>
<circle cx="648.3" cy="697.3" r="0.36" fill="#ee1422" opacity="0.72"/>
<circle cx="646.5" cy="692.9" r="0.71" fill="#ee1422" opacity="0.84"/>
<circle cx="642.6" cy="700.0" r="0.53" fill="#ee1422" opacity="0.81"/>
<circle cx="643.4" cy="700.9" r="0.65" fill="#ee1422" opacity="0.66"/>
<circle cx="639.2" cy="694.1" r="0.72" fill="#ee1422" opacity="0.51"/>
<circle cx="645.2" cy="702.5" r="0.62" fill="#ee1422" opacity="0.54"/>
<circle cx="645.1" cy="699.5" r="0.57" fill="#ee1422" opacity="0.91"/>
<circle cx="643.7" cy="700.2" r="0.62" fill="#ee1422" opacity="0.69"/>
<circle cx="646.9" cy="691.2" r="0.72" fill="#ee1422" opacity="0.82"/>
<circle cx="640.5" cy="697.1" r="0.67" fill="#ee1422" opacity="0.68"/>
<circle cx="638.0" cy="698.2" r="0.74" fill="#ee1422" opacity="0.75"/>
<circle cx="648.7" cy="693.6" r="0.38" fill="#ee1422" opacity="0.66"/>
<circle cx="647.4" cy="693.2" r="0.74" fill="#ee1422" opacity="0.58"/>
<ellipse cx="614.0" cy="702.0" rx="4.00" ry="3.75" fill="#b0101c" opacity="0.33"/>
<circle cx="610.0" cy="701.2" r="0.57" fill="#ee1422" opacity="0.80"/>
<circle cx="615.9" cy="701.7" r="0.37" fill="#ee1422" opacity="0.88"/>
<circle cx="612.2" cy="701.1" r="0.68" fill="#ee1422" opacity="0.63"/>
<circle cx="615.6" cy="703.6" r="0.36" fill="#ee1422" opacity="0.68"/>
<circle cx="614.5" cy="699.5" r="0.74" fill="#ee1422" opacity="0.52"/>
<circle cx="614.9" cy="703.5" r="0.58" fill="#ee1422" opacity="0.59"/>
<circle cx="612.5" cy="699.6" r="0.58" fill="#ee1422" opacity="0.88"/>
<circle cx="615.0" cy="698.3" r="0.41" fill="#ee1422" opacity="0.67"/>
<circle cx="616.5" cy="701.4" r="0.46" fill="#ee1422" opacity="0.72"/>
<circle cx="615.6" cy="705.3" r="0.60" fill="#ee1422" opacity="0.54"/>
<circle cx="616.9" cy="701.4" r="0.45" fill="#ee1422" opacity="0.78"/>
<circle cx="616.3" cy="701.3" r="0.36" fill="#ee1422" opacity="0.59"/>
<circle cx="616.8" cy="703.0" r="0.47" fill="#ee1422" opacity="0.88"/>
<circle cx="614.4" cy="703.3" r="0.54" fill="#ee1422" opacity="0.56"/>
<circle cx="613.2" cy="703.8" r="0.42" fill="#ee1422" opacity="0.79"/>
<circle cx="616.3" cy="701.1" r="0.61" fill="#ee1422" opacity="0.65"/>
<circle cx="616.6" cy="700.6" r="0.36" fill="#ee1422" opacity="0.83"/>
<circle cx="614.4" cy="703.4" r="0.36" fill="#ee1422" opacity="0.88"/>
<circle cx="613.4" cy="699.8" r="0.57" fill="#ee1422" opacity="0.82"/>
<circle cx="617.1" cy="703.5" r="0.63" fill="#ee1422" opacity="0.92"/>
<ellipse cx="597.0" cy="706.0" rx="3.25" ry="2.75" fill="#b0101c" opacity="0.33"/>
<circle cx="599.3" cy="706.8" r="0.55" fill="#ee1422" opacity="0.88"/>
<circle cx="595.2" cy="707.7" r="0.71" fill="#ee1422" opacity="0.66"/>
<circle cx="593.8" cy="705.7" r="0.36" fill="#ee1422" opacity="0.94"/>
<circle cx="596.1" cy="707.7" r="0.47" fill="#ee1422" opacity="0.86"/>
<circle cx="594.1" cy="705.5" r="0.39" fill="#ee1422" opacity="0.90"/>
<circle cx="598.2" cy="703.9" r="0.44" fill="#ee1422" opacity="0.62"/>
<circle cx="595.7" cy="706.3" r="0.73" fill="#ee1422" opacity="0.68"/>
<circle cx="598.5" cy="705.6" r="0.61" fill="#ee1422" opacity="0.86"/>
<circle cx="595.7" cy="704.6" r="0.36" fill="#ee1422" opacity="0.70"/>
<circle cx="594.4" cy="707.8" r="0.74" fill="#ee1422" opacity="0.93"/>
<circle cx="598.6" cy="705.8" r="0.36" fill="#ee1422" opacity="0.63"/>
<circle cx="598.4" cy="706.1" r="0.58" fill="#ee1422" opacity="0.59"/>
<circle cx="595.4" cy="704.9" r="0.46" fill="#ee1422" opacity="0.94"/>
<ellipse cx="588.0" cy="713.0" rx="3.25" ry="3.25" fill="#b0101c" opacity="0.33"/>
<circle cx="589.3" cy="716.0" r="0.56" fill="#ee1422" opacity="0.80"/>
<circle cx="589.8" cy="715.3" r="0.71" fill="#ee1422" opacity="0.59"/>
<circle cx="585.3" cy="713.5" r="0.54" fill="#ee1422" opacity="0.84"/>
<circle cx="586.8" cy="711.5" r="0.62" fill="#ee1422" opacity="0.85"/>
<circle cx="585.5" cy="713.6" r="0.60" fill="#ee1422" opacity="0.71"/>
<circle cx="589.8" cy="714.1" r="0.66" fill="#ee1422" opacity="0.83"/>
<circle cx="590.0" cy="714.0" r="0.59" fill="#ee1422" opacity="0.74"/>
<circle cx="589.6" cy="715.2" r="0.63" fill="#ee1422" opacity="0.74"/>
<circle cx="590.3" cy="712.1" r="0.35" fill="#ee1422" opacity="0.63"/>
<circle cx="587.6" cy="711.7" r="0.74" fill="#ee1422" opacity="0.81"/>
<circle cx="588.1" cy="711.4" r="0.35" fill="#ee1422" opacity="0.89"/>
<circle cx="585.8" cy="712.8" r="0.56" fill="#ee1422" opacity="0.85"/>
<circle cx="585.9" cy="715.1" r="0.41" fill="#ee1422" opacity="0.94"/>
<circle cx="587.4" cy="711.2" r="0.54" fill="#ee1422" opacity="0.90"/>
<circle cx="586.7" cy="715.5" r="0.71" fill="#ee1422" opacity="0.93"/>
<ellipse cx="624.0" cy="714.0" rx="4.00" ry="6.88" fill="#b0101c" opacity="0.33"/>
<circle cx="623.9" cy="720.4" r="0.59" fill="#ee1422" opacity="0.86"/>
<circle cx="626.4" cy="715.9" r="0.53" fill="#ee1422" opacity="0.87"/>
<circle cx="622.5" cy="714.8" r="0.43" fill="#ee1422" opacity="0.87"/>
<circle cx="626.3" cy="710.4" r="0.38" fill="#ee1422" opacity="0.85"/>
<circle cx="625.5" cy="711.1" r="0.54" fill="#ee1422" opacity="0.63"/>
<circle cx="627.4" cy="716.0" r="0.41" fill="#ee1422" opacity="0.54"/>
<circle cx="625.4" cy="712.4" r="0.65" fill="#ee1422" opacity="0.87"/>
<circle cx="624.0" cy="718.3" r="0.44" fill="#ee1422" opacity="0.82"/>
<circle cx="627.5" cy="713.0" r="0.55" fill="#ee1422" opacity="0.74"/>
<circle cx="621.1" cy="717.3" r="0.46" fill="#ee1422" opacity="0.61"/>
<circle cx="623.3" cy="710.5" r="0.75" fill="#ee1422" opacity="0.83"/>
<circle cx="624.6" cy="716.4" r="0.59" fill="#ee1422" opacity="0.56"/>
<circle cx="620.8" cy="714.0" r="0.67" fill="#ee1422" opacity="0.67"/>
<circle cx="620.4" cy="712.1" r="0.40" fill="#ee1422" opacity="0.65"/>
<circle cx="624.9" cy="710.0" r="0.72" fill="#ee1422" opacity="0.54"/>
<circle cx="626.1" cy="716.2" r="0.54" fill="#ee1422" opacity="0.67"/>
<circle cx="624.5" cy="718.6" r="0.71" fill="#ee1422" opacity="0.92"/>
<circle cx="622.5" cy="711.3" r="0.58" fill="#ee1422" opacity="0.57"/>
<circle cx="627.4" cy="716.5" r="0.46" fill="#ee1422" opacity="0.57"/>
<circle cx="624.8" cy="711.2" r="0.44" fill="#ee1422" opacity="0.57"/>
<circle cx="626.7" cy="710.3" r="0.42" fill="#ee1422" opacity="0.53"/>
<circle cx="625.5" cy="712.3" r="0.64" fill="#ee1422" opacity="0.81"/>
<circle cx="621.6" cy="711.5" r="0.52" fill="#ee1422" opacity="0.63"/>
<circle cx="622.9" cy="711.4" r="0.54" fill="#ee1422" opacity="0.62"/>
<circle cx="621.3" cy="719.1" r="0.58" fill="#ee1422" opacity="0.79"/>
<circle cx="623.1" cy="712.0" r="0.66" fill="#ee1422" opacity="0.89"/>
<circle cx="623.9" cy="708.9" r="0.69" fill="#ee1422" opacity="0.92"/>
<circle cx="623.7" cy="717.2" r="0.49" fill="#ee1422" opacity="0.51"/>
<circle cx="624.2" cy="716.9" r="0.35" fill="#ee1422" opacity="0.68"/>
<circle cx="626.8" cy="714.2" r="0.69" fill="#ee1422" opacity="0.82"/>
<circle cx="627.3" cy="716.0" r="0.43" fill="#ee1422" opacity="0.86"/>
<circle cx="622.1" cy="709.9" r="0.52" fill="#ee1422" opacity="0.94"/>
<circle cx="625.0" cy="720.7" r="0.43" fill="#ee1422" opacity="0.54"/>
<ellipse cx="617.0" cy="727.0" rx="3.75" ry="4.50" fill="#b0101c" opacity="0.33"/>
<circle cx="617.3" cy="728.7" r="0.68" fill="#ee1422" opacity="0.58"/>
<circle cx="615.1" cy="725.9" r="0.49" fill="#ee1422" opacity="0.85"/>
<circle cx="615.0" cy="726.2" r="0.65" fill="#ee1422" opacity="0.56"/>
<circle cx="620.1" cy="728.0" r="0.69" fill="#ee1422" opacity="0.84"/>
<circle cx="615.7" cy="722.6" r="0.72" fill="#ee1422" opacity="0.76"/>
<circle cx="618.3" cy="730.1" r="0.52" fill="#ee1422" opacity="0.82"/>
<circle cx="616.1" cy="728.5" r="0.43" fill="#ee1422" opacity="0.56"/>
<circle cx="616.7" cy="723.2" r="0.56" fill="#ee1422" opacity="0.64"/>
<circle cx="616.7" cy="724.0" r="0.55" fill="#ee1422" opacity="0.59"/>
<circle cx="619.5" cy="726.9" r="0.54" fill="#ee1422" opacity="0.59"/>
<circle cx="614.5" cy="728.0" r="0.52" fill="#ee1422" opacity="0.83"/>
<circle cx="615.5" cy="730.1" r="0.62" fill="#ee1422" opacity="0.56"/>
<circle cx="617.7" cy="725.3" r="0.45" fill="#ee1422" opacity="0.87"/>
<circle cx="618.5" cy="728.7" r="0.52" fill="#ee1422" opacity="0.93"/>
<circle cx="618.9" cy="726.5" r="0.61" fill="#ee1422" opacity="0.87"/>
<circle cx="614.8" cy="726.8" r="0.41" fill="#ee1422" opacity="0.53"/>
<circle cx="618.4" cy="727.5" r="0.64" fill="#ee1422" opacity="0.77"/>
<circle cx="620.5" cy="728.9" r="0.74" fill="#ee1422" opacity="0.69"/>
<circle cx="614.6" cy="730.4" r="0.62" fill="#ee1422" opacity="0.84"/>
<circle cx="618.4" cy="730.6" r="0.53" fill="#ee1422" opacity="0.52"/>
<circle cx="619.0" cy="727.7" r="0.44" fill="#ee1422" opacity="0.62"/>
<circle cx="619.1" cy="725.5" r="0.43" fill="#ee1422" opacity="0.55"/>
<ellipse cx="665.0" cy="677.0" rx="3.75" ry="4.25" fill="#b0101c" opacity="0.33"/>
<circle cx="667.3" cy="678.0" r="0.52" fill="#ee1422" opacity="0.54"/>
<circle cx="662.7" cy="676.7" r="0.36" fill="#ee1422" opacity="0.71"/>
<circle cx="666.0" cy="678.7" r="0.65" fill="#ee1422" opacity="0.69"/>
<circle cx="663.2" cy="679.5" r="0.64" fill="#ee1422" opacity="0.78"/>
<circle cx="668.1" cy="675.8" r="0.49" fill="#ee1422" opacity="0.93"/>
<circle cx="666.8" cy="677.2" r="0.40" fill="#ee1422" opacity="0.67"/>
<circle cx="663.5" cy="679.2" r="0.60" fill="#ee1422" opacity="0.66"/>
<circle cx="661.8" cy="677.4" r="0.72" fill="#ee1422" opacity="0.93"/>
<circle cx="663.4" cy="679.0" r="0.75" fill="#ee1422" opacity="0.88"/>
<circle cx="666.2" cy="675.7" r="0.47" fill="#ee1422" opacity="0.69"/>
<circle cx="664.1" cy="679.7" r="0.73" fill="#ee1422" opacity="0.67"/>
<circle cx="662.8" cy="676.9" r="0.59" fill="#ee1422" opacity="0.75"/>
<circle cx="665.6" cy="678.6" r="0.65" fill="#ee1422" opacity="0.87"/>
<circle cx="664.0" cy="678.8" r="0.39" fill="#ee1422" opacity="0.78"/>
<circle cx="661.6" cy="674.9" r="0.62" fill="#ee1422" opacity="0.76"/>
<circle cx="661.8" cy="674.6" r="0.72" fill="#ee1422" opacity="0.58"/>
<circle cx="666.2" cy="678.3" r="0.36" fill="#ee1422" opacity="0.88"/>
<circle cx="667.6" cy="676.3" r="0.65" fill="#ee1422" opacity="0.80"/>
<circle cx="663.7" cy="674.7" r="0.73" fill="#ee1422" opacity="0.64"/>
<circle cx="666.2" cy="678.0" r="0.67" fill="#ee1422" opacity="0.85"/>
<circle cx="667.1" cy="673.8" r="0.44" fill="#ee1422" opacity="0.66"/>
<ellipse cx="676.0" cy="666.0" rx="2.50" ry="2.50" fill="#b0101c" opacity="0.33"/>
<circle cx="675.5" cy="668.4" r="0.35" fill="#ee1422" opacity="0.64"/>
<circle cx="674.8" cy="664.3" r="0.35" fill="#ee1422" opacity="0.55"/>
<circle cx="676.6" cy="667.1" r="0.55" fill="#ee1422" opacity="0.51"/>
<circle cx="676.8" cy="664.5" r="0.61" fill="#ee1422" opacity="0.66"/>
<circle cx="676.6" cy="665.1" r="0.70" fill="#ee1422" opacity="0.61"/>
<circle cx="674.1" cy="665.8" r="0.62" fill="#ee1422" opacity="0.74"/>
<circle cx="675.8" cy="665.0" r="0.56" fill="#ee1422" opacity="0.73"/>
<circle cx="675.2" cy="665.3" r="0.63" fill="#ee1422" opacity="0.54"/>
<circle cx="677.0" cy="666.3" r="0.74" fill="#ee1422" opacity="0.57"/>
<circle cx="675.6" cy="665.1" r="0.59" fill="#ee1422" opacity="0.60"/>
<ellipse cx="628.0" cy="655.0" rx="3.75" ry="3.00" fill="#b0101c" opacity="0.33"/>
<circle cx="625.3" cy="653.4" r="0.62" fill="#ee1422" opacity="0.74"/>
<circle cx="627.7" cy="653.9" r="0.37" fill="#ee1422" opacity="0.61"/>
<circle cx="624.7" cy="655.8" r="0.36" fill="#ee1422" opacity="0.59"/>
<circle cx="625.8" cy="654.7" r="0.38" fill="#ee1422" opacity="0.63"/>
<circle cx="629.4" cy="655.2" r="0.69" fill="#ee1422" opacity="0.64"/>
<circle cx="627.6" cy="653.4" r="0.65" fill="#ee1422" opacity="0.90"/>
<circle cx="631.0" cy="655.3" r="0.71" fill="#ee1422" opacity="0.85"/>
<circle cx="630.4" cy="656.8" r="0.65" fill="#ee1422" opacity="0.57"/>
<circle cx="626.3" cy="653.0" r="0.43" fill="#ee1422" opacity="0.87"/>
<circle cx="629.0" cy="654.0" r="0.54" fill="#ee1422" opacity="0.76"/>
<circle cx="630.7" cy="655.1" r="0.73" fill="#ee1422" opacity="0.65"/>
<circle cx="624.1" cy="655.1" r="0.70" fill="#ee1422" opacity="0.93"/>
<circle cx="631.4" cy="656.7" r="0.48" fill="#ee1422" opacity="0.66"/>
<circle cx="629.4" cy="657.6" r="0.59" fill="#ee1422" opacity="0.71"/>
<circle cx="625.3" cy="655.1" r="0.58" fill="#ee1422" opacity="0.57"/>
<circle cx="627.6" cy="653.4" r="0.36" fill="#ee1422" opacity="0.93"/>
<ellipse cx="592.0" cy="674.0" rx="2.25" ry="2.50" fill="#b0101c" opacity="0.33"/>
<circle cx="593.7" cy="675.4" r="0.66" fill="#ee1422" opacity="0.69"/>
<circle cx="591.1" cy="673.2" r="0.44" fill="#ee1422" opacity="0.90"/>
<circle cx="592.0" cy="671.7" r="0.53" fill="#ee1422" opacity="0.52"/>
<circle cx="592.3" cy="671.4" r="0.48" fill="#ee1422" opacity="0.78"/>
<circle cx="593.4" cy="676.1" r="0.63" fill="#ee1422" opacity="0.53"/>
<circle cx="591.4" cy="672.0" r="0.52" fill="#ee1422" opacity="0.76"/>
<circle cx="593.7" cy="673.1" r="0.54" fill="#ee1422" opacity="0.94"/>
<circle cx="590.7" cy="672.2" r="0.57" fill="#ee1422" opacity="0.84"/>
<circle cx="592.2" cy="672.2" r="0.54" fill="#ee1422" opacity="0.59"/>
<circle cx="590.9" cy="672.2" r="0.51" fill="#ee1422" opacity="0.53"/>
<ellipse cx="579.0" cy="682.0" rx="2.25" ry="2.25" fill="#b0101c" opacity="0.33"/>
<circle cx="578.5" cy="680.2" r="0.61" fill="#ee1422" opacity="0.57"/>
<circle cx="580.5" cy="680.7" r="0.67" fill="#ee1422" opacity="0.57"/>
<circle cx="578.8" cy="683.7" r="0.35" fill="#ee1422" opacity="0.94"/>
<circle cx="579.5" cy="682.9" r="0.67" fill="#ee1422" opacity="0.61"/>
<circle cx="577.3" cy="681.2" r="0.43" fill="#ee1422" opacity="0.52"/>
<circle cx="578.4" cy="679.9" r="0.67" fill="#ee1422" opacity="0.55"/>
<circle cx="578.2" cy="683.3" r="0.36" fill="#ee1422" opacity="0.90"/>
<circle cx="580.1" cy="679.9" r="0.72" fill="#ee1422" opacity="0.88"/>
<circle cx="578.5" cy="683.8" r="0.70" fill="#ee1422" opacity="0.50"/>
<ellipse cx="668.0" cy="716.0" rx="2.50" ry="3.00" fill="#b0101c" opacity="0.33"/>
<circle cx="670.4" cy="717.4" r="0.39" fill="#ee1422" opacity="0.91"/>
<circle cx="667.0" cy="717.1" r="0.50" fill="#ee1422" opacity="0.90"/>
<circle cx="667.3" cy="714.9" r="0.68" fill="#ee1422" opacity="0.66"/>
<circle cx="668.8" cy="714.1" r="0.69" fill="#ee1422" opacity="0.75"/>
<circle cx="666.4" cy="718.6" r="0.74" fill="#ee1422" opacity="0.75"/>
<circle cx="666.0" cy="715.7" r="0.62" fill="#ee1422" opacity="0.62"/>
<circle cx="669.5" cy="715.2" r="0.75" fill="#ee1422" opacity="0.76"/>
<circle cx="670.2" cy="714.5" r="0.46" fill="#ee1422" opacity="0.52"/>
<circle cx="666.3" cy="714.9" r="0.48" fill="#ee1422" opacity="0.66"/>
<circle cx="667.8" cy="717.3" r="0.53" fill="#ee1422" opacity="0.74"/>
<circle cx="665.8" cy="717.1" r="0.52" fill="#ee1422" opacity="0.84"/>
<circle cx="668.1" cy="713.8" r="0.54" fill="#ee1422" opacity="0.61"/>
<ellipse cx="656.0" cy="735.0" rx="3.00" ry="2.75" fill="#b0101c" opacity="0.33"/>
<circle cx="654.8" cy="732.5" r="0.74" fill="#ee1422" opacity="0.86"/>
<circle cx="658.3" cy="734.6" r="0.53" fill="#ee1422" opacity="0.94"/>
<circle cx="655.4" cy="734.0" r="0.69" fill="#ee1422" opacity="0.77"/>
<circle cx="657.2" cy="733.6" r="0.60" fill="#ee1422" opacity="0.77"/>
<circle cx="653.8" cy="733.2" r="0.51" fill="#ee1422" opacity="0.80"/>
<circle cx="657.2" cy="734.6" r="0.69" fill="#ee1422" opacity="0.81"/>
<circle cx="654.9" cy="735.4" r="0.55" fill="#ee1422" opacity="0.57"/>
<circle cx="656.7" cy="736.9" r="0.60" fill="#ee1422" opacity="0.92"/>
<circle cx="654.1" cy="733.2" r="0.57" fill="#ee1422" opacity="0.51"/>
<circle cx="655.4" cy="736.1" r="0.59" fill="#ee1422" opacity="0.64"/>
<circle cx="654.6" cy="733.9" r="0.37" fill="#ee1422" opacity="0.60"/>
<circle cx="657.9" cy="734.2" r="0.62" fill="#ee1422" opacity="0.74"/>
<ellipse cx="594.0" cy="745.0" rx="3.00" ry="2.75" fill="#b0101c" opacity="0.33"/>
<circle cx="591.5" cy="745.6" r="0.71" fill="#ee1422" opacity="0.78"/>
<circle cx="594.4" cy="743.4" r="0.46" fill="#ee1422" opacity="0.50"/>
<circle cx="592.8" cy="744.8" r="0.46" fill="#ee1422" opacity="0.71"/>
<circle cx="592.9" cy="746.0" r="0.52" fill="#ee1422" opacity="0.91"/>
<circle cx="591.7" cy="744.1" r="0.75" fill="#ee1422" opacity="0.79"/>
<circle cx="596.5" cy="744.3" r="0.67" fill="#ee1422" opacity="0.77"/>
<circle cx="596.3" cy="745.0" r="0.48" fill="#ee1422" opacity="0.79"/>
<circle cx="595.7" cy="746.0" r="0.73" fill="#ee1422" opacity="0.57"/>
<circle cx="592.5" cy="745.9" r="0.60" fill="#ee1422" opacity="0.88"/>
<circle cx="593.0" cy="746.9" r="0.36" fill="#ee1422" opacity="0.61"/>
<circle cx="591.8" cy="746.1" r="0.70" fill="#ee1422" opacity="0.90"/>
<circle cx="592.4" cy="744.9" r="0.68" fill="#ee1422" opacity="0.88"/>
<ellipse cx="630.0" cy="746.0" rx="3.75" ry="3.50" fill="#b0101c" opacity="0.33"/>
<circle cx="630.8" cy="743.2" r="0.60" fill="#ee1422" opacity="0.68"/>
<circle cx="627.9" cy="745.1" r="0.63" fill="#ee1422" opacity="0.90"/>
<circle cx="628.9" cy="748.9" r="0.39" fill="#ee1422" opacity="0.54"/>
<circle cx="630.8" cy="747.8" r="0.52" fill="#ee1422" opacity="0.67"/>
<circle cx="631.2" cy="745.2" r="0.70" fill="#ee1422" opacity="0.61"/>
<circle cx="629.2" cy="748.3" r="0.53" fill="#ee1422" opacity="0.76"/>
<circle cx="632.9" cy="746.6" r="0.37" fill="#ee1422" opacity="0.57"/>
<circle cx="629.5" cy="748.5" r="0.64" fill="#ee1422" opacity="0.52"/>
<circle cx="632.4" cy="746.4" r="0.44" fill="#ee1422" opacity="0.82"/>
<circle cx="631.5" cy="742.7" r="0.74" fill="#ee1422" opacity="0.93"/>
<circle cx="630.2" cy="748.7" r="0.40" fill="#ee1422" opacity="0.74"/>
<circle cx="629.1" cy="743.3" r="0.74" fill="#ee1422" opacity="0.67"/>
<circle cx="626.6" cy="747.6" r="0.67" fill="#ee1422" opacity="0.58"/>
<circle cx="627.3" cy="748.0" r="0.37" fill="#ee1422" opacity="0.87"/>
<circle cx="632.4" cy="744.2" r="0.40" fill="#ee1422" opacity="0.75"/>
<circle cx="632.1" cy="748.9" r="0.45" fill="#ee1422" opacity="0.52"/>
<circle cx="628.1" cy="746.6" r="0.70" fill="#ee1422" opacity="0.58"/>
<circle cx="631.7" cy="747.5" r="0.53" fill="#ee1422" opacity="0.74"/>
<ellipse cx="639.0" cy="750.0" rx="2.50" ry="2.00" fill="#b0101c" opacity="0.33"/>
<circle cx="640.6" cy="749.7" r="0.70" fill="#ee1422" opacity="0.56"/>
<circle cx="636.5" cy="750.2" r="0.68" fill="#ee1422" opacity="0.79"/>
<circle cx="641.3" cy="751.1" r="0.49" fill="#ee1422" opacity="0.80"/>
<circle cx="639.9" cy="750.5" r="0.52" fill="#ee1422" opacity="0.86"/>
<circle cx="639.1" cy="748.7" r="0.45" fill="#ee1422" opacity="0.76"/>
<circle cx="637.7" cy="750.4" r="0.40" fill="#ee1422" opacity="0.52"/>
<circle cx="641.0" cy="751.0" r="0.73" fill="#ee1422" opacity="0.86"/>
<circle cx="638.2" cy="748.8" r="0.46" fill="#ee1422" opacity="0.72"/>
<circle cx="637.0" cy="751.1" r="0.73" fill="#ee1422" opacity="0.68"/>
<ellipse cx="673.0" cy="654.0" rx="2.50" ry="2.50" fill="#b0101c" opacity="0.33"/>
<circle cx="672.6" cy="656.2" r="0.72" fill="#ee1422" opacity="0.94"/>
<circle cx="675.3" cy="653.7" r="0.68" fill="#ee1422" opacity="0.71"/>
<circle cx="672.6" cy="652.8" r="0.75" fill="#ee1422" opacity="0.61"/>
<circle cx="673.2" cy="651.7" r="0.70" fill="#ee1422" opacity="0.67"/>
<circle cx="672.1" cy="654.1" r="0.70" fill="#ee1422" opacity="0.76"/>
<circle cx="674.0" cy="655.2" r="0.50" fill="#ee1422" opacity="0.71"/>
<circle cx="672.5" cy="655.3" r="0.56" fill="#ee1422" opacity="0.84"/>
<circle cx="671.3" cy="654.3" r="0.50" fill="#ee1422" opacity="0.92"/>
<circle cx="673.1" cy="651.9" r="0.37" fill="#ee1422" opacity="0.84"/>
<circle cx="671.0" cy="654.9" r="0.54" fill="#ee1422" opacity="0.54"/>
<ellipse cx="614.0" cy="748.0" rx="2.25" ry="2.00" fill="#b0101c" opacity="0.33"/>
<circle cx="612.1" cy="747.5" r="0.42" fill="#ee1422" opacity="0.78"/>
<circle cx="613.9" cy="748.7" r="0.37" fill="#ee1422" opacity="0.68"/>
<circle cx="614.0" cy="749.0" r="0.48" fill="#ee1422" opacity="0.85"/>
<circle cx="612.3" cy="747.9" r="0.71" fill="#ee1422" opacity="0.61"/>
<circle cx="615.5" cy="746.9" r="0.64" fill="#ee1422" opacity="0.91"/>
<circle cx="614.8" cy="749.1" r="0.57" fill="#ee1422" opacity="0.74"/>
<circle cx="615.2" cy="747.9" r="0.46" fill="#ee1422" opacity="0.85"/>
<circle cx="614.4" cy="746.9" r="0.37" fill="#ee1422" opacity="0.72"/>
<ellipse cx="600.0" cy="713.0" rx="2.00" ry="2.00" fill="#b0101c" opacity="0.33"/>
<circle cx="598.2" cy="712.3" r="0.58" fill="#ee1422" opacity="0.74"/>
<circle cx="600.3" cy="711.4" r="0.60" fill="#ee1422" opacity="0.51"/>
<circle cx="599.6" cy="711.7" r="0.57" fill="#ee1422" opacity="0.74"/>
<circle cx="600.2" cy="712.1" r="0.70" fill="#ee1422" opacity="0.56"/>
<circle cx="600.8" cy="711.2" r="0.36" fill="#ee1422" opacity="0.75"/>
<circle cx="600.5" cy="711.9" r="0.41" fill="#ee1422" opacity="0.92"/>
<circle cx="600.4" cy="715.1" r="0.49" fill="#ee1422" opacity="0.92"/>
<circle cx="599.2" cy="712.7" r="0.44" fill="#ee1422" opacity="0.77"/>
</g></g>
<text x="365.70" y="663.30" font-size="10.2" text-anchor="start" fill="#e8141e" stroke="#e8141e" font-weight="bold">IgE-Cy3</text>
<text x="471.90" y="663.30" font-size="10.2" text-anchor="start" fill="#e8141e" stroke="#e8141e" font-weight="bold">IgE-Cy3</text>
<text x="578.80" y="663.30" font-size="10.2" text-anchor="start" fill="#e8141e" stroke="#e8141e" font-weight="bold">IgE-Cy3</text>
<rect x="667.00" y="745.30" width="10.10" height="1.50" fill="#fff"/>
</svg>
</body></html>
